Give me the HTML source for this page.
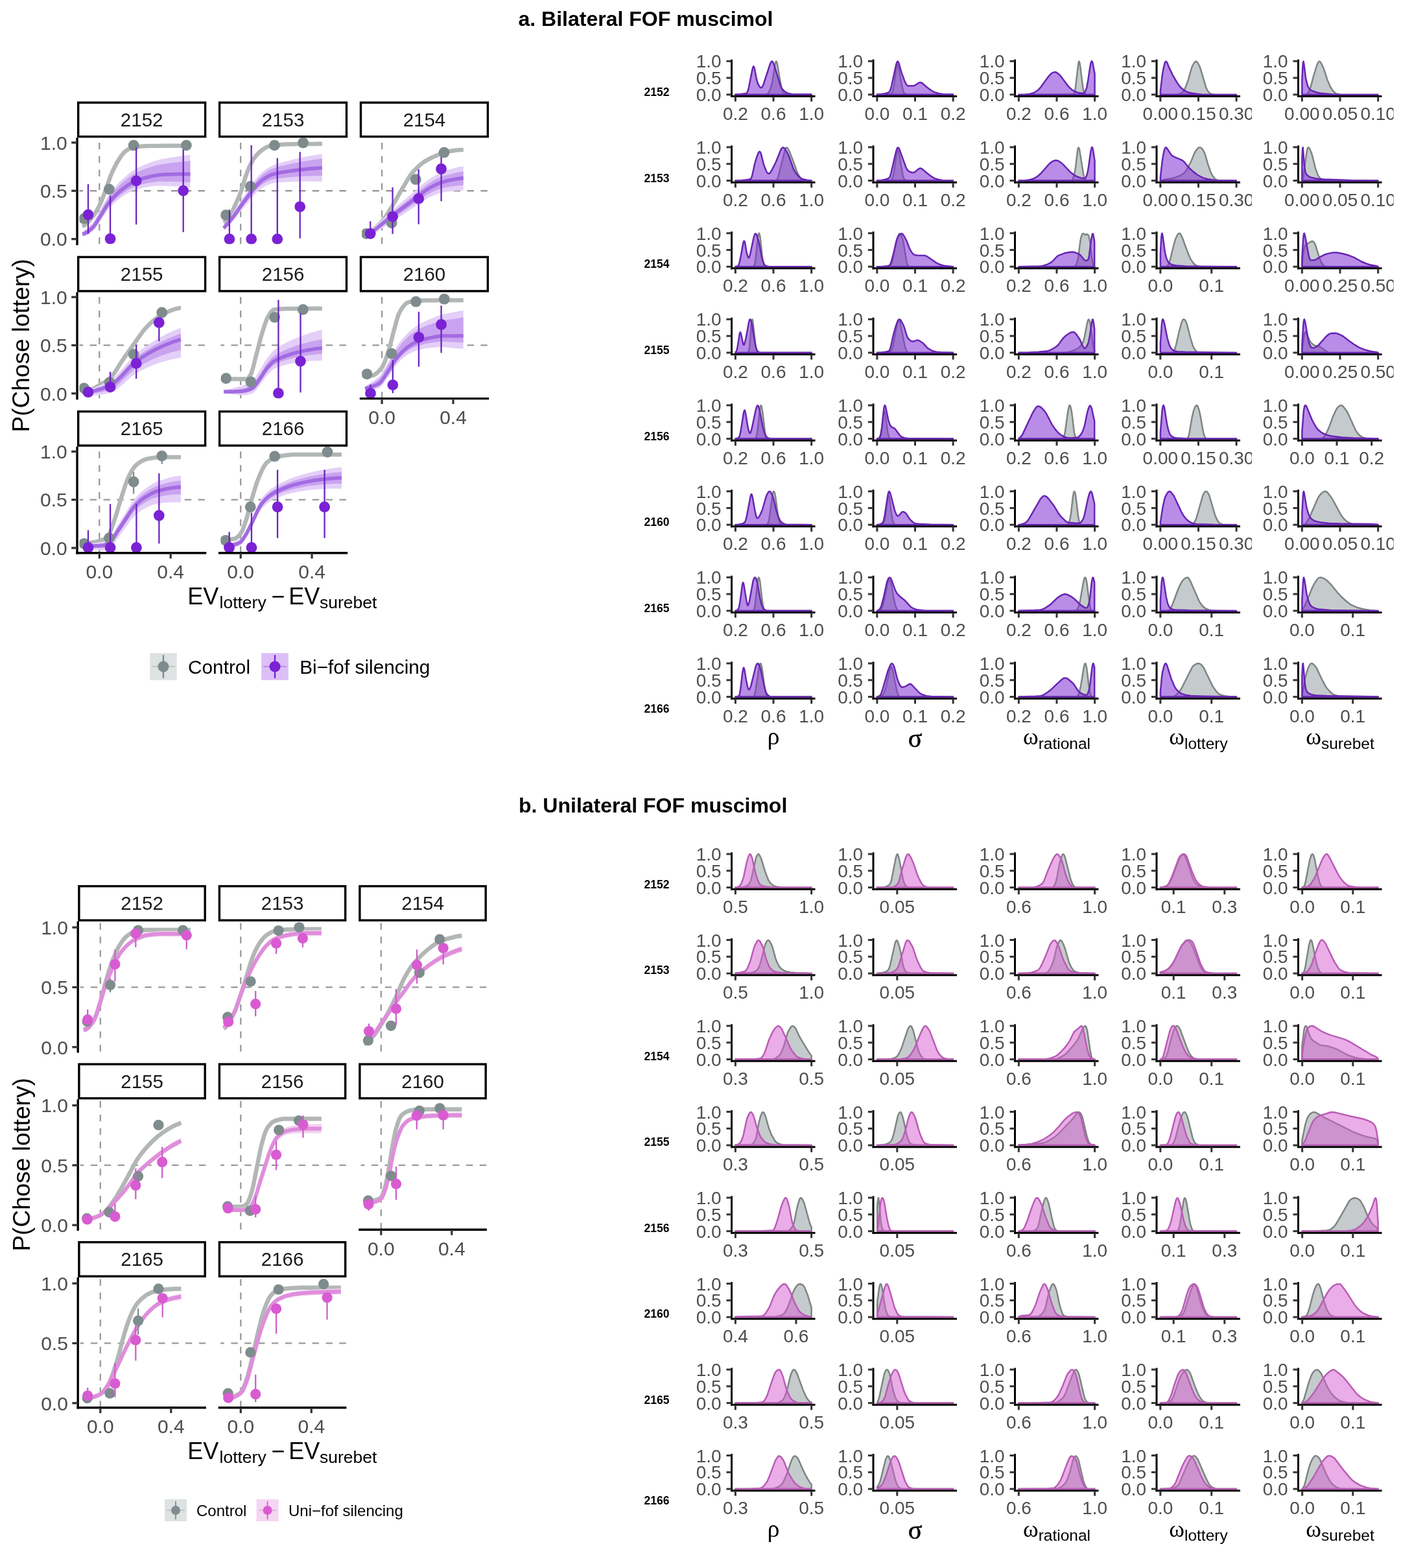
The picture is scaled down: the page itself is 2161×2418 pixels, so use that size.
<!DOCTYPE html>
<html><head><meta charset="utf-8"><title>FOF muscimol</title>
<style>html,body{margin:0;padding:0;background:#fff;} svg{display:block;}</style></head>
<body><svg width="2161" height="2418" viewBox="0 0 2161 2418" font-family="'Liberation Sans', Arial, Helvetica, sans-serif"><text x="799.50" y="39.90" font-size="32" text-anchor="start" fill="#000" font-weight="bold">a. Bilateral FOF muscimol</text>
<text x="800.00" y="1252.50" font-size="32" text-anchor="start" fill="#000" font-weight="bold">b. Unilateral FOF muscimol</text>
<clipPath id="clipA00"><rect x="122.40" y="212.40" width="195.90" height="164.00"/></clipPath>
<g clip-path="url(#clipA00)">
<line x1="153.30" y1="376.40" x2="153.30" y2="212.40" stroke="#999999" stroke-width="2.3" stroke-dasharray="10.4,10.47"/>
<line x1="117.80" y1="294.25" x2="318.30" y2="294.25" stroke="#999999" stroke-width="2.3" stroke-dasharray="10.4,10.47"/>
<path d="M127.2,346.6l3.3-2.1 3.3-2.8 3.4-3.4 3.3-3.8 3.3-4.1 3.3-4.9 3.4-5.6 3.3-6.4 3.3-7.7 3.3-8.7 3.4-8.9 3.3-9.8 3.3-9.3 3.3-7.7 3.4-6.9 3.3-6.3 3.3-5.3 3.3-5.1 3.4-4.3 3.3-3.2 3.3-2.2 3.3-1.8 3.4-1.2 3.3-.7 3.3-.5 3.3-.5 3.4-.4 3.3-.3 3.3-.2 3.3-.1 3.4,0 3.3-.1 3.3,0 3.3,0 3.4-.1 3.3,0 3.3,0 3.3-.1 3.4,0 3.3,0 3.3,0 3.3-.1 3.4,0 3.3,0 3.3,0 3.3,0 3.3,0 3.4,0 3.3,0 3.3,0 0,5.3 -3.3,0 -3.3,0 -3.4,0 -3.3,.1 -3.3,0 -3.3,0 -3.3,0 -3.4,0 -3.3,0 -3.3,0 -3.3,.1 -3.4,0 -3.3,0 -3.3,0 -3.3,.1 -3.4,0 -3.3,.1 -3.3,0 -3.3,0 -3.4,.1 -3.3,.1 -3.3,.2 -3.3,.3 -3.4,.4 -3.3,.4 -3.3,.6 -3.3,.7 -3.4,1.2 -3.3,1.8 -3.3,2.2 -3.3,3.1 -3.4,4.4 -3.3,5 -3.3,5.4 -3.3,6.2 -3.4,7 -3.3,7.7 -3.3,9.2 -3.3,9.8 -3.4,9 -3.3,8.6 -3.3,7.7 -3.3,6.4 -3.4,5.7 -3.3,4.8 -3.3,4.2 -3.3,3.8 -3.4,3.4 -3.3,2.8 -3.3,2.1Z" fill="#d3d7d7"/>
<path d="M127.2,349.3l3.3-2.1 3.3-2.8 3.4-3.4 3.3-3.8 3.3-4.1 3.3-4.9 3.4-5.7 3.3-6.4 3.3-7.6 3.3-8.7 3.4-9 3.3-9.7 3.3-9.3 3.3-7.7 3.4-7 3.3-6.2 3.3-5.4 3.3-5 3.4-4.4 3.3-3.1 3.3-2.2 3.3-1.8 3.4-1.2 3.3-.7 3.3-.5 3.3-.5 3.4-.4 3.3-.3 3.3-.2 3.3-.1 3.4,0 3.3-.1 3.3,0 3.3-.1 3.4,0 3.3,0 3.3-.1 3.3,0 3.4,0 3.3,0 3.3-.1 3.3,0 3.4,0 3.3,0 3.3,0 3.3,0 3.3,0 3.4,0 3.3,0 3.3,0" fill="none" stroke="#b2b7b6" stroke-width="6.5" stroke-linecap="butt"/>
<path d="M127.2,357.2l3.3-2.1 3.3-2.5 3.4-3.1 3.3-3.5 3.3-3.8 3.3-4.9 3.4-6 3.3-6.1 3.3-5.9 3.3-6.2 3.4-5.9 3.3-5.2 3.3-4.7 3.3-4.4 3.4-4.1 3.3-3.9 3.3-3.6 3.3-3.3 3.4-3.1 3.3-3 3.3-2.9 3.3-2.6 3.4-2.3 3.3-2 3.3-1.9 3.3-1.8 3.4-1.6 3.3-1.6 3.3-1.4 3.3-1.3 3.4-1.3 3.3-1.2 3.3-1.2 3.3-1.1 3.4-1 3.3-.8 3.3-.7 3.3-.6 3.4-.5 3.3-.6 3.3-.5 3.3-.6 3.4-.5 3.3-.5 3.3-.5 3.3-.5 3.3-.4 3.4-.5 3.3-.4 3.3-.5 0,50.4 -3.3-.2 -3.3-.3 -3.4-.2 -3.3-.2 -3.3-.3 -3.3-.2 -3.3-.2 -3.4-.2 -3.3-.1 -3.3-.2 -3.3-.2 -3.4-.1 -3.3-.2 -3.3,0 -3.3,.1 -3.4,.2 -3.3,.4 -3.3,.4 -3.3,.5 -3.4,.5 -3.3,.5 -3.3,.7 -3.3,.7 -3.4,.9 -3.3,1 -3.3,1.1 -3.3,1.2 -3.4,1.5 -3.3,1.8 -3.3,2 -3.3,2.2 -3.4,2.3 -3.3,2.5 -3.3,2.7 -3.3,3 -3.4,3.2 -3.3,3.5 -3.3,3.9 -3.3,4.3 -3.4,4.9 -3.3,5.2 -3.3,4.9 -3.3,5.1 -3.4,5 -3.3,3.9 -3.3,2.6 -3.3,2.3 -3.4,1.9 -3.3,1.2 -3.3,.1Z" fill="#e3cff8"/>
<path d="M127.2,359.1l3.3-1.7 3.3-2.3 3.4-2.9 3.3-3.3 3.3-3.5 3.3-4.8 3.4-5.8 3.3-5.9 3.3-5.8 3.3-6 3.4-5.7 3.3-5 3.3-4.6 3.3-4.2 3.4-4 3.3-3.7 3.3-3.5 3.3-3.2 3.4-2.9 3.3-2.9 3.3-2.6 3.3-2.5 3.4-2.2 3.3-1.9 3.3-1.7 3.3-1.7 3.4-1.5 3.3-1.4 3.3-1.3 3.3-1.1 3.4-1.2 3.3-1.1 3.3-1 3.3-1 3.4-.8 3.3-.7 3.3-.6 3.3-.4 3.4-.5 3.3-.4 3.3-.4 3.3-.4 3.4-.4 3.3-.4 3.3-.4 3.3-.4 3.3-.3 3.4-.3 3.3-.3 3.3-.3 0,33 -3.3-.2 -3.3-.2 -3.4-.1 -3.3-.1 -3.3-.2 -3.3-.1 -3.3-.1 -3.4-.1 -3.3-.1 -3.3,0 -3.3-.1 -3.4,0 -3.3-.1 -3.3,.1 -3.3,.2 -3.4,.3 -3.3,.5 -3.3,.5 -3.3,.6 -3.4,.6 -3.3,.6 -3.3,.8 -3.3,.9 -3.4,1 -3.3,1 -3.3,1.2 -3.3,1.4 -3.4,1.6 -3.3,1.9 -3.3,2.2 -3.3,2.2 -3.4,2.4 -3.3,2.6 -3.3,2.9 -3.3,3.1 -3.4,3.4 -3.3,3.6 -3.3,3.9 -3.3,4.5 -3.4,5 -3.3,5.4 -3.3,5 -3.3,5.3 -3.4,5.1 -3.3,4 -3.3,2.8 -3.3,2.5 -3.4,2 -3.3,1.4 -3.3,.4Z" fill="#c9a3ef"/>
<path d="M127.2,360.9l3.3-.9 3.3-1.7 3.4-2.4 3.3-2.8 3.3-3 3.3-4.3 3.4-5.4 3.3-5.5 3.3-5.3 3.3-5.6 3.4-5.3 3.3-4.7 3.3-4.1 3.3-3.9 3.4-3.6 3.3-3.3 3.3-3.1 3.3-2.8 3.4-2.6 3.3-2.5 3.3-2.4 3.3-2.1 3.4-1.8 3.3-1.6 3.3-1.4 3.3-1.3 3.4-1.1 3.3-1.1 3.3-1 3.3-.8 3.4-.8 3.3-.8 3.3-.7 3.3-.6 3.4-.6 3.3-.4 3.3-.2 3.3-.1 3.4-.2 3.3-.1 3.3-.1 3.3-.1 3.4-.1 3.3-.1 3.3-.1 3.3,0 3.3-.1 3.4,0 3.3,0 3.3,0" fill="none" stroke="#a26be2" stroke-width="5.5" stroke-linecap="butt"/>
<circle cx="129.7" cy="337.2" r="8.4" fill="#7f8c8d"/>
<circle cx="168.4" cy="291.9" r="8.4" fill="#7f8c8d"/>
<circle cx="206.1" cy="224.1" r="8.4" fill="#7f8c8d"/>
<circle cx="287.4" cy="224.1" r="8.4" fill="#7f8c8d"/>
<line x1="135.99" y1="360.27" x2="135.99" y2="283.99" stroke="#6a26be" stroke-width="2.3"/>
<circle cx="136.0" cy="331.1" r="8.4" fill="#7a22d4"/>
<line x1="170.06" y1="368.60" x2="170.06" y2="301.39" stroke="#6a26be" stroke-width="2.3"/>
<circle cx="170.1" cy="368.2" r="8.4" fill="#7a22d4"/>
<line x1="210.17" y1="346.30" x2="210.17" y2="227.48" stroke="#6a26be" stroke-width="2.3"/>
<circle cx="210.2" cy="278.9" r="8.4" fill="#7a22d4"/>
<line x1="282.71" y1="358.04" x2="282.71" y2="230.76" stroke="#6a26be" stroke-width="2.3"/>
<circle cx="282.7" cy="294.1" r="8.4" fill="#7a22d4"/>
</g>
<rect x="120.70" y="158.20" width="195.90" height="52.50" fill="#fff" stroke="#000" stroke-width="3.4"/>
<text x="218.65" y="194.92" font-size="29.5" text-anchor="middle" fill="#1a1a1a">2152</text>
<line x1="119.00" y1="212.40" x2="119.00" y2="378.10" stroke="#000" stroke-width="3.4"/>
<line x1="110.20" y1="368.60" x2="119.00" y2="368.60" stroke="#333333" stroke-width="3.3"/>
<text x="103.70" y="379.40" font-size="30" text-anchor="end" fill="#4d4d4d">0.0</text>
<line x1="110.20" y1="294.25" x2="119.00" y2="294.25" stroke="#333333" stroke-width="3.3"/>
<text x="103.70" y="305.05" font-size="30" text-anchor="end" fill="#4d4d4d">0.5</text>
<line x1="110.20" y1="219.90" x2="119.00" y2="219.90" stroke="#333333" stroke-width="3.3"/>
<text x="103.70" y="230.70" font-size="30" text-anchor="end" fill="#4d4d4d">1.0</text>
<clipPath id="clipA01"><rect x="340.30" y="212.40" width="195.90" height="164.00"/></clipPath>
<g clip-path="url(#clipA01)">
<line x1="371.20" y1="376.40" x2="371.20" y2="212.40" stroke="#999999" stroke-width="2.3" stroke-dasharray="10.4,10.47"/>
<line x1="335.70" y1="294.25" x2="536.20" y2="294.25" stroke="#999999" stroke-width="2.3" stroke-dasharray="10.4,10.47"/>
<path d="M345.1,340.6l3-2.2 3.1-3.3 3-4.1 3-5 3.1-6.9 3-7 3-6.5 3.1-6.8 3-7.7 3-10.7 3.1-9.7 3-8.6 3-7.1 3.1-6.3 3-5.5 3-4.1 3.1-3.5 3-3 3-2.8 3.1-2.3 3-1.9 3-1.6 3.1-1 3-.7 3-.5 3.1-.4 3-.4 3-.3 3.1-.3 3-.3 3-.2 3.1-.1 3-.1 3-.1 3.1,0 3-.1 3-.1 3.1,0 3-.1 3,0 3.1,0 3,0 3-.1 3.1,0 3,0 3,0 3.1,0 3,0 3,0 3.1,0 0,5.3 -3.1,0 -3,0 -3,0 -3.1,0 -3,.1 -3,0 -3.1,0 -3,0 -3,0 -3.1,.1 -3,0 -3,0 -3.1,.1 -3,0 -3,.1 -3.1,.1 -3,.1 -3,.1 -3.1,.1 -3,.2 -3,.2 -3.1,.3 -3,.4 -3,.3 -3.1,.4 -3,.6 -3,.6 -3.1,1.1 -3,1.6 -3,1.8 -3.1,2.3 -3,2.8 -3,3.1 -3.1,3.4 -3,4.2 -3,5.4 -3.1,6.3 -3,7.2 -3,8.6 -3.1,9.7 -3,10.6 -3,7.8 -3.1,6.8 -3,6.5 -3,6.9 -3.1,7 -3,4.9 -3,4.1 -3.1,3.3 -3,2.2Z" fill="#d3d7d7"/>
<path d="M345.1,343.2l3-2.1 3.1-3.4 3-4 3-5 3.1-6.9 3-7 3-6.5 3.1-6.8 3-7.8 3-10.6 3.1-9.7 3-8.6 3-7.2 3.1-6.3 3-5.4 3-4.1 3.1-3.5 3-3.1 3-2.7 3.1-2.4 3-1.8 3-1.6 3.1-1.1 3-.6 3-.5 3.1-.4 3-.4 3-.3 3.1-.4 3-.2 3-.2 3.1-.1 3-.1 3-.1 3.1-.1 3,0 3-.1 3.1,0 3-.1 3,0 3.1,0 3-.1 3,0 3.1,0 3,0 3,0 3.1,0 3-.1 3,0 3.1,0" fill="none" stroke="#b2b7b6" stroke-width="6.5" stroke-linecap="butt"/>
<path d="M345.1,347.9l3-4.1 3.1-4 3-4.1 3-4.3 3.1-4.3 3-4.5 3-4.7 3.1-4.9 3-4.9 3-4.6 3.1-4.2 3-4.3 3-4.6 3.1-4.6 3-4.3 3-4 3.1-3.7 3-3.5 3-3 3.1-2.8 3-2.4 3-2.2 3.1-1.9 3-1.6 3-1.4 3.1-1.3 3-1 3-1 3.1-.8 3-.8 3-.8 3.1-.8 3-.8 3-.8 3.1-.7 3-.8 3-.7 3.1-.6 3-.6 3-.7 3.1-.6 3-.6 3-.6 3.1-.5 3-.6 3-.5 3.1-.6 3-.5 3-.4 3.1-.5 0,42.7 -3.1-.1 -3-.1 -3-.1 -3.1,0 -3-.1 -3,0 -3.1,0 -3,0 -3,0 -3.1,.1 -3,0 -3,0 -3.1,.1 -3,.1 -3,.1 -3.1,.1 -3,.2 -3,.2 -3.1,.2 -3,.1 -3,.2 -3.1,.2 -3,.3 -3,.5 -3.1,.5 -3,.8 -3,1 -3.1,1.2 -3,1.5 -3,1.8 -3.1,2 -3,2.4 -3,2.8 -3.1,3 -3,3.3 -3,3.6 -3.1,3.8 -3,3.9 -3,3.5 -3.1,3.5 -3,3.7 -3,4.2 -3.1,4.1 -3,3.8 -3,3.6 -3.1,3.4 -3,3.3 -3,3.1 -3.1,2.9 -3,2.6Z" fill="#e3cff8"/>
<path d="M345.1,349.9l3-3.9 3.1-3.9 3-3.9 3-4.1 3.1-4.2 3-4.4 3-4.5 3.1-4.8 3-4.8 3-4.5 3.1-4.1 3-4.1 3-4.6 3.1-4.4 3-4.2 3-3.9 3.1-3.6 3-3.4 3-2.9 3.1-2.7 3-2.3 3-2.1 3.1-1.8 3-1.5 3-1.3 3.1-1.2 3-.9 3-.9 3.1-.7 3-.7 3-.7 3.1-.7 3-.7 3-.7 3.1-.7 3-.6 3-.6 3.1-.6 3-.5 3-.6 3.1-.5 3-.5 3-.5 3.1-.5 3-.4 3-.5 3.1-.4 3-.4 3-.4 3.1-.4 0,26.5 -3.1,0 -3,0 -3,0 -3.1,.1 -3,.1 -3,.1 -3.1,.1 -3,.1 -3,.1 -3.1,.2 -3,.1 -3,.2 -3.1,.2 -3,.2 -3,.2 -3.1,.3 -3,.3 -3,.3 -3.1,.3 -3,.3 -3,.3 -3.1,.3 -3,.4 -3,.6 -3.1,.7 -3,.9 -3,1.1 -3.1,1.4 -3,1.6 -3,1.9 -3.1,2.2 -3,2.5 -3,2.9 -3.1,3.1 -3,3.5 -3,3.7 -3.1,4 -3,4.1 -3,3.6 -3.1,3.6 -3,3.9 -3,4.3 -3.1,4.3 -3,4 -3,3.7 -3.1,3.7 -3,3.4 -3,3.3 -3.1,3.2 -3,2.8Z" fill="#c9a3ef"/>
<path d="M345.1,351.7l3-3.4 3.1-3.5 3-3.6 3-3.7 3.1-3.9 3-4.1 3-4.2 3.1-4.5 3-4.5 3-4.2 3.1-3.8 3-3.9 3-4.3 3.1-4.2 3-3.9 3-3.7 3.1-3.3 3-3.1 3-2.8 3.1-2.4 3-2.1 3-1.8 3.1-1.6 3-1.3 3-1 3.1-1 3-.7 3-.6 3.1-.6 3-.4 3-.5 3.1-.5 3-.5 3-.5 3.1-.4 3-.4 3-.4 3.1-.4 3-.3 3-.3 3.1-.4 3-.3 3-.3 3.1-.3 3-.2 3-.3 3.1-.2 3-.2 3-.2 3.1-.2" fill="none" stroke="#a26be2" stroke-width="5.5" stroke-linecap="butt"/>
<circle cx="348.4" cy="331.7" r="8.4" fill="#7f8c8d"/>
<circle cx="386.3" cy="287.4" r="8.4" fill="#7f8c8d"/>
<circle cx="423.4" cy="224.1" r="8.4" fill="#7f8c8d"/>
<circle cx="467.6" cy="220.2" r="8.4" fill="#7f8c8d"/>
<line x1="353.89" y1="368.60" x2="353.89" y2="323.25" stroke="#6a26be" stroke-width="2.3"/>
<circle cx="353.9" cy="368.6" r="8.4" fill="#7a22d4"/>
<line x1="387.69" y1="368.60" x2="387.69" y2="224.06" stroke="#6a26be" stroke-width="2.3"/>
<circle cx="387.7" cy="368.6" r="8.4" fill="#7a22d4"/>
<line x1="427.80" y1="368.60" x2="427.80" y2="243.69" stroke="#6a26be" stroke-width="2.3"/>
<circle cx="427.8" cy="368.6" r="8.4" fill="#7a22d4"/>
<line x1="462.69" y1="367.56" x2="462.69" y2="234.32" stroke="#6a26be" stroke-width="2.3"/>
<circle cx="462.7" cy="318.8" r="8.4" fill="#7a22d4"/>
</g>
<rect x="338.60" y="158.20" width="195.90" height="52.50" fill="#fff" stroke="#000" stroke-width="3.4"/>
<text x="436.55" y="194.92" font-size="29.5" text-anchor="middle" fill="#1a1a1a">2153</text>
<clipPath id="clipA02"><rect x="558.20" y="212.40" width="195.90" height="164.00"/></clipPath>
<g clip-path="url(#clipA02)">
<line x1="589.10" y1="376.40" x2="589.10" y2="212.40" stroke="#999999" stroke-width="2.3" stroke-dasharray="10.4,10.47"/>
<line x1="553.60" y1="294.25" x2="754.10" y2="294.25" stroke="#999999" stroke-width="2.3" stroke-dasharray="10.4,10.47"/>
<path d="M563,361.5l3-2.1 3.1-2.3 3-2.4 3-2.5 3.1-2.6 3-2.8 3-2.9 3.1-3.1 3-3.5 3-4 3.1-4.4 3-4.8 3-4.8 3.1-4.9 3-5.2 3-5.3 3.1-5.4 3-5.3 3-5.1 3.1-5.1 3-5.2 3-5.1 3.1-4.7 3-4.1 3-3.5 3.1-3.1 3-2.9 3-2.7 3.1-2.4 3-2.2 3-1.9 3.1-1.8 3-1.6 3-1.5 3.1-1.4 3-1.3 3-1.2 3.1-1.2 3-1.1 3-1.1 3.1-.9 3-.8 3-.7 3.1-.5 3-.5 3-.4 3.1-.4 3-.3 3-.2 3.1-.1 0,5.4 -3.1,0 -3,.2 -3,.3 -3.1,.4 -3,.5 -3,.5 -3.1,.5 -3,.6 -3,.8 -3.1,1 -3,1 -3,1.2 -3.1,1.2 -3,1.2 -3,1.2 -3.1,1.4 -3,1.5 -3,1.7 -3.1,1.8 -3,1.9 -3,2.2 -3.1,2.4 -3,2.6 -3,2.9 -3.1,3.2 -3,3.4 -3,4.2 -3.1,4.7 -3,5 -3,5.2 -3.1,5.2 -3,5.1 -3,5.3 -3.1,5.4 -3,5.3 -3,5.1 -3.1,4.9 -3,4.9 -3,4.7 -3.1,4.5 -3,4 -3,3.5 -3.1,3.1 -3,2.9 -3,2.7 -3.1,2.6 -3,2.6 -3,2.3 -3.1,2.3 -3,2.1Z" fill="#d3d7d7"/>
<path d="M563,364.1l3-2.1 3.1-2.2 3-2.4 3-2.5 3.1-2.7 3-2.7 3-2.9 3.1-3.1 3-3.5 3-4 3.1-4.5 3-4.7 3-4.9 3.1-4.9 3-5.1 3-5.3 3.1-5.4 3-5.3 3-5.1 3.1-5.1 3-5.2 3-5.1 3.1-4.7 3-4.1 3-3.5 3.1-3.1 3-2.9 3-2.7 3.1-2.4 3-2.2 3-1.9 3.1-1.8 3-1.6 3-1.5 3.1-1.4 3-1.3 3-1.2 3.1-1.2 3-1.1 3-1.1 3.1-1 3-.8 3-.6 3.1-.5 3-.5 3-.5 3.1-.4 3-.2 3-.2 3.1-.1" fill="none" stroke="#b2b7b6" stroke-width="6.5" stroke-linecap="butt"/>
<path d="M563,363.4l3-2.6 3.1-2.8 3-2.9 3-3 3.1-3.1 3-2.8 3-2.9 3.1-2.8 3-2.8 3-2.9 3.1-2.7 3-2.8 3-2.7 3.1-2.7 3-2.6 3-2.6 3.1-2.6 3-2.6 3-2.6 3.1-2.6 3-2.5 3-2.6 3.1-2.5 3-2.6 3-2.5 3.1-2.6 3-2.6 3-2.7 3.1-2.7 3-2.6 3-2.5 3.1-2.3 3-2 3-2 3.1-1.9 3-1.8 3-1.7 3.1-1.4 3-1.3 3-1.1 3.1-1.1 3-1 3-1 3.1-.8 3-.9 3-.8 3.1-.8 3-.7 3-.6 3.1-.6 0,37.4 -3.1,.1 -3,.2 -3,.2 -3.1,.2 -3,.3 -3,.4 -3.1,.3 -3,.4 -3,.5 -3.1,.6 -3,.6 -3,.8 -3.1,.9 -3,1.1 -3,1.2 -3.1,1.4 -3,1.4 -3,1.5 -3.1,1.7 -3,2 -3,2 -3.1,2.2 -3,2.1 -3,2.1 -3.1,2 -3,1.9 -3,2 -3.1,1.9 -3,2 -3,1.9 -3.1,2 -3,2 -3,1.9 -3.1,2 -3,1.9 -3,2 -3.1,2.1 -3,2 -3,2.1 -3.1,2.1 -3,2.1 -3,2.1 -3.1,2.1 -3,2.1 -3,2.1 -3.1,2.2 -3,2.1 -3,2.1 -3.1,1.7 -3,1.2Z" fill="#e3cff8"/>
<path d="M563,364.9l3-2.3 3.1-2.6 3-2.7 3-2.9 3.1-2.8 3-2.7 3-2.7 3.1-2.7 3-2.6 3-2.7 3.1-2.6 3-2.6 3-2.6 3.1-2.5 3-2.5 3-2.5 3.1-2.5 3-2.4 3-2.4 3.1-2.5 3-2.4 3-2.4 3.1-2.5 3-2.4 3-2.4 3.1-2.4 3-2.5 3-2.6 3.1-2.6 3-2.5 3-2.4 3.1-2.1 3-2 3-1.8 3.1-1.8 3-1.7 3-1.5 3.1-1.3 3-1.2 3-1 3.1-1 3-.9 3-.8 3.1-.8 3-.7 3-.7 3.1-.7 3-.6 3-.5 3.1-.5 0,21.3 -3.1,.2 -3,.2 -3,.3 -3.1,.4 -3,.4 -3,.4 -3.1,.5 -3,.5 -3,.6 -3.1,.6 -3,.8 -3,.8 -3.1,1.1 -3,1.2 -3,1.3 -3.1,1.5 -3,1.5 -3,1.7 -3.1,1.8 -3,2 -3,2.2 -3.1,2.3 -3,2.2 -3,2.2 -3.1,2.1 -3,2.1 -3,2 -3.1,2.1 -3,2.1 -3,2.1 -3.1,2.1 -3,2 -3,2.1 -3.1,2.1 -3,2.1 -3,2.1 -3.1,2.2 -3,2.2 -3,2.2 -3.1,2.2 -3,2.3 -3,2.2 -3.1,2.3 -3,2.2 -3,2.3 -3.1,2.3 -3,2.4 -3,2.2 -3.1,1.9 -3,1.6Z" fill="#c9a3ef"/>
<path d="M563,366.4l3-2 3.1-2.2 3-2.5 3-2.6 3.1-2.6 3-2.5 3-2.5 3.1-2.5 3-2.5 3-2.4 3.1-2.5 3-2.4 3-2.4 3.1-2.3 3-2.4 3-2.3 3.1-2.2 3-2.3 3-2.3 3.1-2.3 3-2.2 3-2.3 3.1-2.2 3-2.3 3-2.2 3.1-2.3 3-2.4 3-2.4 3.1-2.4 3-2.4 3-2.2 3.1-2 3-1.8 3-1.7 3.1-1.6 3-1.6 3-1.3 3.1-1.2 3-1 3-.9 3.1-.8 3-.8 3-.7 3.1-.6 3-.6 3-.5 3.1-.6 3-.4 3-.4 3.1-.4" fill="none" stroke="#a26be2" stroke-width="5.5" stroke-linecap="butt"/>
<circle cx="565.2" cy="360.3" r="8.4" fill="#7f8c8d"/>
<circle cx="604.2" cy="343.9" r="8.4" fill="#7f8c8d"/>
<circle cx="641.3" cy="276.7" r="8.4" fill="#7f8c8d"/>
<circle cx="685.0" cy="235.2" r="8.4" fill="#7f8c8d"/>
<line x1="571.24" y1="364.14" x2="571.24" y2="341.24" stroke="#6a26be" stroke-width="2.3"/>
<circle cx="571.2" cy="360.3" r="8.4" fill="#7a22d4"/>
<line x1="605.58" y1="360.87" x2="605.58" y2="289.05" stroke="#6a26be" stroke-width="2.3"/>
<circle cx="605.6" cy="334.0" r="8.4" fill="#7a22d4"/>
<line x1="645.70" y1="345.70" x2="645.70" y2="261.09" stroke="#6a26be" stroke-width="2.3"/>
<circle cx="645.7" cy="306.4" r="8.4" fill="#7a22d4"/>
<line x1="680.59" y1="310.31" x2="680.59" y2="242.06" stroke="#6a26be" stroke-width="2.3"/>
<circle cx="680.6" cy="260.5" r="8.4" fill="#7a22d4"/>
</g>
<rect x="556.50" y="158.20" width="195.90" height="52.50" fill="#fff" stroke="#000" stroke-width="3.4"/>
<text x="654.45" y="194.92" font-size="29.5" text-anchor="middle" fill="#1a1a1a">2154</text>
<clipPath id="clipA10"><rect x="122.40" y="450.60" width="195.90" height="164.00"/></clipPath>
<g clip-path="url(#clipA10)">
<line x1="153.30" y1="614.60" x2="153.30" y2="450.60" stroke="#999999" stroke-width="2.3" stroke-dasharray="10.4,10.47"/>
<line x1="117.80" y1="532.45" x2="318.30" y2="532.45" stroke="#999999" stroke-width="2.3" stroke-dasharray="10.4,10.47"/>
<path d="M127.2,601.1l3-.3 3.1-.5 3-.7 3-.9 3.1-1.2 3-1.6 3-1.7 3.1-1.8 3-1.8 3-1.7 3.1-1.9 3-1.9 3-2.2 3.1-2.5 3-3 3-3.9 3.1-4.5 3-4.9 3-4.9 3.1-4.7 3-4.4 3-4.3 3.1-4.4 3-4.3 3-4.3 3.1-4.2 3-4.3 3-4.3 3.1-4.3 3-4.2 3-4 3.1-3.7 3-3.3 3-2.9 3.1-2.9 3-2.7 3-2.5 3.1-2.3 3-2.1 3-1.8 3.1-1.6 3-1.5 3-1.4 3.1-1.4 3-1.2 3-1.2 3.1-1 3-.8 3-.7 3.1-.4 0,5.3 -3.1,.5 -3,.7 -3,.8 -3.1,1 -3,1.1 -3,1.3 -3.1,1.3 -3,1.5 -3,1.5 -3.1,1.5 -3,1.8 -3,2.1 -3.1,2.3 -3,2.6 -3,2.7 -3.1,2.8 -3,3 -3,3.2 -3.1,3.7 -3,4 -3,4.2 -3.1,4.3 -3,4.4 -3,4.2 -3.1,4.2 -3,4.3 -3,4.3 -3.1,4.4 -3,4.4 -3,4.4 -3.1,4.6 -3,5 -3,4.9 -3.1,4.5 -3,3.9 -3,2.9 -3.1,2.5 -3,2.2 -3,2 -3.1,1.8 -3,1.8 -3,1.8 -3.1,1.8 -3,1.7 -3,1.5 -3.1,1.3 -3,.8 -3,.7 -3.1,.6 -3,.3Z" fill="#d3d7d7"/>
<path d="M127.2,603.8l3-.3 3.1-.5 3-.8 3-.8 3.1-1.3 3-1.5 3-1.7 3.1-1.8 3-1.8 3-1.7 3.1-1.9 3-2 3-2.2 3.1-2.5 3-2.9 3-3.9 3.1-4.5 3-4.9 3-4.9 3.1-4.7 3-4.4 3-4.4 3.1-4.3 3-4.4 3-4.2 3.1-4.3 3-4.2 3-4.3 3.1-4.4 3-4.2 3-4 3.1-3.6 3-3.3 3-3 3.1-2.8 3-2.7 3-2.6 3.1-2.3 3-2 3-1.9 3.1-1.5 3-1.5 3-1.4 3.1-1.4 3-1.3 3-1.1 3.1-1 3-.8 3-.7 3.1-.4" fill="none" stroke="#b2b7b6" stroke-width="6.5" stroke-linecap="butt"/>
<path d="M127.2,603.1l3-.9 3.1-.9 3-.9 3-.9 3.1-.9 3-1.1 3-1.1 3.1-1.2 3-1.3 3-1.4 3.1-1.4 3-1.5 3-1.6 3.1-1.7 3-1.9 3-2.3 3.1-2.7 3-3 3-3.2 3.1-3.5 3-3.5 3-3.6 3.1-3.5 3-3.5 3-3.3 3.1-3.1 3-2.8 3-2.5 3.1-2.4 3-2.4 3-2.3 3.1-2.2 3-2.1 3-2.1 3.1-2 3-1.9 3-1.9 3.1-1.7 3-1.7 3-1.7 3.1-1.6 3-1.6 3-1.5 3.1-1.5 3-1.4 3-1.4 3.1-1.3 3-1.2 3-1.2 3.1-1.1 0,46.1 -3.1,.4 -3,.5 -3,.6 -3.1,.6 -3,.7 -3,.8 -3.1,.8 -3,.8 -3,.9 -3.1,.9 -3,1 -3,1 -3.1,1 -3,1.2 -3,1.2 -3.1,1.3 -3,1.3 -3,1.4 -3.1,1.5 -3,1.6 -3,1.6 -3.1,1.6 -3,1.8 -3,2 -3.1,2.3 -3,2.6 -3,2.7 -3.1,2.8 -3,2.8 -3,2.7 -3.1,2.6 -3,2.4 -3,2.2 -3.1,1.9 -3,1.5 -3,1 -3.1,.8 -3,.7 -3,.7 -3.1,.5 -3,.4 -3,.4 -3.1,.2 -3,.1 -3,0 -3.1-.1 -3-.2 -3-.4 -3.1-.5 -3-.9Z" fill="#e3cff8"/>
<path d="M127.2,604.1l3-.6 3.1-.5 3-.7 3-.7 3.1-.7 3-.9 3-.9 3.1-1.1 3-1.1 3-1.2 3.1-1.2 3-1.4 3-1.4 3.1-1.5 3-1.7 3-2.2 3.1-2.5 3-2.9 3-3.1 3.1-3.2 3-3.4 3-3.5 3.1-3.4 3-3.3 3-3.2 3.1-2.9 3-2.7 3-2.3 3.1-2.3 3-2.2 3-2.1 3.1-2.1 3-2 3-2 3.1-1.8 3-1.8 3-1.7 3.1-1.7 3-1.5 3-1.6 3.1-1.4 3-1.5 3-1.4 3.1-1.3 3-1.3 3-1.3 3.1-1.1 3-1.2 3-1 3.1-1 0,25.3 -3.1,.6 -3,.7 -3,.7 -3.1,.8 -3,.9 -3,.9 -3.1,1 -3,1 -3,1.1 -3.1,1.1 -3,1.1 -3,1.2 -3.1,1.2 -3,1.4 -3,1.4 -3.1,1.4 -3,1.6 -3,1.6 -3.1,1.7 -3,1.7 -3,1.8 -3.1,1.9 -3,1.9 -3,2.2 -3.1,2.6 -3,2.7 -3,2.9 -3.1,3 -3,3 -3,2.9 -3.1,2.9 -3,2.6 -3,2.4 -3.1,2.1 -3,1.7 -3,1.3 -3.1,1 -3,.9 -3,.9 -3.1,.7 -3,.7 -3,.6 -3.1,.5 -3,.4 -3,.3 -3.1,.1 -3,.1 -3,0 -3.1-.2 -3-.4Z" fill="#c9a3ef"/>
<path d="M127.2,605.3l3-.2 3.1-.4 3-.4 3-.5 3.1-.5 3-.7 3-.7 3.1-.9 3-.9 3-1 3.1-1.1 3-1.2 3-1.3 3.1-1.3 3-1.6 3-2 3.1-2.4 3-2.7 3-2.9 3.1-3.1 3-3.3 3-3.3 3.1-3.2 3-3.2 3-3 3.1-2.8 3-2.6 3-2.2 3.1-2.1 3-2.1 3-2 3.1-1.9 3-1.9 3-1.8 3.1-1.7 3-1.7 3-1.6 3.1-1.5 3-1.4 3-1.4 3.1-1.3 3-1.4 3-1.2 3.1-1.2 3-1.2 3-1.1 3.1-1.1 3-1 3-.9 3.1-.9" fill="none" stroke="#a26be2" stroke-width="5.5" stroke-linecap="butt"/>
<circle cx="129.7" cy="598.6" r="8.4" fill="#7f8c8d"/>
<circle cx="169.0" cy="589.6" r="8.4" fill="#7f8c8d"/>
<circle cx="206.1" cy="546.4" r="8.4" fill="#7f8c8d"/>
<circle cx="249.7" cy="482.0" r="8.4" fill="#7f8c8d"/>
<circle cx="136.0" cy="604.7" r="8.4" fill="#7a22d4"/>
<line x1="170.06" y1="596.84" x2="170.06" y2="573.34" stroke="#6a26be" stroke-width="2.3"/>
<circle cx="170.1" cy="596.8" r="8.4" fill="#7a22d4"/>
<line x1="210.17" y1="584.05" x2="210.17" y2="531.86" stroke="#6a26be" stroke-width="2.3"/>
<circle cx="210.2" cy="560.4" r="8.4" fill="#7a22d4"/>
<line x1="245.34" y1="526.20" x2="245.34" y2="497.51" stroke="#6a26be" stroke-width="2.3"/>
<circle cx="245.3" cy="497.5" r="8.4" fill="#7a22d4"/>
</g>
<rect x="120.70" y="396.40" width="195.90" height="52.50" fill="#fff" stroke="#000" stroke-width="3.4"/>
<text x="218.65" y="433.12" font-size="29.5" text-anchor="middle" fill="#1a1a1a">2155</text>
<line x1="119.00" y1="450.60" x2="119.00" y2="616.30" stroke="#000" stroke-width="3.4"/>
<line x1="110.20" y1="606.80" x2="119.00" y2="606.80" stroke="#333333" stroke-width="3.3"/>
<text x="103.70" y="617.60" font-size="30" text-anchor="end" fill="#4d4d4d">0.0</text>
<line x1="110.20" y1="532.45" x2="119.00" y2="532.45" stroke="#333333" stroke-width="3.3"/>
<text x="103.70" y="543.25" font-size="30" text-anchor="end" fill="#4d4d4d">0.5</text>
<line x1="110.20" y1="458.10" x2="119.00" y2="458.10" stroke="#333333" stroke-width="3.3"/>
<text x="103.70" y="468.90" font-size="30" text-anchor="end" fill="#4d4d4d">1.0</text>
<clipPath id="clipA11"><rect x="340.30" y="450.60" width="195.90" height="164.00"/></clipPath>
<g clip-path="url(#clipA11)">
<line x1="371.20" y1="614.60" x2="371.20" y2="450.60" stroke="#999999" stroke-width="2.3" stroke-dasharray="10.4,10.47"/>
<line x1="335.70" y1="532.45" x2="536.20" y2="532.45" stroke="#999999" stroke-width="2.3" stroke-dasharray="10.4,10.47"/>
<path d="M345.1,581.8l3,0 3.1,0 3,0 3,0 3.1,0 3,0 3,0 3.1,0 3,0 3,0 3.1,0 3,0 3-3.2 3.1-5.5 3-9.7 3-12.3 3.1-11.7 3-11.7 3-11.4 3.1-10.1 3-9.4 3-8.1 3.1-5.6 3-4.5 3-3.2 3.1-.8 3-.3 3-.3 3.1-.2 3-.2 3-.1 3.1,0 3-.1 3,0 3.1-.1 3,0 3,0 3.1,0 3-.1 3,0 3.1,0 3,0 3,0 3.1,0 3-.1 3,0 3.1,0 3,0 3,0 3.1,0 0,5.4 -3.1,0 -3,0 -3,0 -3.1,0 -3,0 -3,0 -3.1,0 -3,0 -3,.1 -3.1,0 -3,0 -3,0 -3.1,0 -3,.1 -3,0 -3.1,0 -3,.1 -3,0 -3.1,.1 -3,.1 -3,.1 -3.1,.3 -3,.2 -3,.3 -3.1,.9 -3,3.1 -3,4.6 -3.1,5.6 -3,8.1 -3,9.4 -3.1,10 -3,11.4 -3,11.8 -3.1,11.6 -3,12.4 -3,9.6 -3.1,5.6 -3,3.1 -3,.1 -3.1,0 -3,0 -3,0 -3.1,0 -3,0 -3,0 -3.1,0 -3,0 -3,0 -3.1,0 -3,0Z" fill="#d3d7d7"/>
<path d="M345.1,584.5l3,0 3.1,0 3,0 3,0 3.1,0 3,0 3,0 3.1,0 3,0 3,0 3.1,0 3-.1 3-3.1 3.1-5.5 3-9.7 3-12.3 3.1-11.7 3-11.7 3-11.5 3.1-10 3-9.4 3-8.1 3.1-5.6 3-4.6 3-3.1 3.1-.8 3-.4 3-.2 3.1-.2 3-.2 3-.1 3.1-.1 3,0 3,0 3.1-.1 3,0 3,0 3.1-.1 3,0 3,0 3.1,0 3,0 3-.1 3.1,0 3,0 3,0 3.1,0 3,0 3,0 3.1,0" fill="none" stroke="#b2b7b6" stroke-width="6.5" stroke-linecap="butt"/>
<path d="M345.1,602.6l3-1.1 3.1-.9 3-.9 3-.7 3.1-.8 3-.8 3-.7 3.1-.8 3-.7 3-1 3.1-1.2 3-1.4 3-1.6 3.1-1.9 3-2.2 3-3.7 3.1-4.7 3-4.9 3-4.8 3.1-5.3 3-5.3 3-4.6 3.1-4.1 3-3.8 3-3.2 3.1-2.6 3-2.2 3-2 3.1-1.7 3-1.7 3-1.6 3.1-1.6 3-1.5 3-1.5 3.1-1.4 3-1.3 3-1.3 3.1-1.2 3-1.1 3-1.1 3.1-1.1 3-1 3-1.1 3.1-1 3-.9 3-.9 3.1-.9 3-.8 3-.8 3.1-.7 0,47.6 -3.1,0 -3,.1 -3,0 -3.1,.2 -3,.2 -3,.2 -3.1,.3 -3,.2 -3,.4 -3.1,.3 -3,.3 -3,.4 -3.1,.5 -3,.5 -3,.5 -3.1,.7 -3,.7 -3,.7 -3.1,.8 -3,.8 -3,.9 -3.1,1 -3,1.1 -3,1.4 -3.1,1.8 -3,2.4 -3,3 -3.1,3.2 -3,3.8 -3,4.4 -3.1,4.4 -3,4 -3,4 -3.1,3.8 -3,2.8 -3,1.3 -3.1,.9 -3,.7 -3,.5 -3.1,.2 -3,0 -3-.3 -3.1-.3 -3-.3 -3-.4 -3.1-.4 -3-.4 -3-.5 -3.1-.5 -3-.8Z" fill="#e3cff8"/>
<path d="M345.1,603.4l3-.6 3.1-.4 3-.4 3-.4 3.1-.4 3-.4 3-.4 3.1-.5 3-.4 3-.6 3.1-.9 3-1.2 3-1.3 3.1-1.5 3-1.9 3-3.5 3.1-4.4 3-4.6 3-4.5 3.1-5.1 3-5 3-4.3 3.1-3.8 3-3.6 3-3 3.1-2.3 3-1.9 3-1.7 3.1-1.6 3-1.4 3-1.3 3.1-1.4 3-1.2 3-1.2 3.1-1.2 3-1.1 3-1 3.1-1 3-.9 3-.8 3.1-.9 3-.8 3-.8 3.1-.8 3-.7 3-.7 3.1-.6 3-.6 3-.5 3.1-.5 0,22.3 -3.1,.2 -3,.2 -3,.2 -3.1,.3 -3,.3 -3,.4 -3.1,.4 -3,.5 -3,.5 -3.1,.5 -3,.5 -3,.5 -3.1,.6 -3,.7 -3,.7 -3.1,.8 -3,.9 -3,.9 -3.1,1 -3,.9 -3,1.1 -3.1,1.2 -3,1.3 -3,1.6 -3.1,1.9 -3,2.6 -3,3.1 -3.1,3.5 -3,3.9 -3,4.6 -3.1,4.6 -3,4.2 -3,4.2 -3.1,4 -3,3 -3,1.5 -3.1,1.1 -3,.9 -3,.6 -3.1,.5 -3,.2 -3-.1 -3.1,0 -3-.1 -3-.1 -3.1-.2 -3-.1 -3-.2 -3.1-.3 -3-.3Z" fill="#c9a3ef"/>
<path d="M345.1,604.1l3,0 3.1,0 3,0 3-.1 3.1-.1 3-.1 3-.1 3.1-.1 3-.1 3-.4 3.1-.6 3-.9 3-1 3.1-1.3 3-1.7 3-3.1 3.1-4.2 3-4.4 3-4.3 3.1-4.8 3-4.7 3-4.1 3.1-3.6 3-3.3 3-2.8 3.1-2 3-1.8 3-1.4 3.1-1.3 3-1.2 3-1.2 3.1-1.1 3-1 3-1 3.1-1 3-.8 3-.9 3.1-.7 3-.7 3-.6 3.1-.7 3-.6 3-.6 3.1-.5 3-.5 3-.5 3.1-.4 3-.4 3-.3 3.1-.3" fill="none" stroke="#a26be2" stroke-width="5.5" stroke-linecap="butt"/>
<circle cx="348.7" cy="583.5" r="8.4" fill="#7f8c8d"/>
<circle cx="386.9" cy="589.0" r="8.4" fill="#7f8c8d"/>
<circle cx="423.7" cy="489.3" r="8.4" fill="#7f8c8d"/>
<circle cx="467.4" cy="477.4" r="8.4" fill="#7f8c8d"/>
<line x1="429.45" y1="606.80" x2="429.45" y2="462.41" stroke="#6a26be" stroke-width="2.3"/>
<circle cx="429.4" cy="606.4" r="8.4" fill="#7a22d4"/>
<line x1="463.52" y1="605.31" x2="463.52" y2="483.08" stroke="#6a26be" stroke-width="2.3"/>
<circle cx="463.5" cy="557.1" r="8.4" fill="#7a22d4"/>
</g>
<rect x="338.60" y="396.40" width="195.90" height="52.50" fill="#fff" stroke="#000" stroke-width="3.4"/>
<text x="436.55" y="433.12" font-size="29.5" text-anchor="middle" fill="#1a1a1a">2156</text>
<clipPath id="clipA12"><rect x="558.20" y="450.60" width="195.90" height="164.00"/></clipPath>
<g clip-path="url(#clipA12)">
<line x1="589.10" y1="614.60" x2="589.10" y2="450.60" stroke="#999999" stroke-width="2.3" stroke-dasharray="10.4,10.47"/>
<line x1="553.60" y1="532.45" x2="754.10" y2="532.45" stroke="#999999" stroke-width="2.3" stroke-dasharray="10.4,10.47"/>
<path d="M563,577.4l3-.1 3.1-.2 3-.2 3-.5 3.1-1.4 3-2.2 3-3 3.1-3.3 3-4.4 3-6.6 3.1-8.1 3-8.9 3-11.4 3.1-12 3-11.2 3-11.5 3.1-9.8 3-6 3-4.8 3.1-3.9 3-2.8 3-1.6 3.1-.8 3-.7 3-.6 3.1-.4 3-.2 3,0 3.1-.1 3,0 3-.1 3.1,0 3,0 3-.1 3.1,0 3,0 3,0 3.1-.1 3,0 3,0 3.1,0 3,0 3,0 3.1,0 3-.1 3,0 3.1,0 3,0 3,0 3.1,0 0,5.4 -3.1,0 -3,0 -3,0 -3.1,0 -3,0 -3,0 -3.1,0 -3,0 -3,0 -3.1,.1 -3,0 -3,0 -3.1,0 -3,0 -3,.1 -3.1,0 -3,0 -3,0 -3.1,.1 -3,0 -3,.1 -3.1,0 -3,.1 -3,.2 -3.1,.4 -3,.5 -3,.7 -3.1,.9 -3,1.5 -3,2.9 -3.1,3.9 -3,4.8 -3,6 -3.1,9.7 -3,11.6 -3,11.1 -3.1,12.1 -3,11.3 -3,9 -3.1,8 -3,6.6 -3,4.4 -3.1,3.4 -3,2.9 -3,2.3 -3.1,1.4 -3,.4 -3,.3 -3.1,.2 -3,0Z" fill="#d3d7d7"/>
<path d="M563,580l3,0 3.1-.2 3-.2 3-.5 3.1-1.4 3-2.3 3-2.9 3.1-3.3 3-4.4 3-6.6 3.1-8.1 3-9 3-11.3 3.1-12.1 3-11.1 3-11.6 3.1-9.7 3-6 3-4.8 3.1-3.9 3-2.9 3-1.5 3.1-.8 3-.7 3-.6 3.1-.4 3-.2 3-.1 3.1,0 3-.1 3,0 3.1,0 3-.1 3,0 3.1,0 3,0 3-.1 3.1,0 3,0 3,0 3.1,0 3-.1 3,0 3.1,0 3,0 3,0 3.1,0 3,0 3,0 3.1,0" fill="none" stroke="#b2b7b6" stroke-width="6.5" stroke-linecap="butt"/>
<path d="M563,596.4l3-2.5 3.1-2.1 3-1.9 3-1.9 3.1-2 3-2.2 3-2.4 3.1-3.4 3-4.7 3-5.4 3.1-5.5 3-5.2 3-5.7 3.1-5.7 3-5.6 3-5.1 3.1-4.4 3-4.2 3-3.9 3.1-3.6 3-3.3 3-3 3.1-2.7 3-2.5 3-2.3 3.1-2.1 3-2 3-1.7 3.1-1.7 3-1.5 3-1.5 3.1-1.3 3-1.3 3-1.2 3.1-1.2 3-1.3 3-1.1 3.1-1.1 3-.9 3-.7 3.1-.7 3-.6 3-.6 3.1-.6 3-.5 3-.6 3.1-.6 3-.6 3-.6 3.1-.6 0,59.5 -3.1-.3 -3-.3 -3-.2 -3.1-.3 -3-.3 -3-.3 -3.1-.3 -3-.2 -3-.3 -3.1-.3 -3-.1 -3,0 -3.1,.1 -3,.3 -3,.3 -3.1,.3 -3,.3 -3,.3 -3.1,.4 -3,.5 -3,.6 -3.1,.7 -3,.8 -3,.9 -3.1,1.2 -3,1.3 -3,1.6 -3.1,1.6 -3,2 -3,2.2 -3.1,2.6 -3,2.9 -3,3.1 -3.1,3.4 -3,3.9 -3,4.5 -3.1,4.7 -3,4.5 -3,4.1 -3.1,4.4 -3,4.2 -3,3.4 -3.1,2.1 -3,1.2 -3,.8 -3.1,.6 -3,.5 -3,.3 -3.1,.4 -3,.1Z" fill="#e3cff8"/>
<path d="M563,597.9l3-2.1 3.1-1.8 3-1.6 3-1.7 3.1-1.7 3-1.9 3-2.2 3.1-3.2 3-4.5 3-5.1 3.1-5.4 3-5 3-5.4 3.1-5.6 3-5.4 3-4.9 3.1-4.2 3-4 3-3.7 3.1-3.5 3-3.1 3-2.8 3.1-2.5 3-2.3 3-2.1 3.1-2 3-1.8 3-1.6 3.1-1.4 3-1.4 3-1.3 3.1-1.2 3-1.1 3-1 3.1-1.1 3-1 3-1 3.1-.9 3-.8 3-.6 3.1-.4 3-.5 3-.4 3.1-.5 3-.4 3-.4 3.1-.5 3-.4 3-.4 3.1-.5 0,38.7 -3.1-.2 -3-.1 -3-.1 -3.1-.2 -3-.1 -3-.2 -3.1-.1 -3-.2 -3-.1 -3.1-.2 -3,0 -3,.2 -3.1,.3 -3,.4 -3,.4 -3.1,.5 -3,.4 -3,.5 -3.1,.5 -3,.7 -3,.7 -3.1,.9 -3,.9 -3,1.1 -3.1,1.3 -3,1.5 -3,1.7 -3.1,1.8 -3,2.1 -3,2.5 -3.1,2.7 -3,3.1 -3,3.2 -3.1,3.5 -3,4.2 -3,4.6 -3.1,4.9 -3,4.6 -3,4.3 -3.1,4.6 -3,4.4 -3,3.6 -3.1,2.3 -3,1.4 -3,1 -3.1,.8 -3,.7 -3,.6 -3.1,.6 -3,.6Z" fill="#c9a3ef"/>
<path d="M563,599.4l3-1 3.1-.9 3-.8 3-.9 3.1-1.1 3-1.2 3-1.6 3.1-2.5 3-3.9 3-4.6 3.1-4.7 3-4.5 3-4.8 3.1-5.1 3-4.8 3-4.4 3.1-3.6 3-3.5 3-3.2 3.1-2.9 3-2.6 3-2.3 3.1-2 3-1.8 3-1.7 3.1-1.4 3-1.3 3-1.1 3.1-1 3-.9 3-.8 3.1-.7 3-.7 3-.6 3.1-.6 3-.6 3-.5 3.1-.4 3-.4 3-.1 3.1,0 3,0 3,0 3.1,0 3,0 3,0 3.1,0 3,0 3,0 3.1,0" fill="none" stroke="#a26be2" stroke-width="5.5" stroke-linecap="butt"/>
<circle cx="566.0" cy="576.8" r="8.4" fill="#7f8c8d"/>
<circle cx="604.2" cy="545.4" r="8.4" fill="#7f8c8d"/>
<circle cx="641.6" cy="465.2" r="8.4" fill="#7f8c8d"/>
<circle cx="685.3" cy="461.2" r="8.4" fill="#7f8c8d"/>
<line x1="571.52" y1="606.80" x2="571.52" y2="592.97" stroke="#6a26be" stroke-width="2.3"/>
<circle cx="571.5" cy="606.4" r="8.4" fill="#7a22d4"/>
<line x1="605.86" y1="606.35" x2="605.86" y2="555.35" stroke="#6a26be" stroke-width="2.3"/>
<circle cx="605.9" cy="593.6" r="8.4" fill="#7a22d4"/>
<line x1="645.97" y1="565.46" x2="645.97" y2="480.85" stroke="#6a26be" stroke-width="2.3"/>
<circle cx="646.0" cy="520.1" r="8.4" fill="#7a22d4"/>
<line x1="680.59" y1="544.20" x2="680.59" y2="471.33" stroke="#6a26be" stroke-width="2.3"/>
<circle cx="680.6" cy="500.5" r="8.4" fill="#7a22d4"/>
</g>
<rect x="556.50" y="396.40" width="195.90" height="52.50" fill="#fff" stroke="#000" stroke-width="3.4"/>
<text x="654.45" y="433.12" font-size="29.5" text-anchor="middle" fill="#1a1a1a">2160</text>
<line x1="554.80" y1="614.60" x2="754.10" y2="614.60" stroke="#000" stroke-width="3.4"/>
<line x1="589.10" y1="614.60" x2="589.10" y2="623.10" stroke="#333333" stroke-width="3.2"/>
<text x="589.10" y="653.90" font-size="30" text-anchor="middle" fill="#4d4d4d">0.0</text>
<line x1="699.00" y1="614.60" x2="699.00" y2="623.10" stroke="#333333" stroke-width="3.2"/>
<text x="699.00" y="653.90" font-size="30" text-anchor="middle" fill="#4d4d4d">0.4</text>
<clipPath id="clipA20"><rect x="122.40" y="688.80" width="195.90" height="164.00"/></clipPath>
<g clip-path="url(#clipA20)">
<line x1="153.30" y1="852.80" x2="153.30" y2="688.80" stroke="#999999" stroke-width="2.3" stroke-dasharray="10.4,10.47"/>
<line x1="117.80" y1="770.65" x2="318.30" y2="770.65" stroke="#999999" stroke-width="2.3" stroke-dasharray="10.4,10.47"/>
<path d="M127.2,835l3,0 3.1-.1 3-.3 3-.3 3.1-.5 3-.5 3-.6 3.1-.7 3-.7 3-1.1 3.1-1.5 3-2.1 3-2.7 3.1-5.7 3-8 3-8.8 3.1-8.8 3-10 3-10.5 3.1-9.8 3-9.3 3-9.1 3.1-8.2 3-6.5 3-5.5 3.1-4.7 3-3.8 3-2.5 3.1-2.3 3-1.9 3-1.6 3.1-1.2 3-.8 3-.6 3.1-.5 3-.5 3-.4 3.1-.3 3-.2 3-.1 3.1-.1 3,0 3,0 3.1,0 3,0 3,0 3.1,0 3,0 3,0 3.1,0 0,5.4 -3.1,0 -3,0 -3,0 -3.1,0 -3,0 -3,0 -3.1,0 -3,0 -3,0 -3.1,0 -3,.1 -3,.2 -3.1,.4 -3,.4 -3,.4 -3.1,.6 -3,.6 -3,.8 -3.1,1.2 -3,1.6 -3,1.9 -3.1,2.2 -3,2.6 -3,3.7 -3.1,4.8 -3,5.5 -3,6.5 -3.1,8.1 -3,9.2 -3,9.3 -3.1,9.8 -3,10.4 -3,10.1 -3.1,8.8 -3,8.8 -3,8 -3.1,5.6 -3,2.8 -3,2 -3.1,1.6 -3,1.1 -3,.7 -3.1,.7 -3,.6 -3,.5 -3.1,.4 -3,.4 -3,.2 -3.1,.2 -3,0Z" fill="#d3d7d7"/>
<path d="M127.2,837.7l3,0 3.1-.1 3-.3 3-.3 3.1-.5 3-.5 3-.6 3.1-.7 3-.7 3-1.1 3.1-1.5 3-2.1 3-2.8 3.1-5.6 3-8 3-8.8 3.1-8.8 3-10 3-10.5 3.1-9.8 3-9.3 3-9.1 3.1-8.2 3-6.5 3-5.5 3.1-4.8 3-3.7 3-2.6 3.1-2.2 3-1.9 3-1.6 3.1-1.2 3-.8 3-.6 3.1-.5 3-.5 3-.4 3.1-.3 3-.3 3-.1 3.1,0 3,0 3,0 3.1,0 3,0 3,0 3.1,0 3,0 3,0 3.1,0" fill="none" stroke="#b2b7b6" stroke-width="6.5" stroke-linecap="butt"/>
<path d="M127.2,840.8l3-.7 3.1-.6 3-.5 3-.5 3.1-.5 3-.5 3-.5 3.1-.6 3-.5 3-.7 3.1-.6 3-1.4 3-2.3 3.1-2.7 3-3.2 3-4.6 3.1-5.3 3-5.4 3-4.8 3.1-4.9 3-4.8 3-4.8 3.1-5.1 3-5.1 3-4.8 3.1-4 3-3.6 3-3.5 3.1-3.1 3-2.9 3-2.5 3.1-2.3 3-2.2 3-2 3.1-1.9 3-1.8 3-1.5 3.1-1.3 3-1.1 3-1.1 3.1-1 3-1 3-.9 3.1-.9 3-.8 3-.7 3.1-.6 3-.5 3-.4 3.1-.3 0,41.6 -3.1-.3 -3-.2 -3-.1 -3.1,0 -3,0 -3,.2 -3.1,.2 -3,.3 -3,.4 -3.1,.3 -3,.4 -3,.5 -3.1,.6 -3,.9 -3,1.1 -3.1,1.3 -3,1.3 -3,1.6 -3.1,1.6 -3,1.8 -3,2.2 -3.1,2.4 -3,2.7 -3,3 -3.1,3.3 -3,4.1 -3,4.4 -3.1,4.3 -3,4.1 -3,4.1 -3.1,4.1 -3,4.1 -3,4.6 -3.1,4.5 -3,3.8 -3,2.4 -3.1,2 -3,1.4 -3,.6 -3.1-.2 -3-.3 -3-.3 -3.1-.3 -3-.5 -3-.4 -3.1-.5 -3-.6 -3-.6 -3.1-.6 -3-1Z" fill="#e3cff8"/>
<path d="M127.2,841.6l3-.4 3.1-.4 3-.3 3-.3 3.1-.3 3-.4 3-.3 3.1-.4 3-.4 3-.4 3.1-.6 3-1.2 3-2.1 3.1-2.6 3-3 3-4.5 3.1-5.2 3-5.2 3-4.7 3.1-4.7 3-4.7 3-4.7 3.1-4.9 3-5 3-4.6 3.1-3.9 3-3.5 3-3.3 3.1-3.1 3-2.7 3-2.4 3.1-2.1 3-2.1 3-1.9 3.1-1.8 3-1.6 3-1.5 3.1-1.2 3-.9 3-1 3.1-.9 3-.8 3-.8 3.1-.8 3-.7 3-.6 3.1-.5 3-.4 3-.3 3.1-.1 0,21.2 -3.1-.1 -3-.1 -3,.1 -3.1,.2 -3,.3 -3,.4 -3.1,.4 -3,.5 -3,.5 -3.1,.6 -3,.6 -3,.6 -3.1,.9 -3,1.1 -3,1.2 -3.1,1.5 -3,1.6 -3,1.7 -3.1,1.8 -3,2 -3,2.4 -3.1,2.7 -3,2.9 -3,3.2 -3.1,3.5 -3,4.3 -3,4.6 -3.1,4.5 -3,4.4 -3,4.3 -3.1,4.3 -3,4.4 -3,4.8 -3.1,4.8 -3,4 -3,2.6 -3.1,2.2 -3,1.7 -3,.8 -3.1,.1 -3,0 -3,0 -3.1-.1 -3-.2 -3-.1 -3.1-.2 -3-.2 -3-.3 -3.1-.3 -3-.4Z" fill="#c9a3ef"/>
<path d="M127.2,842.3l3,0 3.1,0 3-.1 3-.1 3.1,0 3-.1 3-.2 3.1-.1 3-.2 3-.3 3.1-.3 3-1 3-1.9 3.1-2.4 3-2.9 3-4.2 3.1-5 3-5.1 3-4.5 3.1-4.5 3-4.5 3-4.6 3.1-4.7 3-4.8 3-4.5 3.1-3.7 3-3.4 3-3.1 3.1-2.9 3-2.5 3-2.3 3.1-1.9 3-1.9 3-1.8 3.1-1.6 3-1.5 3-1.3 3.1-1 3-.8 3-.8 3.1-.7 3-.8 3-.6 3.1-.6 3-.5 3-.5 3.1-.4 3-.2 3-.2 3.1,0" fill="none" stroke="#a26be2" stroke-width="5.5" stroke-linecap="butt"/>
<circle cx="129.7" cy="838.3" r="8.4" fill="#7f8c8d"/>
<circle cx="168.4" cy="829.8" r="8.4" fill="#7f8c8d"/>
<line x1="206.05" y1="761.43" x2="206.05" y2="727.82" stroke="#7f8c8d" stroke-width="2.3"/>
<circle cx="206.1" cy="743.0" r="8.4" fill="#7f8c8d"/>
<line x1="249.74" y1="715.48" x2="249.74" y2="697.79" stroke="#7f8c8d" stroke-width="2.3"/>
<circle cx="249.7" cy="703.1" r="8.4" fill="#7f8c8d"/>
<line x1="135.99" y1="845.00" x2="135.99" y2="817.49" stroke="#6a26be" stroke-width="2.3"/>
<circle cx="136.0" cy="844.4" r="8.4" fill="#7a22d4"/>
<line x1="170.06" y1="845.00" x2="170.06" y2="777.19" stroke="#6a26be" stroke-width="2.3"/>
<circle cx="170.1" cy="844.4" r="8.4" fill="#7a22d4"/>
<line x1="210.45" y1="845.00" x2="210.45" y2="777.19" stroke="#6a26be" stroke-width="2.3"/>
<circle cx="210.4" cy="844.4" r="8.4" fill="#7a22d4"/>
<line x1="245.34" y1="838.31" x2="245.34" y2="730.05" stroke="#6a26be" stroke-width="2.3"/>
<circle cx="245.3" cy="795.0" r="8.4" fill="#7a22d4"/>
</g>
<rect x="120.70" y="634.60" width="195.90" height="52.50" fill="#fff" stroke="#000" stroke-width="3.4"/>
<text x="218.65" y="671.32" font-size="29.5" text-anchor="middle" fill="#1a1a1a">2165</text>
<line x1="119.00" y1="688.80" x2="119.00" y2="854.50" stroke="#000" stroke-width="3.4"/>
<line x1="110.20" y1="845.00" x2="119.00" y2="845.00" stroke="#333333" stroke-width="3.3"/>
<text x="103.70" y="855.80" font-size="30" text-anchor="end" fill="#4d4d4d">0.0</text>
<line x1="110.20" y1="770.65" x2="119.00" y2="770.65" stroke="#333333" stroke-width="3.3"/>
<text x="103.70" y="781.45" font-size="30" text-anchor="end" fill="#4d4d4d">0.5</text>
<line x1="110.20" y1="696.30" x2="119.00" y2="696.30" stroke="#333333" stroke-width="3.3"/>
<text x="103.70" y="707.10" font-size="30" text-anchor="end" fill="#4d4d4d">1.0</text>
<line x1="117.30" y1="852.80" x2="318.30" y2="852.80" stroke="#000" stroke-width="3.4"/>
<line x1="153.30" y1="852.80" x2="153.30" y2="861.30" stroke="#333333" stroke-width="3.2"/>
<text x="153.30" y="892.10" font-size="30" text-anchor="middle" fill="#4d4d4d">0.0</text>
<line x1="263.20" y1="852.80" x2="263.20" y2="861.30" stroke="#333333" stroke-width="3.2"/>
<text x="263.20" y="892.10" font-size="30" text-anchor="middle" fill="#4d4d4d">0.4</text>
<clipPath id="clipA21"><rect x="340.30" y="688.80" width="195.90" height="164.00"/></clipPath>
<g clip-path="url(#clipA21)">
<line x1="371.20" y1="852.80" x2="371.20" y2="688.80" stroke="#999999" stroke-width="2.3" stroke-dasharray="10.4,10.47"/>
<line x1="335.70" y1="770.65" x2="536.20" y2="770.65" stroke="#999999" stroke-width="2.3" stroke-dasharray="10.4,10.47"/>
<path d="M345.1,829.4l3.6-.1 3.7-.1 3.6-.3 3.6-.4 3.7-.9 3.6-2.5 3.7-3.9 3.6-6.3 3.6-10.3 3.7-11.5 3.6-13.9 3.7-13.8 3.6-12 3.6-11.3 3.7-9.8 3.6-8.1 3.6-7.3 3.7-5.3 3.6-3.1 3.7-2.5 3.6-2 3.6-1.5 3.7-.9 3.6-.8 3.6-.6 3.7-.6 3.6-.5 3.7-.4 3.6-.3 3.6-.1 3.7-.1 3.6,0 3.6,0 3.7,0 3.6,0 3.7,0 3.6,0 3.6,0 3.7,0 3.6,0 3.6,0 3.7,0 3.6,0 3.7,0 3.6,0 3.6,0 3.7,0 3.6,0 3.6,0 3.7,0 0,5.4 -3.7,0 -3.6,0 -3.6,0 -3.7,0 -3.6,0 -3.6,0 -3.7,0 -3.6,0 -3.7,0 -3.6,0 -3.6,0 -3.7,0 -3.6,0 -3.6,0 -3.7,0 -3.6,0 -3.7,0 -3.6,0 -3.6,0 -3.7,0 -3.6,.2 -3.6,.2 -3.7,.4 -3.6,.5 -3.7,.6 -3.6,.7 -3.6,.7 -3.7,1 -3.6,1.5 -3.6,1.9 -3.7,2.5 -3.6,3.1 -3.7,5.4 -3.6,7.2 -3.6,8.2 -3.7,9.7 -3.6,11.4 -3.6,12 -3.7,13.8 -3.6,13.9 -3.7,11.5 -3.6,10.2 -3.6,6.4 -3.7,3.8 -3.6,2.6 -3.7,.9 -3.6,.4 -3.6,.2 -3.7,.2 -3.6,0Z" fill="#d3d7d7"/>
<path d="M345.1,832.1l3.6-.1 3.7-.1 3.6-.3 3.6-.4 3.7-.9 3.6-2.6 3.7-3.8 3.6-6.3 3.6-10.3 3.7-11.5 3.6-13.9 3.7-13.8 3.6-12 3.6-11.4 3.7-9.7 3.6-8.1 3.6-7.3 3.7-5.4 3.6-3.1 3.7-2.4 3.6-2 3.6-1.5 3.7-1 3.6-.7 3.6-.7 3.7-.5 3.6-.5 3.7-.4 3.6-.3 3.6-.2 3.7,0 3.6,0 3.6,0 3.7,0 3.6,0 3.7,0 3.6,0 3.6,0 3.7,0 3.6,0 3.6,0 3.7,0 3.6,0 3.7,0 3.6,0 3.6,0 3.7,0 3.6,0 3.6,0 3.7,0" fill="none" stroke="#b2b7b6" stroke-width="6.5" stroke-linecap="butt"/>
<path d="M345.1,839.8l3.6-.8 3.7-.9 3.6-.9 3.6-1.1 3.7-1.3 3.6-1.6 3.7-2.1 3.6-4.2 3.6-6 3.7-6.4 3.6-7.4 3.7-8 3.6-7.8 3.6-8.2 3.7-7.8 3.6-6 3.6-4.7 3.7-4.1 3.6-3.4 3.7-3 3.6-2.6 3.6-2.3 3.7-2 3.6-1.9 3.6-1.8 3.7-1.8 3.6-1.6 3.7-1.5 3.6-1.5 3.6-1.3 3.7-1.2 3.6-1.1 3.6-1.2 3.7-1 3.6-1 3.7-1 3.6-.9 3.6-.9 3.7-.8 3.6-.7 3.6-.7 3.7-.6 3.6-.7 3.7-.6 3.6-.6 3.6-.6 3.7-.5 3.6-.5 3.6-.4 3.7-.4 0,33.1 -3.7,0 -3.6-.1 -3.6,.1 -3.7,0 -3.6,.1 -3.6,.2 -3.7,.1 -3.6,.2 -3.7,.2 -3.6,.2 -3.6,.2 -3.7,.3 -3.6,.4 -3.6,.4 -3.7,.5 -3.6,.5 -3.7,.6 -3.6,.6 -3.6,.6 -3.7,.7 -3.6,.9 -3.6,.9 -3.7,1 -3.6,1.1 -3.7,1.2 -3.6,1.3 -3.6,1.4 -3.7,1.5 -3.6,1.7 -3.6,2.1 -3.7,2.4 -3.6,2.9 -3.7,3.5 -3.6,4.1 -3.6,5.4 -3.7,7.2 -3.6,7.7 -3.6,7.1 -3.7,7.4 -3.6,6.8 -3.7,5.7 -3.6,5.4 -3.6,3.5 -3.7,1.4 -3.6,.9 -3.7,.6 -3.6,.3 -3.6,.1 -3.7-.1 -3.6-.4Z" fill="#e3cff8"/>
<path d="M345.1,840.8l3.6-.5 3.7-.6 3.6-.8 3.6-.9 3.7-1.1 3.6-1.5 3.7-1.9 3.6-4.1 3.6-5.9 3.7-6.2 3.6-7.3 3.7-7.8 3.6-7.7 3.6-8 3.7-7.7 3.6-5.9 3.6-4.6 3.7-3.9 3.6-3.3 3.7-2.9 3.6-2.4 3.6-2.2 3.7-1.9 3.6-1.8 3.6-1.7 3.7-1.6 3.6-1.5 3.7-1.5 3.6-1.3 3.6-1.2 3.7-1.1 3.6-1 3.6-1 3.7-1 3.6-.9 3.7-.9 3.6-.8 3.6-.7 3.7-.7 3.6-.6 3.6-.6 3.7-.5 3.6-.6 3.7-.5 3.6-.5 3.6-.5 3.7-.4 3.6-.4 3.6-.3 3.7-.3 0,17.9 -3.7,0 -3.6,.1 -3.6,.1 -3.7,.2 -3.6,.2 -3.6,.2 -3.7,.3 -3.6,.3 -3.7,.3 -3.6,.3 -3.6,.4 -3.7,.4 -3.6,.5 -3.6,.5 -3.7,.6 -3.6,.6 -3.7,.7 -3.6,.8 -3.6,.7 -3.7,.9 -3.6,.9 -3.6,1 -3.7,1.2 -3.6,1.2 -3.7,1.3 -3.6,1.4 -3.6,1.5 -3.7,1.7 -3.6,1.9 -3.6,2.1 -3.7,2.6 -3.6,3 -3.7,3.6 -3.6,4.3 -3.6,5.5 -3.7,7.4 -3.6,7.8 -3.6,7.3 -3.7,7.5 -3.6,6.9 -3.7,5.9 -3.6,5.6 -3.6,3.6 -3.7,1.6 -3.6,1.1 -3.7,.8 -3.6,.4 -3.6,.3 -3.7,.2 -3.6-.2Z" fill="#c9a3ef"/>
<path d="M345.1,842l3.6-.2 3.7-.4 3.6-.5 3.6-.7 3.7-.9 3.6-1.3 3.7-1.7 3.6-3.9 3.6-5.7 3.7-6.1 3.6-7.1 3.7-7.6 3.6-7.5 3.6-8 3.7-7.5 3.6-5.7 3.6-4.4 3.7-3.8 3.6-3.2 3.7-2.7 3.6-2.3 3.6-2 3.7-1.8 3.6-1.6 3.6-1.6 3.7-1.4 3.6-1.4 3.7-1.3 3.6-1.2 3.6-1.1 3.7-.9 3.6-.9 3.6-.9 3.7-.8 3.6-.8 3.7-.7 3.6-.7 3.6-.6 3.7-.5 3.6-.5 3.6-.5 3.7-.4 3.6-.4 3.7-.4 3.6-.4 3.6-.3 3.7-.3 3.6-.3 3.6-.2 3.7-.2" fill="none" stroke="#a26be2" stroke-width="5.5" stroke-linecap="butt"/>
<circle cx="348.1" cy="833.3" r="8.4" fill="#7f8c8d"/>
<circle cx="386.3" cy="781.7" r="8.4" fill="#7f8c8d"/>
<circle cx="423.7" cy="703.7" r="8.4" fill="#7f8c8d"/>
<circle cx="505.0" cy="697.0" r="8.4" fill="#7f8c8d"/>
<line x1="353.62" y1="845.00" x2="353.62" y2="820.32" stroke="#6a26be" stroke-width="2.3"/>
<circle cx="353.6" cy="844.4" r="8.4" fill="#7a22d4"/>
<line x1="387.96" y1="845.00" x2="387.96" y2="790.58" stroke="#6a26be" stroke-width="2.3"/>
<circle cx="388.0" cy="844.4" r="8.4" fill="#7a22d4"/>
<line x1="428.07" y1="829.83" x2="428.07" y2="724.40" stroke="#6a26be" stroke-width="2.3"/>
<circle cx="428.1" cy="781.7" r="8.4" fill="#7a22d4"/>
<line x1="500.61" y1="829.83" x2="500.61" y2="724.40" stroke="#6a26be" stroke-width="2.3"/>
<circle cx="500.6" cy="781.7" r="8.4" fill="#7a22d4"/>
</g>
<rect x="338.60" y="634.60" width="195.90" height="52.50" fill="#fff" stroke="#000" stroke-width="3.4"/>
<text x="436.55" y="671.32" font-size="29.5" text-anchor="middle" fill="#1a1a1a">2166</text>
<line x1="336.90" y1="852.80" x2="536.20" y2="852.80" stroke="#000" stroke-width="3.4"/>
<line x1="371.20" y1="852.80" x2="371.20" y2="861.30" stroke="#333333" stroke-width="3.2"/>
<text x="371.20" y="892.10" font-size="30" text-anchor="middle" fill="#4d4d4d">0.0</text>
<line x1="481.10" y1="852.80" x2="481.10" y2="861.30" stroke="#333333" stroke-width="3.2"/>
<text x="481.10" y="892.10" font-size="30" text-anchor="middle" fill="#4d4d4d">0.4</text>
<text transform="translate(44.80,532.75) rotate(-90)" font-size="37" text-anchor="middle" fill="#000">P(Chose lottery)</text>
<text y="932.10" font-size="36" fill="#000"><tspan x="289.2">EV</tspan><tspan font-size="26.5" dy="6.1" x="338.5">lottery</tspan><tspan dy="-6.1" x="418.5">−</tspan><tspan x="445.2">EV</tspan><tspan font-size="26.5" dy="6.1" x="493.0">surebet</tspan></text>
<rect x="231.10" y="1007.10" width="41.70" height="41.70" fill="#7f8c8d" fill-opacity="0.25"/>
<line x1="234.10" y1="1027.95" x2="269.80" y2="1027.95" stroke="#7f8c8d" stroke-width="1.2" stroke-opacity="0.5"/>
<line x1="251.95" y1="1010.10" x2="251.95" y2="1045.80" stroke="#7f8c8d" stroke-width="2.4"/>
<circle cx="251.95" cy="1027.95" r="8.5" fill="#7f8c8d"/>
<text x="290.00" y="1038.68" font-size="29.8" text-anchor="start" fill="#000">Control</text>
<rect x="403.20" y="1007.10" width="41.70" height="41.70" fill="#8a2be2" fill-opacity="0.3"/>
<line x1="406.20" y1="1027.95" x2="441.90" y2="1027.95" stroke="#7a22d4" stroke-width="1.2" stroke-opacity="0.5"/>
<line x1="424.05" y1="1010.10" x2="424.05" y2="1045.80" stroke="#7a22d4" stroke-width="2.4"/>
<circle cx="424.05" cy="1027.95" r="8.5" fill="#7a22d4"/>
<text x="462.20" y="1038.68" font-size="29.8" text-anchor="start" fill="#000">Bi−fof silencing</text>
<clipPath id="clipB00"><rect x="123.60" y="1420.90" width="194.30" height="200.80"/></clipPath>
<g clip-path="url(#clipB00)">
<line x1="154.80" y1="1621.70" x2="154.80" y2="1420.90" stroke="#999999" stroke-width="2.3" stroke-dasharray="10.4,10.47"/>
<line x1="119.00" y1="1522.40" x2="317.90" y2="1522.40" stroke="#999999" stroke-width="2.3" stroke-dasharray="10.4,10.47"/>
<path d="M128.9,1584.2l3.3-.7 3.3-2.3 3.3-3.5 3.3-4.3 3.3-4.8 3.3-7.7 3.3-10.1 3.3-10.8 3.3-12.2 3.3-12.9 3.3-11.6 3.3-10.8 3.3-9.8 3.3-8.6 3.3-7.9 3.3-6.9 3.3-5.7 3.3-5.1 3.3-4.3 3.3-3.4 3.3-2.5 3.3-2.1 3.2-1.6 3.3-1 3.3-.8 3.3-.6 3.3-.6 3.3-.5 3.3-.3 3.3-.1 3.3,0 3.3,0 3.3,0 3.3,0 3.3,0 3.3,0 3.3,0 3.3,0 3.3,0 3.3,0 3.3,0 3.3,0 3.3,0 3.3,0 3.3,0 3.3,0 3.3,0 3.3,0 3.3,0 3.3,0 0,6.6 -3.3,0 -3.3,0 -3.3,0 -3.3,0 -3.3,0 -3.3,0 -3.3,0 -3.3,0 -3.3,0 -3.3,0 -3.3,0 -3.3,0 -3.3,0 -3.3,0 -3.3,0 -3.3,0 -3.3,0 -3.3,0 -3.3,0 -3.3,0 -3.3,.2 -3.3,.3 -3.3,.4 -3.3,.6 -3.3,.7 -3.3,.8 -3.3,.9 -3.2,1.6 -3.3,2.2 -3.3,2.5 -3.3,3.3 -3.3,4.4 -3.3,5 -3.3,5.7 -3.3,7 -3.3,7.8 -3.3,8.6 -3.3,9.8 -3.3,10.8 -3.3,11.6 -3.3,13 -3.3,12.1 -3.3,10.8 -3.3,10.2 -3.3,7.6 -3.3,4.8 -3.3,4.3 -3.3,3.5 -3.3,2.3 -3.3,.8Z" fill="#d3d7d7"/>
<path d="M128.9,1587.6l3.3-.8 3.3-2.3 3.3-3.5 3.3-4.3 3.3-4.8 3.3-7.7 3.3-10.1 3.3-10.8 3.3-12.2 3.3-12.9 3.3-11.6 3.3-10.8 3.3-9.8 3.3-8.6 3.3-7.8 3.3-7 3.3-5.7 3.3-5 3.3-4.4 3.3-3.3 3.3-2.6 3.3-2.1 3.2-1.6 3.3-1 3.3-.7 3.3-.7 3.3-.6 3.3-.5 3.3-.3 3.3-.1 3.3,0 3.3,0 3.3,0 3.3,0 3.3,0 3.3,0 3.3,0 3.3,0 3.3,0 3.3,0 3.3,0 3.3,0 3.3,0 3.3,0 3.3,0 3.3,0 3.3,0 3.3,0 3.3,0 3.3,0" fill="none" stroke="#b2b7b6" stroke-width="6.5" stroke-linecap="butt"/>
<path d="M128.9,1585.9l3.3-.8 3.3-2.4 3.3-3.5 3.3-4.4 3.3-4.9 3.3-8.2 3.3-10.8 3.3-10.7 3.3-10.5 3.3-10.5 3.3-9.4 3.3-8.5 3.3-7.9 3.3-7.4 3.3-7.2 3.3-6.5 3.3-5.3 3.3-4.5 3.3-4 3.3-3.4 3.3-3 3.3-2.8 3.2-2.4 3.3-1.8 3.3-1.6 3.3-1.5 3.3-1.3 3.3-1.2 3.3-.9 3.3-.7 3.3-.5 3.3-.4 3.3-.3 3.3-.3 3.3-.3 3.3-.2 3.3-.1 3.3,0 3.3,0 3.3,0 3.3-.1 3.3,0 3.3,0 3.3-.1 3.3,0 3.3,0 3.3-.1 3.3,0 3.3,0 3.3,0 0,9.2 -3.3,0 -3.3-.1 -3.3,0 -3.3,0 -3.3-.1 -3.3,0 -3.3,0 -3.3-.1 -3.3,0 -3.3,0 -3.3,0 -3.3-.1 -3.3,0 -3.3,0 -3.3,.1 -3.3,.2 -3.3,.3 -3.3,.3 -3.3,.3 -3.3,.4 -3.3,.6 -3.3,.9 -3.3,1.1 -3.3,1.2 -3.3,1.5 -3.3,1.5 -3.3,1.8 -3.2,2.2 -3.3,2.7 -3.3,3 -3.3,3.4 -3.3,3.8 -3.3,4.5 -3.3,5.2 -3.3,6.4 -3.3,7.1 -3.3,7.4 -3.3,7.8 -3.3,8.4 -3.3,9.3 -3.3,10.5 -3.3,10.4 -3.3,10.6 -3.3,10.7 -3.3,8.1 -3.3,4.9 -3.3,4.2 -3.3,3.4 -3.3,2.3 -3.3,.6Z" fill="#f2d3ef"/>
<path d="M128.9,1588.7l3.3-.8 3.3-2.3 3.3-3.4 3.3-4.3 3.3-4.9 3.3-8.2 3.3-10.8 3.3-10.6 3.3-10.5 3.3-10.5 3.3-9.3 3.3-8.5 3.3-7.8 3.3-7.4 3.3-7.1 3.3-6.5 3.3-5.3 3.3-4.4 3.3-3.9 3.3-3.4 3.3-3 3.3-2.8 3.2-2.3 3.3-1.8 3.3-1.6 3.3-1.4 3.3-1.3 3.3-1.2 3.3-.9 3.3-.6 3.3-.4 3.3-.4 3.3-.3 3.3-.3 3.3-.2 3.3-.2 3.3,0 3.3,0 3.3,0 3.3,0 3.3,0 3.3,0 3.3,0 3.3,0 3.3,0 3.3,0 3.3,0 3.3,0 3.3,0 3.3,0" fill="none" stroke="#e08ddc" stroke-width="6" stroke-linecap="butt"/>
<circle cx="134.6" cy="1575.2" r="8.1" fill="#7f8c8d"/>
<line x1="170.06" y1="1530.34" x2="170.06" y2="1509.11" stroke="#7f8c8d" stroke-width="2.3"/>
<circle cx="170.1" cy="1519.1" r="8.1" fill="#7f8c8d"/>
<circle cx="213.1" cy="1434.5" r="8.1" fill="#7f8c8d"/>
<circle cx="282.1" cy="1434.5" r="8.1" fill="#7f8c8d"/>
<line x1="135.18" y1="1572.43" x2="135.18" y2="1556.74" stroke="#cf5fca" stroke-width="2.3"/>
<circle cx="135.2" cy="1572.4" r="8.1" fill="#d85bd2"/>
<line x1="177.42" y1="1513.54" x2="177.42" y2="1464.25" stroke="#cf5fca" stroke-width="2.3"/>
<circle cx="177.4" cy="1487.1" r="8.1" fill="#d85bd2"/>
<line x1="209.30" y1="1460.74" x2="209.30" y2="1439.51" stroke="#cf5fca" stroke-width="2.3"/>
<circle cx="209.3" cy="1439.5" r="8.1" fill="#d85bd2"/>
<line x1="287.78" y1="1463.70" x2="287.78" y2="1442.28" stroke="#cf5fca" stroke-width="2.3"/>
<circle cx="287.8" cy="1442.3" r="8.1" fill="#d85bd2"/>
</g>
<rect x="121.90" y="1366.60" width="194.30" height="52.60" fill="#fff" stroke="#000" stroke-width="3.4"/>
<text x="219.05" y="1403.37" font-size="29.5" text-anchor="middle" fill="#1a1a1a">2152</text>
<line x1="120.20" y1="1420.90" x2="120.20" y2="1623.40" stroke="#000" stroke-width="3.4"/>
<line x1="111.40" y1="1614.70" x2="120.20" y2="1614.70" stroke="#333333" stroke-width="3.3"/>
<text x="104.90" y="1625.50" font-size="30" text-anchor="end" fill="#4d4d4d">0.0</text>
<line x1="111.40" y1="1522.40" x2="120.20" y2="1522.40" stroke="#333333" stroke-width="3.3"/>
<text x="104.90" y="1533.20" font-size="30" text-anchor="end" fill="#4d4d4d">0.5</text>
<line x1="111.40" y1="1430.10" x2="120.20" y2="1430.10" stroke="#333333" stroke-width="3.3"/>
<text x="104.90" y="1440.90" font-size="30" text-anchor="end" fill="#4d4d4d">1.0</text>
<clipPath id="clipB01"><rect x="340.10" y="1420.90" width="194.30" height="200.80"/></clipPath>
<g clip-path="url(#clipB01)">
<line x1="371.30" y1="1621.70" x2="371.30" y2="1420.90" stroke="#999999" stroke-width="2.3" stroke-dasharray="10.4,10.47"/>
<line x1="335.50" y1="1522.40" x2="534.40" y2="1522.40" stroke="#999999" stroke-width="2.3" stroke-dasharray="10.4,10.47"/>
<path d="M345.4,1583.1l3-3 3-4 3-4.8 3-5.4 3.1-6 3-6.7 3-8.3 3-9.1 3-9 3-9.3 3-9.6 3-9.6 3-10.2 3-9.6 3-7.9 3-7 3.1-6.2 3-5.3 3-4.3 3-3.7 3-3.2 3-2.5 3-1.9 3-1.7 3-1.3 3-.8 3-.6 3-.5 3.1-.5 3-.3 3-.3 3-.3 3-.1 3-.1 3,0 3-.1 3,0 3-.1 3,0 3-.1 3.1,0 3,0 3-.1 3,0 3,0 3,0 3,0 3,0 3-.1 3,0 0,6.7 -3,0 -3,0 -3,0 -3,0 -3,0 -3,.1 -3,0 -3,0 -3,0 -3.1,.1 -3,0 -3,.1 -3,0 -3,.1 -3,0 -3,.1 -3,.1 -3,.1 -3,.2 -3,.3 -3,.4 -3.1,.4 -3,.6 -3,.5 -3,.8 -3,1.3 -3,1.7 -3,2 -3,2.4 -3,3.2 -3,3.8 -3,4.3 -3,5.2 -3.1,6.2 -3,7.1 -3,7.8 -3,9.6 -3,10.3 -3,9.6 -3,9.5 -3,9.3 -3,9 -3,9.1 -3,8.4 -3,6.7 -3.1,5.9 -3,5.5 -3,4.8 -3,4 -3,3Z" fill="#d3d7d7"/>
<path d="M345.4,1586.5l3-3.1 3-4 3-4.8 3-5.4 3.1-5.9 3-6.8 3-8.3 3-9.1 3-9 3-9.3 3-9.5 3-9.7 3-10.2 3-9.6 3-7.9 3-7 3.1-6.2 3-5.3 3-4.2 3-3.8 3-3.2 3-2.4 3-2 3-1.7 3-1.3 3-.8 3-.6 3-.5 3.1-.4 3-.4 3-.3 3-.2 3-.2 3,0 3-.1 3-.1 3,0 3-.1 3,0 3,0 3.1-.1 3,0 3,0 3-.1 3,0 3,0 3,0 3,0 3,0 3,0" fill="none" stroke="#b2b7b6" stroke-width="6.5" stroke-linecap="butt"/>
<path d="M345.4,1581.3l3-2.5 3-3.5 3-4.5 3-5.1 3.1-5.6 3-6.6 3-8.7 3-9.2 3-8.3 3-7.7 3-7.4 3-7.1 3-6.9 3-6.5 3-6 3-5.7 3.1-5.3 3-4.9 3-4.5 3-4.3 3-3.9 3-3.4 3-2.9 3-2.7 3-2.2 3-1.6 3-1.3 3-1.2 3.1-1 3-.9 3-.9 3-.7 3-.6 3-.5 3-.6 3-.5 3-.5 3-.4 3-.3 3-.2 3.1-.1 3,0 3,0 3-.1 3,0 3,0 3-.1 3,0 3,0 3-.1 0,9.3 -3-.1 -3,0 -3,0 -3,0 -3-.1 -3,0 -3,0 -3-.1 -3,0 -3.1,0 -3,.1 -3,.3 -3,.3 -3,.4 -3,.5 -3,.5 -3,.5 -3,.6 -3,.6 -3,.8 -3,.8 -3.1,1 -3,1.1 -3,1.2 -3,1.6 -3,2.1 -3,2.6 -3,2.9 -3,3.3 -3,3.8 -3,4.2 -3,4.4 -3,4.9 -3.1,5.2 -3,5.6 -3,6 -3,6.4 -3,6.8 -3,7.1 -3,7.3 -3,7.6 -3,8.2 -3,9.1 -3,8.6 -3,6.5 -3.1,5.5 -3,5.1 -3,4.3 -3,3.4 -3,2.3Z" fill="#f2d3ef"/>
<path d="M345.4,1584.1l3-2.4 3-3.5 3-4.4 3-5.1 3.1-5.5 3-6.6 3-8.7 3-9.1 3-8.2 3-7.7 3-7.3 3-7.1 3-6.9 3-6.5 3-5.9 3-5.7 3.1-5.3 3-4.8 3-4.5 3-4.3 3-3.8 3-3.3 3-2.9 3-2.7 3-2.1 3-1.6 3-1.3 3-1.1 3.1-1.1 3-.8 3-.8 3-.7 3-.6 3-.5 3-.6 3-.5 3-.4 3-.4 3-.3 3-.1 3.1,0 3,0 3,0 3,0 3,0 3,0 3,0 3,0 3,0 3,0" fill="none" stroke="#e08ddc" stroke-width="6" stroke-linecap="butt"/>
<circle cx="351.1" cy="1568.4" r="8.1" fill="#7f8c8d"/>
<circle cx="386.6" cy="1513.5" r="8.1" fill="#7f8c8d"/>
<circle cx="429.6" cy="1435.1" r="8.1" fill="#7f8c8d"/>
<circle cx="461.5" cy="1430.1" r="8.1" fill="#7f8c8d"/>
<circle cx="352.2" cy="1575.7" r="8.1" fill="#d85bd2"/>
<line x1="394.19" y1="1567.26" x2="394.19" y2="1528.12" stroke="#cf5fca" stroke-width="2.3"/>
<circle cx="394.2" cy="1548.2" r="8.1" fill="#d85bd2"/>
<line x1="426.07" y1="1470.90" x2="426.07" y2="1454.65" stroke="#cf5fca" stroke-width="2.3"/>
<circle cx="426.1" cy="1454.7" r="8.1" fill="#d85bd2"/>
<line x1="466.95" y1="1460.74" x2="466.95" y2="1446.90" stroke="#cf5fca" stroke-width="2.3"/>
<circle cx="466.9" cy="1446.9" r="8.1" fill="#d85bd2"/>
</g>
<rect x="338.40" y="1366.60" width="194.30" height="52.60" fill="#fff" stroke="#000" stroke-width="3.4"/>
<text x="435.55" y="1403.37" font-size="29.5" text-anchor="middle" fill="#1a1a1a">2153</text>
<clipPath id="clipB02"><rect x="556.60" y="1420.90" width="194.30" height="200.80"/></clipPath>
<g clip-path="url(#clipB02)">
<line x1="587.80" y1="1621.70" x2="587.80" y2="1420.90" stroke="#999999" stroke-width="2.3" stroke-dasharray="10.4,10.47"/>
<line x1="552.00" y1="1522.40" x2="750.90" y2="1522.40" stroke="#999999" stroke-width="2.3" stroke-dasharray="10.4,10.47"/>
<path d="M561.9,1606.5l3-1.7 3-2.3 3-2.8 3-3.1 3.1-3.4 3-4.1 3-4.5 3-4.7 3-4.8 3-5 3-5.2 3-5.4 3-5.6 3-5.9 3-6.1 3-6.3 3.1-6.6 3-7.2 3-7.2 3-6.5 3-5.7 3-5.4 3-4.9 3-4.4 3-3.9 3-3.6 3-3.3 3-3.1 3.1-3.1 3-2.9 3-2.8 3-2.6 3-2.4 3-2.4 3-2.2 3-2.2 3-1.9 3-1.8 3-1.4 3-1.2 3.1-1.1 3-1 3-.8 3-.8 3-.8 3-.7 3-.6 3-.6 3-.5 3-.4 0,6.6 -3,.5 -3,.5 -3,.6 -3,.6 -3,.7 -3,.7 -3,.8 -3,.9 -3,1 -3.1,1.1 -3,1.2 -3,1.4 -3,1.7 -3,2 -3,2.1 -3,2.3 -3,2.3 -3,2.5 -3,2.6 -3,2.7 -3,3 -3.1,3 -3,3.2 -3,3.3 -3,3.5 -3,3.9 -3,4.4 -3,4.9 -3,5.4 -3,5.8 -3,6.4 -3,7.2 -3,7.2 -3.1,6.7 -3,6.3 -3,6.1 -3,5.8 -3,5.6 -3,5.4 -3,5.2 -3,5 -3,4.8 -3,4.8 -3,4.5 -3,4 -3.1,3.5 -3,3.1 -3,2.7 -3,2.3 -3,1.8Z" fill="#d3d7d7"/>
<path d="M561.9,1609.9l3-1.8 3-2.3 3-2.7 3-3.2 3.1-3.4 3-4 3-4.5 3-4.8 3-4.8 3-5 3-5.2 3-5.4 3-5.6 3-5.9 3-6.1 3-6.3 3.1-6.6 3-7.2 3-7.2 3-6.5 3-5.7 3-5.4 3-4.9 3-4.4 3-3.9 3-3.5 3-3.3 3-3.2 3.1-3.1 3-2.9 3-2.8 3-2.6 3-2.4 3-2.3 3-2.3 3-2.2 3-1.9 3-1.7 3-1.4 3-1.3 3.1-1.1 3-.9 3-.9 3-.8 3-.7 3-.7 3-.7 3-.6 3-.5 3-.4" fill="none" stroke="#b2b7b6" stroke-width="6.5" stroke-linecap="butt"/>
<path d="M561.9,1602.3l3-1 3-1.7 3-2.3 3-2.8 3.1-3.2 3-4.1 3-4.8 3-4.8 3-4.4 3-4.1 3-4.1 3-4.1 3-4.4 3-4.6 3-4.7 3-4.5 3.1-4.2 3-3.9 3-3.9 3-3.9 3-4.3 3-4.4 3-4.3 3-3.9 3-3.7 3-3.4 3-3.1 3-2.9 3.1-2.6 3-2.5 3-2.4 3-2.2 3-2.3 3-2.1 3-2.2 3-2 3-2 3-1.9 3-1.7 3-1.6 3.1-1.5 3-1.5 3-1.4 3-1.3 3-1.3 3-1.2 3-1.2 3-1.1 3-1.1 3-1 0,9.2 -3,1 -3,1 -3,1.1 -3,1.1 -3,1.2 -3,1.2 -3,1.2 -3,1.4 -3,1.4 -3.1,1.4 -3,1.6 -3,1.6 -3,1.8 -3,1.9 -3,2 -3,2.1 -3,2.1 -3,2.2 -3,2.2 -3,2.3 -3,2.4 -3.1,2.6 -3,2.8 -3,3 -3,3.4 -3,3.5 -3,3.9 -3,4.2 -3,4.4 -3,4.2 -3,3.9 -3,3.8 -3,3.8 -3.1,4.1 -3,4.5 -3,4.6 -3,4.5 -3,4.3 -3,4.1 -3,4 -3,4 -3,4.3 -3,4.7 -3,4.7 -3,4 -3.1,3.1 -3,2.7 -3,2.2 -3,1.6 -3,.9Z" fill="#f2d3ef"/>
<path d="M561.9,1605.1l3-1 3-1.6 3-2.3 3-2.7 3.1-3.2 3-4 3-4.7 3-4.8 3-4.3 3-4.1 3-4.1 3-4.1 3-4.3 3-4.5 3-4.7 3-4.5 3.1-4.1 3-3.9 3-3.8 3-4 3-4.2 3-4.4 3-4.3 3-3.8 3-3.6 3-3.4 3-3.1 3-2.9 3.1-2.6 3-2.4 3-2.3 3-2.3 3-2.2 3-2.1 3-2.1 3-2 3-2 3-1.8 3-1.7 3-1.6 3.1-1.5 3-1.4 3-1.4 3-1.3 3-1.2 3-1.2 3-1.2 3-1.1 3-1 3-1" fill="none" stroke="#e08ddc" stroke-width="6" stroke-linecap="butt"/>
<circle cx="567.9" cy="1604.4" r="8.1" fill="#7f8c8d"/>
<circle cx="603.1" cy="1581.8" r="8.1" fill="#7f8c8d"/>
<circle cx="646.9" cy="1500.1" r="8.1" fill="#7f8c8d"/>
<circle cx="678.3" cy="1448.6" r="8.1" fill="#7f8c8d"/>
<line x1="569.00" y1="1590.33" x2="569.00" y2="1578.52" stroke="#cf5fca" stroke-width="2.3"/>
<circle cx="569.0" cy="1590.3" r="8.1" fill="#d85bd2"/>
<line x1="610.96" y1="1580.73" x2="610.96" y2="1525.35" stroke="#cf5fca" stroke-width="2.3"/>
<circle cx="611.0" cy="1555.6" r="8.1" fill="#d85bd2"/>
<line x1="643.12" y1="1516.86" x2="643.12" y2="1464.25" stroke="#cf5fca" stroke-width="2.3"/>
<circle cx="643.1" cy="1488.2" r="8.1" fill="#d85bd2"/>
<line x1="683.72" y1="1487.14" x2="683.72" y2="1462.04" stroke="#cf5fca" stroke-width="2.3"/>
<circle cx="683.7" cy="1462.0" r="8.1" fill="#d85bd2"/>
</g>
<rect x="554.90" y="1366.60" width="194.30" height="52.60" fill="#fff" stroke="#000" stroke-width="3.4"/>
<text x="652.05" y="1403.37" font-size="29.5" text-anchor="middle" fill="#1a1a1a">2154</text>
<clipPath id="clipB10"><rect x="123.60" y="1695.40" width="194.30" height="200.80"/></clipPath>
<g clip-path="url(#clipB10)">
<line x1="154.80" y1="1896.20" x2="154.80" y2="1695.40" stroke="#999999" stroke-width="2.3" stroke-dasharray="10.4,10.47"/>
<line x1="119.00" y1="1796.90" x2="317.90" y2="1796.90" stroke="#999999" stroke-width="2.3" stroke-dasharray="10.4,10.47"/>
<path d="M128.9,1878.5l3-.6 3-.7 3-.7 3-.9 3.1-.8 3-1 3-1.1 3-1.3 3-1.5 3-2.2 3-2.8 3-3.1 3-3.3 3-3.8 3-4.3 3-4.5 3.1-4.7 3-5 3-5.2 3-5.4 3-5.3 3-5.5 3-5.5 3-5.5 3-5.6 3-5.7 3-5.3 3-4.7 3.1-4.2 3-4 3-3.7 3-3.6 3-3.3 3-3.2 3-3 3-2.9 3-2.7 3-2.6 3-2.4 3-2.3 3.1-2.2 3-2 3-2 3-1.8 3-1.6 3-1.6 3-1.4 3-1.4 3-1.3 3-1.1 0,6.7 -3,1.1 -3,1.2 -3,1.4 -3,1.5 -3,1.5 -3,1.7 -3,1.8 -3,1.9 -3,2.1 -3.1,2.2 -3,2.3 -3,2.4 -3,2.5 -3,2.8 -3,2.9 -3,3 -3,3.2 -3,3.3 -3,3.5 -3,3.7 -3,4 -3.1,4.2 -3,4.7 -3,5.3 -3,5.7 -3,5.7 -3,5.4 -3,5.6 -3,5.4 -3,5.4 -3,5.3 -3,5.2 -3,5 -3.1,4.7 -3,4.6 -3,4.3 -3,3.8 -3,3.3 -3,3.1 -3,2.7 -3,2.2 -3,1.6 -3,1.3 -3,1.1 -3,.9 -3.1,.9 -3,.8 -3,.8 -3,.6 -3,.6Z" fill="#d3d7d7"/>
<path d="M128.9,1881.8l3-.6 3-.7 3-.7 3-.8 3.1-.9 3-1 3-1 3-1.3 3-1.6 3-2.2 3-2.7 3-3.2 3-3.3 3-3.8 3-4.3 3-4.5 3.1-4.7 3-5 3-5.2 3-5.3 3-5.4 3-5.5 3-5.5 3-5.5 3-5.6 3-5.7 3-5.3 3-4.7 3.1-4.2 3-4 3-3.7 3-3.5 3-3.4 3-3.1 3-3.1 3-2.8 3-2.8 3-2.6 3-2.4 3-2.3 3.1-2.2 3-2 3-2 3-1.8 3-1.6 3-1.6 3-1.4 3-1.4 3-1.2 3-1.1" fill="none" stroke="#b2b7b6" stroke-width="6.5" stroke-linecap="butt"/>
<path d="M128.9,1879l3-.6 3-.8 3-.8 3-.9 3.1-.9 3-1 3-1.1 3-1.3 3-1.6 3-2.1 3-2.5 3-2.8 3-2.9 3-3.2 3-3.5 3-3.5 3.1-3.4 3-3.3 3-3.3 3-3.5 3-3.6 3-3.9 3-4 3-4.1 3-4.3 3-4.5 3-4.3 3-3.6 3.1-3.1 3-2.9 3-2.8 3-2.6 3-2.6 3-2.6 3-2.5 3-2.5 3-2.4 3-2.3 3-2.3 3-2.2 3.1-2.1 3-2.1 3-2 3-2 3-1.8 3-1.8 3-1.6 3-1.7 3-1.5 3-1.5 0,9.2 -3,1.4 -3,1.5 -3,1.6 -3,1.6 -3,1.7 -3,1.8 -3,1.9 -3,1.9 -3,2.1 -3.1,2.1 -3,2.1 -3,2.2 -3,2.3 -3,2.3 -3,2.4 -3,2.5 -3,2.5 -3,2.5 -3,2.6 -3,2.7 -3,2.8 -3.1,3.1 -3,3.5 -3,4.2 -3,4.4 -3,4.3 -3,4 -3,3.9 -3,3.8 -3,3.7 -3,3.3 -3,3.3 -3,3.2 -3.1,3.3 -3,3.5 -3,3.3 -3,3.2 -3,2.8 -3,2.7 -3,2.4 -3,2.1 -3,1.4 -3,1.3 -3,1 -3,.9 -3.1,.9 -3,.7 -3,.8 -3,.6 -3,.5Z" fill="#f2d3ef"/>
<path d="M128.9,1881.8l3-.6 3-.7 3-.7 3-.9 3.1-.8 3-1 3-1.1 3-1.3 3-1.5 3-2 3-2.5 3-2.8 3-2.8 3-3.2 3-3.4 3-3.5 3.1-3.3 3-3.3 3-3.3 3-3.4 3-3.6 3-3.9 3-3.9 3-4.1 3-4.3 3-4.5 3-4.2 3-3.5 3.1-3.2 3-2.8 3-2.7 3-2.6 3-2.6 3-2.5 3-2.5 3-2.5 3-2.3 3-2.3 3-2.3 3-2.2 3.1-2.1 3-2.1 3-1.9 3-1.9 3-1.8 3-1.8 3-1.6 3-1.6 3-1.5 3-1.5" fill="none" stroke="#e08ddc" stroke-width="6" stroke-linecap="butt"/>
<circle cx="134.1" cy="1878.9" r="8.1" fill="#7f8c8d"/>
<circle cx="168.4" cy="1869.3" r="8.1" fill="#7f8c8d"/>
<circle cx="213.1" cy="1813.9" r="8.1" fill="#7f8c8d"/>
<circle cx="244.5" cy="1734.9" r="8.1" fill="#7f8c8d"/>
<circle cx="134.6" cy="1880.5" r="8.1" fill="#d85bd2"/>
<line x1="177.42" y1="1876.09" x2="177.42" y2="1855.97" stroke="#cf5fca" stroke-width="2.3"/>
<circle cx="177.4" cy="1876.1" r="8.1" fill="#d85bd2"/>
<line x1="209.30" y1="1849.14" x2="209.30" y2="1802.07" stroke="#cf5fca" stroke-width="2.3"/>
<circle cx="209.3" cy="1827.9" r="8.1" fill="#d85bd2"/>
<line x1="250.18" y1="1816.65" x2="250.18" y2="1768.47" stroke="#cf5fca" stroke-width="2.3"/>
<circle cx="250.2" cy="1791.9" r="8.1" fill="#d85bd2"/>
</g>
<rect x="121.90" y="1641.10" width="194.30" height="52.60" fill="#fff" stroke="#000" stroke-width="3.4"/>
<text x="219.05" y="1677.87" font-size="29.5" text-anchor="middle" fill="#1a1a1a">2155</text>
<line x1="120.20" y1="1695.40" x2="120.20" y2="1897.90" stroke="#000" stroke-width="3.4"/>
<line x1="111.40" y1="1889.20" x2="120.20" y2="1889.20" stroke="#333333" stroke-width="3.3"/>
<text x="104.90" y="1900.00" font-size="30" text-anchor="end" fill="#4d4d4d">0.0</text>
<line x1="111.40" y1="1796.90" x2="120.20" y2="1796.90" stroke="#333333" stroke-width="3.3"/>
<text x="104.90" y="1807.70" font-size="30" text-anchor="end" fill="#4d4d4d">0.5</text>
<line x1="111.40" y1="1704.60" x2="120.20" y2="1704.60" stroke="#333333" stroke-width="3.3"/>
<text x="104.90" y="1715.40" font-size="30" text-anchor="end" fill="#4d4d4d">1.0</text>
<clipPath id="clipB11"><rect x="340.10" y="1695.40" width="194.30" height="200.80"/></clipPath>
<g clip-path="url(#clipB11)">
<line x1="371.30" y1="1896.20" x2="371.30" y2="1695.40" stroke="#999999" stroke-width="2.3" stroke-dasharray="10.4,10.47"/>
<line x1="335.50" y1="1796.90" x2="534.40" y2="1796.90" stroke="#999999" stroke-width="2.3" stroke-dasharray="10.4,10.47"/>
<path d="M345.4,1857.6l3,0 3,0 3,0 3,0 3.1,0 3,0 3,0 3,0 3-.1 3-.8 3-1.7 3-2.6 3-6.2 3-9 3-10.9 3-15.5 3.1-15.7 3-15.8 3-13.9 3-11.4 3-10 3-6.9 3-4.2 3-3.5 3-2.4 3-1.5 3-1.1 3-.9 3.1-.8 3-.5 3-.2 3,0 3,0 3,0 3,0 3,0 3,0 3,0 3,0 3,0 3.1,0 3,0 3,0 3,0 3,0 3,0 3,0 3,0 3,0 3,0 0,6.6 -3,0 -3,0 -3,0 -3,0 -3,0 -3,0 -3,0 -3,0 -3,0 -3.1,0 -3,0 -3,0 -3,0 -3,0 -3,0 -3,0 -3,0 -3,0 -3,0 -3,.3 -3,.5 -3.1,.7 -3,1 -3,1.1 -3,1.4 -3,2.5 -3,3.4 -3,4.3 -3,6.8 -3,10 -3,11.4 -3,14 -3,15.7 -3.1,15.7 -3,15.5 -3,11 -3,9 -3,6.2 -3,2.5 -3,1.7 -3,.9 -3,.1 -3,0 -3,0 -3,0 -3.1,0 -3,0 -3,0 -3,0 -3,0Z" fill="#d3d7d7"/>
<path d="M345.4,1861l3,0 3,0 3,0 3,0 3.1,0 3,0 3,0 3,0 3-.1 3-.9 3-1.7 3-2.5 3-6.3 3-8.9 3-11 3-15.5 3.1-15.7 3-15.8 3-13.9 3-11.4 3-10 3-6.8 3-4.3 3-3.4 3-2.5 3-1.5 3-1.1 3-.9 3.1-.7 3-.6 3-.2 3,0 3,0 3,0 3,0 3,0 3,0 3,0 3,0 3,0 3.1,0 3,0 3,0 3,0 3,0 3,0 3,0 3,0 3,0 3,0" fill="none" stroke="#b2b7b6" stroke-width="6.5" stroke-linecap="butt"/>
<path d="M345.4,1863.7l3-.2 3-.2 3-.1 3-.2 3.1-.1 3-.1 3-.1 3-.2 3-.1 3-.3 3-.4 3-.6 3-1.4 3-4.1 3-5.6 3-6.8 3.1-9.8 3-10.4 3-9.6 3-9.6 3-9.4 3-9.5 3-9.6 3-8.4 3-6.7 3-6.1 3-4.8 3-3.3 3.1-2.7 3-2.2 3-1.6 3-1.1 3-.9 3-.8 3-.7 3-.5 3-.3 3-.2 3-.3 3-.2 3.1-.2 3-.2 3-.2 3-.1 3-.2 3-.1 3-.2 3-.1 3-.1 3-.1 0,14.8 -3-.1 -3,0 -3-.1 -3,0 -3-.1 -3,0 -3,0 -3,0 -3,.1 -3.1,0 -3,0 -3,.1 -3,.1 -3,.1 -3,.3 -3,.5 -3,.6 -3,.8 -3,.9 -3,1.4 -3,2 -3.1,2.5 -3,3.1 -3,4.7 -3,5.8 -3,6.6 -3,8.2 -3,9.4 -3,9.3 -3,9.2 -3,9.4 -3,9.4 -3,10.2 -3.1,9.6 -3,6.6 -3,5.4 -3,3.8 -3,1.3 -3,.3 -3,.2 -3,.1 -3-.2 -3-.1 -3-.1 -3-.1 -3.1-.2 -3-.1 -3-.2 -3-.1 -3-.2Z" fill="#f2d3ef"/>
<path d="M345.4,1865.9l3,0 3,0 3,0 3,0 3.1,0 3,0 3,0 3,0 3,0 3-.1 3-.3 3-.5 3-1.3 3-4 3-5.5 3-6.7 3.1-9.7 3-10.3 3-9.5 3-9.5 3-9.3 3-9.4 3-9.5 3-8.3 3-6.7 3-5.9 3-4.7 3-3.3 3.1-2.6 3-2.1 3-1.5 3-1 3-.8 3-.7 3-.6 3-.4 3-.2 3-.2 3-.1 3-.1 3.1-.2 3-.1 3-.1 3-.1 3,0 3-.1 3,0 3-.1 3,0 3,0" fill="none" stroke="#e08ddc" stroke-width="6" stroke-linecap="butt"/>
<circle cx="351.1" cy="1860.4" r="8.1" fill="#7f8c8d"/>
<circle cx="385.7" cy="1867.0" r="8.1" fill="#7f8c8d"/>
<circle cx="430.2" cy="1742.6" r="8.1" fill="#7f8c8d"/>
<circle cx="461.0" cy="1728.0" r="8.1" fill="#7f8c8d"/>
<circle cx="351.7" cy="1863.2" r="8.1" fill="#d85bd2"/>
<line x1="394.19" y1="1877.20" x2="394.19" y2="1844.71" stroke="#cf5fca" stroke-width="2.3"/>
<circle cx="394.2" cy="1864.8" r="8.1" fill="#d85bd2"/>
<line x1="426.07" y1="1804.28" x2="426.07" y2="1759.43" stroke="#cf5fca" stroke-width="2.3"/>
<circle cx="426.1" cy="1780.8" r="8.1" fill="#d85bd2"/>
<line x1="467.49" y1="1754.44" x2="467.49" y2="1720.29" stroke="#cf5fca" stroke-width="2.3"/>
<circle cx="467.5" cy="1734.3" r="8.1" fill="#d85bd2"/>
</g>
<rect x="338.40" y="1641.10" width="194.30" height="52.60" fill="#fff" stroke="#000" stroke-width="3.4"/>
<text x="435.55" y="1677.87" font-size="29.5" text-anchor="middle" fill="#1a1a1a">2156</text>
<clipPath id="clipB12"><rect x="556.60" y="1695.40" width="194.30" height="200.80"/></clipPath>
<g clip-path="url(#clipB12)">
<line x1="587.80" y1="1896.20" x2="587.80" y2="1695.40" stroke="#999999" stroke-width="2.3" stroke-dasharray="10.4,10.47"/>
<line x1="552.00" y1="1796.90" x2="750.90" y2="1796.90" stroke="#999999" stroke-width="2.3" stroke-dasharray="10.4,10.47"/>
<path d="M561.9,1848.7l3,.2 3,0 3-.2 3-.4 3.1-.4 3-.7 3-1 3-1.6 3-2.9 3-7.9 3-10.5 3-14.8 3-17 3-19.3 3-16.9 3-14.8 3.1-10.4 3-8.4 3-4.9 3-2.6 3-2.1 3-1.5 3-1.1 3-.6 3-.5 3-.4 3-.3 3-.2 3.1-.1 3,0 3,0 3,0 3,0 3,0 3,0 3,0 3,0 3,0 3,0 3,0 3.1,0 3,0 3,0 3,0 3,0 3,0 3,0 3,0 3,0 3,0 0,6.6 -3,0 -3,0 -3,0 -3,0 -3,0 -3,0 -3,0 -3,0 -3,0 -3.1,0 -3,0 -3,0 -3,0 -3,0 -3,0 -3,0 -3,0 -3,0 -3,0 -3,0 -3,0 -3.1,.1 -3,.3 -3,.3 -3,.4 -3,.4 -3,.7 -3,1 -3,1.6 -3,2 -3,2.6 -3,4.9 -3,8.5 -3.1,10.4 -3,14.7 -3,17 -3,19.3 -3,17 -3,14.7 -3,10.5 -3,7.9 -3,3 -3,1.5 -3,1.1 -3,.6 -3.1,.5 -3,.3 -3,.3 -3,0 -3-.2Z" fill="#d3d7d7"/>
<path d="M561.9,1852l3,.3 3-.1 3-.2 3-.3 3.1-.5 3-.6 3-1.1 3-1.5 3-3 3-7.9 3-10.5 3-14.8 3-17 3-19.2 3-17 3-14.7 3.1-10.4 3-8.5 3-4.9 3-2.6 3-2 3-1.6 3-1.1 3-.6 3-.5 3-.4 3-.3 3-.2 3.1-.1 3,0 3,0 3,0 3,0 3,0 3,0 3,0 3,0 3,0 3,0 3,0 3.1,0 3,0 3,0 3,0 3,0 3,0 3,0 3,0 3,0 3,0" fill="none" stroke="#b2b7b6" stroke-width="6.5" stroke-linecap="butt"/>
<path d="M561.9,1851.2l3,.1 3-.1 3-.2 3-.3 3.1-.3 3-.7 3-1.1 3-1.6 3-2.7 3-6.4 3-8.4 3-11.7 3-13.8 3-16.2 3-14.3 3-12.9 3.1-9.8 3-8.1 3-6.6 3-4.8 3-3.4 3-2.7 3-2.1 3-1.4 3-1 3-.8 3-.7 3-.6 3.1-.5 3-.4 3-.3 3-.3 3-.3 3-.3 3-.2 3-.1 3-.1 3-.1 3-.1 3-.1 3.1-.1 3-.1 3-.1 3-.1 3,0 3-.1 3-.1 3,0 3,0 3-.1 0,9.3 -3-.1 -3,0 -3,0 -3,0 -3,0 -3,0 -3,0 -3,0 -3,.1 -3.1,0 -3,0 -3,.1 -3,0 -3,.1 -3,.1 -3,.1 -3,.2 -3,.2 -3,.2 -3,.3 -3,.3 -3.1,.4 -3,.6 -3,.6 -3,.8 -3,.9 -3,1.3 -3,2 -3,2.7 -3,3.3 -3,4.7 -3,6.6 -3,8 -3.1,9.7 -3,12.9 -3,14.2 -3,16.1 -3,13.7 -3,11.7 -3,8.3 -3,6.2 -3,2.6 -3,1.6 -3,1 -3,.6 -3.1,.3 -3,.1 -3,.1 -3,0 -3-.2Z" fill="#f2d3ef"/>
<path d="M561.9,1854l3,.1 3,0 3-.1 3-.2 3.1-.3 3-.7 3-1.1 3-1.5 3-2.7 3-6.3 3-8.3 3-11.7 3-13.8 3-16.2 3-14.2 3-12.9 3.1-9.8 3-8 3-6.6 3-4.8 3-3.3 3-2.7 3-2 3-1.4 3-.9 3-.9 3-.6 3-.6 3.1-.4 3-.4 3-.3 3-.3 3-.2 3-.2 3-.2 3-.1 3-.1 3-.1 3-.1 3,0 3.1-.1 3,0 3-.1 3,0 3-.1 3,0 3,0 3,0 3-.1 3,0" fill="none" stroke="#e08ddc" stroke-width="6" stroke-linecap="butt"/>
<circle cx="567.9" cy="1851.4" r="8.1" fill="#7f8c8d"/>
<circle cx="603.1" cy="1813.3" r="8.1" fill="#7f8c8d"/>
<circle cx="646.9" cy="1712.9" r="8.1" fill="#7f8c8d"/>
<circle cx="678.3" cy="1709.0" r="8.1" fill="#7f8c8d"/>
<line x1="568.45" y1="1867.05" x2="568.45" y2="1857.08" stroke="#cf5fca" stroke-width="2.3"/>
<circle cx="568.5" cy="1857.1" r="8.1" fill="#d85bd2"/>
<line x1="610.96" y1="1850.25" x2="610.96" y2="1798.75" stroke="#cf5fca" stroke-width="2.3"/>
<circle cx="611.0" cy="1825.7" r="8.1" fill="#d85bd2"/>
<line x1="642.85" y1="1741.52" x2="642.85" y2="1720.29" stroke="#cf5fca" stroke-width="2.3"/>
<circle cx="642.8" cy="1720.3" r="8.1" fill="#d85bd2"/>
<line x1="683.72" y1="1741.52" x2="683.72" y2="1719.74" stroke="#cf5fca" stroke-width="2.3"/>
<circle cx="683.7" cy="1719.7" r="8.1" fill="#d85bd2"/>
</g>
<rect x="554.90" y="1641.10" width="194.30" height="52.60" fill="#fff" stroke="#000" stroke-width="3.4"/>
<text x="652.05" y="1677.87" font-size="29.5" text-anchor="middle" fill="#1a1a1a">2160</text>
<line x1="553.20" y1="1896.20" x2="750.90" y2="1896.20" stroke="#000" stroke-width="3.4"/>
<line x1="587.80" y1="1896.20" x2="587.80" y2="1904.70" stroke="#333333" stroke-width="3.2"/>
<text x="587.80" y="1935.50" font-size="30" text-anchor="middle" fill="#4d4d4d">0.0</text>
<line x1="696.80" y1="1896.20" x2="696.80" y2="1904.70" stroke="#333333" stroke-width="3.2"/>
<text x="696.80" y="1935.50" font-size="30" text-anchor="middle" fill="#4d4d4d">0.4</text>
<clipPath id="clipB20"><rect x="123.60" y="1969.90" width="194.30" height="200.80"/></clipPath>
<g clip-path="url(#clipB20)">
<line x1="154.80" y1="2170.70" x2="154.80" y2="1969.90" stroke="#999999" stroke-width="2.3" stroke-dasharray="10.4,10.47"/>
<line x1="119.00" y1="2071.40" x2="317.90" y2="2071.40" stroke="#999999" stroke-width="2.3" stroke-dasharray="10.4,10.47"/>
<path d="M128.9,2153.9l3-.3 3-.5 3-.6 3-.6 3.1-.9 3-1 3-1.2 3-1.3 3-1.6 3-2.2 3-2.8 3-3.9 3-6.1 3-7.6 3-8 3-9 3.1-9.9 3-10.4 3-11.5 3-11.5 3-10.4 3-9.8 3-9.1 3-7.6 3-6.5 3-5.8 3-4.9 3-3.8 3.1-3.3 3-2.9 3-2.6 3-2.1 3-1.8 3-1.5 3-1.3 3-1.2 3-.9 3-.8 3-.5 3-.3 3.1-.3 3-.3 3-.3 3-.2 3-.2 3-.2 3-.1 3-.1 3-.1 3,0 0,6.6 -3,.1 -3,0 -3,.1 -3,.2 -3,.1 -3,.2 -3,.3 -3,.2 -3,.3 -3.1,.3 -3,.4 -3,.5 -3,.7 -3,1 -3,1.2 -3,1.3 -3,1.4 -3,1.8 -3,2.2 -3,2.5 -3,3 -3.1,3.3 -3,3.8 -3,4.8 -3,5.9 -3,6.5 -3,7.6 -3,9 -3,9.8 -3,10.4 -3,11.6 -3,11.5 -3,10.4 -3.1,9.8 -3,9 -3,8 -3,7.6 -3,6.2 -3,3.8 -3,2.8 -3,2.2 -3,1.6 -3,1.4 -3,1.2 -3,1 -3.1,.8 -3,.7 -3,.6 -3,.4 -3,.4Z" fill="#d3d7d7"/>
<path d="M128.9,2157.2l3-.3 3-.5 3-.5 3-.7 3.1-.8 3-1 3-1.2 3-1.4 3-1.6 3-2.2 3-2.8 3-3.9 3-6.1 3-7.6 3-8 3-9 3.1-9.9 3-10.3 3-11.6 3-11.5 3-10.4 3-9.8 3-9 3-7.6 3-6.6 3-5.8 3-4.9 3-3.8 3.1-3.3 3-2.9 3-2.5 3-2.2 3-1.8 3-1.4 3-1.4 3-1.1 3-1 3-.8 3-.4 3-.4 3.1-.3 3-.3 3-.3 3-.2 3-.2 3-.2 3-.1 3-.1 3-.1 3,0" fill="none" stroke="#b2b7b6" stroke-width="6.5" stroke-linecap="butt"/>
<path d="M128.9,2154.5l3-.4 3-.6 3-.6 3-.7 3.1-.9 3-1 3-1.2 3-1.4 3-1.9 3-3 3-3.8 3-4.2 3-5.1 3-5.6 3-5.8 3-6.4 3.1-6.6 3-6.4 3-6.6 3-6.4 3-6.3 3-6.2 3-6 3-5.8 3-5.8 3-5.6 3-5.3 3-4.8 3.1-4.6 3-4.4 3-4.1 3-3.8 3-3.3 3-3 3-2.9 3-2.6 3-2.3 3-2.1 3-1.8 3-1.5 3.1-1.4 3-1.3 3-1.1 3-.9 3-.8 3-.8 3-.7 3-.6 3-.6 3-.3 0,9.2 -3,.3 -3,.5 -3,.5 -3,.7 -3,.7 -3,.7 -3,.9 -3,1.1 -3,1.2 -3.1,1.3 -3,1.5 -3,1.7 -3,2 -3,2.3 -3,2.6 -3,2.7 -3,3 -3,3.3 -3,3.7 -3,4 -3,4.3 -3.1,4.5 -3,4.8 -3,5.2 -3,5.6 -3,5.7 -3,5.7 -3,6 -3,6.1 -3,6.2 -3,6.4 -3,6.4 -3,6.4 -3.1,6.5 -3,6.3 -3,5.8 -3,5.5 -3,5 -3,4.1 -3,3.8 -3,2.9 -3,1.7 -3,1.4 -3,1.1 -3,1 -3.1,.7 -3,.6 -3,.6 -3,.4 -3,.2Z" fill="#f2d3ef"/>
<path d="M128.9,2157.2l3-.3 3-.5 3-.5 3-.7 3.1-.8 3-1 3-1.1 3-1.4 3-1.9 3-2.9 3-3.8 3-4.2 3-5 3-5.5 3-5.9 3-6.3 3.1-6.5 3-6.5 3-6.5 3-6.4 3-6.2 3-6.2 3-5.9 3-5.8 3-5.8 3-5.5 3-5.3 3-4.8 3.1-4.5 3-4.4 3-4 3-3.8 3-3.3 3-3 3-2.8 3-2.6 3-2.3 3-2.1 3-1.7 3-1.5 3.1-1.4 3-1.2 3-1.1 3-.9 3-.8 3-.7 3-.7 3-.6 3-.5 3-.3" fill="none" stroke="#e08ddc" stroke-width="6" stroke-linecap="butt"/>
<circle cx="134.6" cy="2156.1" r="8.1" fill="#7f8c8d"/>
<circle cx="169.5" cy="2148.7" r="8.1" fill="#7f8c8d"/>
<line x1="213.12" y1="2058.11" x2="213.12" y2="2017.68" stroke="#7f8c8d" stroke-width="2.3"/>
<circle cx="213.1" cy="2036.7" r="8.1" fill="#7f8c8d"/>
<circle cx="244.5" cy="1987.4" r="8.1" fill="#7f8c8d"/>
<line x1="135.18" y1="2152.25" x2="135.18" y2="2139.89" stroke="#cf5fca" stroke-width="2.3"/>
<circle cx="135.2" cy="2152.3" r="8.1" fill="#d85bd2"/>
<line x1="177.42" y1="2154.47" x2="177.42" y2="2101.67" stroke="#cf5fca" stroke-width="2.3"/>
<circle cx="177.4" cy="2133.6" r="8.1" fill="#d85bd2"/>
<line x1="209.30" y1="2098.35" x2="209.30" y2="2043.53" stroke="#cf5fca" stroke-width="2.3"/>
<circle cx="209.3" cy="2066.4" r="8.1" fill="#d85bd2"/>
<line x1="250.72" y1="2031.16" x2="250.72" y2="2001.99" stroke="#cf5fca" stroke-width="2.3"/>
<circle cx="250.7" cy="2002.0" r="8.1" fill="#d85bd2"/>
</g>
<rect x="121.90" y="1915.60" width="194.30" height="52.60" fill="#fff" stroke="#000" stroke-width="3.4"/>
<text x="219.05" y="1952.37" font-size="29.5" text-anchor="middle" fill="#1a1a1a">2165</text>
<line x1="120.20" y1="1969.90" x2="120.20" y2="2172.40" stroke="#000" stroke-width="3.4"/>
<line x1="111.40" y1="2163.70" x2="120.20" y2="2163.70" stroke="#333333" stroke-width="3.3"/>
<text x="104.90" y="2174.50" font-size="30" text-anchor="end" fill="#4d4d4d">0.0</text>
<line x1="111.40" y1="2071.40" x2="120.20" y2="2071.40" stroke="#333333" stroke-width="3.3"/>
<text x="104.90" y="2082.20" font-size="30" text-anchor="end" fill="#4d4d4d">0.5</text>
<line x1="111.40" y1="1979.10" x2="120.20" y2="1979.10" stroke="#333333" stroke-width="3.3"/>
<text x="104.90" y="1989.90" font-size="30" text-anchor="end" fill="#4d4d4d">1.0</text>
<line x1="118.50" y1="2170.70" x2="317.90" y2="2170.70" stroke="#000" stroke-width="3.4"/>
<line x1="154.80" y1="2170.70" x2="154.80" y2="2179.20" stroke="#333333" stroke-width="3.2"/>
<text x="154.80" y="2210.00" font-size="30" text-anchor="middle" fill="#4d4d4d">0.0</text>
<line x1="263.80" y1="2170.70" x2="263.80" y2="2179.20" stroke="#333333" stroke-width="3.2"/>
<text x="263.80" y="2210.00" font-size="30" text-anchor="middle" fill="#4d4d4d">0.4</text>
<clipPath id="clipB21"><rect x="340.10" y="1969.90" width="194.30" height="200.80"/></clipPath>
<g clip-path="url(#clipB21)">
<line x1="371.30" y1="2170.70" x2="371.30" y2="1969.90" stroke="#999999" stroke-width="2.3" stroke-dasharray="10.4,10.47"/>
<line x1="335.50" y1="2071.40" x2="534.40" y2="2071.40" stroke="#999999" stroke-width="2.3" stroke-dasharray="10.4,10.47"/>
<path d="M345.4,2152.1l3.6-.2 3.6-.4 3.6-.5 3.6-.8 3.7-1.3 3.6-1.7 3.6-2.4 3.6-4.8 3.6-9 3.6-10.5 3.6-13.6 3.6-15 3.6-15.6 3.6-16.2 3.6-15 3.6-14.5 3.6-12.2 3.7-9.8 3.6-8.3 3.6-5.5 3.6-3.9 3.6-2.9 3.6-1.7 3.6-.9 3.6-.7 3.6-.6 3.6-.4 3.6-.3 3.6-.2 3.6-.3 3.7-.2 3.6-.2 3.6,0 3.6-.1 3.6,0 3.6,0 3.6,0 3.6,0 3.6,0 3.6,0 3.6,0 3.6,0 3.7,0 3.6,0 3.6,0 3.6,0 3.6,0 3.6,0 3.6,0 3.6,0 0,6.7 -3.6,0 -3.6,0 -3.6,0 -3.6,0 -3.6,0 -3.6,0 -3.6,0 -3.7,0 -3.6,0 -3.6,0 -3.6,0 -3.6,0 -3.6,0 -3.6,0 -3.6,0 -3.6,0 -3.6,0 -3.6,.1 -3.6,.2 -3.7,.2 -3.6,.2 -3.6,.3 -3.6,.3 -3.6,.4 -3.6,.5 -3.6,.7 -3.6,.9 -3.6,1.7 -3.6,2.9 -3.6,3.9 -3.6,5.6 -3.6,8.3 -3.7,9.7 -3.6,12.3 -3.6,14.4 -3.6,15 -3.6,16.2 -3.6,15.6 -3.6,15.1 -3.6,13.6 -3.6,10.5 -3.6,8.9 -3.6,4.8 -3.6,2.4 -3.6,1.8 -3.7,1.3 -3.6,.8 -3.6,.5 -3.6,.4 -3.6,.1Z" fill="#d3d7d7"/>
<path d="M345.4,2155.4l3.6-.2 3.6-.3 3.6-.5 3.6-.9 3.7-1.2 3.6-1.8 3.6-2.4 3.6-4.8 3.6-8.9 3.6-10.6 3.6-13.5 3.6-15.1 3.6-15.6 3.6-16.2 3.6-15 3.6-14.4 3.6-12.3 3.7-9.8 3.6-8.2 3.6-5.6 3.6-3.9 3.6-2.9 3.6-1.7 3.6-.9 3.6-.7 3.6-.6 3.6-.3 3.6-.3 3.6-.3 3.6-.3 3.7-.2 3.6-.1 3.6-.1 3.6-.1 3.6,0 3.6,0 3.6,0 3.6,0 3.6,0 3.6,0 3.6,0 3.6,0 3.7,0 3.6,0 3.6,0 3.6,0 3.6,0 3.6,0 3.6,0 3.6,0" fill="none" stroke="#b2b7b6" stroke-width="6.5" stroke-linecap="butt"/>
<path d="M345.4,2153.5l3.6-.2 3.6-.3 3.6-.5 3.6-.8 3.7-1.4 3.6-1.8 3.6-2.4 3.6-4.4 3.6-8 3.6-9.5 3.6-12.9 3.6-14.1 3.6-13.6 3.6-13.8 3.6-12.6 3.6-11.8 3.6-10.5 3.7-9.3 3.6-8.3 3.6-6.2 3.6-4.5 3.6-3.6 3.6-2.6 3.6-2 3.6-1.7 3.6-1.3 3.6-1.2 3.6-.9 3.6-.8 3.6-.7 3.7-.6 3.6-.6 3.6-.4 3.6-.3 3.6-.3 3.6-.2 3.6-.3 3.6-.2 3.6-.2 3.6-.3 3.6-.2 3.6-.1 3.7-.2 3.6-.1 3.6-.2 3.6-.1 3.6-.1 3.6-.1 3.6,0 3.6-.1 0,9.3 -3.6-.1 -3.6,0 -3.6,.1 -3.6,0 -3.6,0 -3.6,.1 -3.6,.1 -3.7,.1 -3.6,.1 -3.6,.2 -3.6,.1 -3.6,.2 -3.6,.2 -3.6,.1 -3.6,.2 -3.6,.2 -3.6,.3 -3.6,.4 -3.6,.4 -3.7,.6 -3.6,.7 -3.6,.7 -3.6,.8 -3.6,1.1 -3.6,1.3 -3.6,1.6 -3.6,1.9 -3.6,2.5 -3.6,3.6 -3.6,4.4 -3.6,6.1 -3.6,8.3 -3.7,9.2 -3.6,10.4 -3.6,11.8 -3.6,12.5 -3.6,13.7 -3.6,13.5 -3.6,14 -3.6,12.8 -3.6,9.5 -3.6,7.8 -3.6,4.4 -3.6,2.3 -3.6,1.8 -3.7,1.2 -3.6,.7 -3.6,.4 -3.6,.2 -3.6,.1Z" fill="#f2d3ef"/>
<path d="M345.4,2156.3l3.6-.1 3.6-.3 3.6-.4 3.6-.8 3.7-1.3 3.6-1.8 3.6-2.4 3.6-4.4 3.6-7.8 3.6-9.5 3.6-12.9 3.6-14 3.6-13.6 3.6-13.7 3.6-12.6 3.6-11.8 3.6-10.4 3.7-9.3 3.6-8.3 3.6-6.1 3.6-4.5 3.6-3.6 3.6-2.6 3.6-1.9 3.6-1.6 3.6-1.4 3.6-1.1 3.6-.8 3.6-.8 3.6-.7 3.7-.6 3.6-.5 3.6-.4 3.6-.3 3.6-.2 3.6-.2 3.6-.3 3.6-.2 3.6-.2 3.6-.1 3.6-.2 3.6-.2 3.7-.1 3.6-.1 3.6-.1 3.6-.1 3.6-.1 3.6,0 3.6-.1 3.6,0" fill="none" stroke="#e08ddc" stroke-width="6" stroke-linecap="butt"/>
<circle cx="351.7" cy="2148.7" r="8.1" fill="#7f8c8d"/>
<circle cx="386.3" cy="2085.4" r="8.1" fill="#7f8c8d"/>
<circle cx="429.6" cy="1988.5" r="8.1" fill="#7f8c8d"/>
<circle cx="499.1" cy="1980.2" r="8.1" fill="#7f8c8d"/>
<circle cx="352.2" cy="2155.6" r="8.1" fill="#d85bd2"/>
<line x1="394.19" y1="2162.22" x2="394.19" y2="2119.77" stroke="#cf5fca" stroke-width="2.3"/>
<circle cx="394.2" cy="2149.9" r="8.1" fill="#d85bd2"/>
<line x1="426.07" y1="2056.82" x2="426.07" y2="2018.24" stroke="#cf5fca" stroke-width="2.3"/>
<circle cx="426.1" cy="2018.2" r="8.1" fill="#d85bd2"/>
<line x1="504.55" y1="2035.03" x2="504.55" y2="2000.88" stroke="#cf5fca" stroke-width="2.3"/>
<circle cx="504.6" cy="2000.9" r="8.1" fill="#d85bd2"/>
</g>
<rect x="338.40" y="1915.60" width="194.30" height="52.60" fill="#fff" stroke="#000" stroke-width="3.4"/>
<text x="435.55" y="1952.37" font-size="29.5" text-anchor="middle" fill="#1a1a1a">2166</text>
<line x1="336.70" y1="2170.70" x2="534.40" y2="2170.70" stroke="#000" stroke-width="3.4"/>
<line x1="371.30" y1="2170.70" x2="371.30" y2="2179.20" stroke="#333333" stroke-width="3.2"/>
<text x="371.30" y="2210.00" font-size="30" text-anchor="middle" fill="#4d4d4d">0.0</text>
<line x1="480.30" y1="2170.70" x2="480.30" y2="2179.20" stroke="#333333" stroke-width="3.2"/>
<text x="480.30" y="2210.00" font-size="30" text-anchor="middle" fill="#4d4d4d">0.4</text>
<text transform="translate(46.30,1795.90) rotate(-90)" font-size="37" text-anchor="middle" fill="#000">P(Chose lottery)</text>
<text y="2249.50" font-size="36" fill="#000"><tspan x="289.2">EV</tspan><tspan font-size="26.5" dy="6.1" x="338.5">lottery</tspan><tspan dy="-6.1" x="418.5">−</tspan><tspan x="445.2">EV</tspan><tspan font-size="26.5" dy="6.1" x="493.0">surebet</tspan></text>
<rect x="254.00" y="2312.00" width="34.00" height="34.00" fill="#7f8c8d" fill-opacity="0.25"/>
<line x1="257.00" y1="2329.00" x2="285.00" y2="2329.00" stroke="#7f8c8d" stroke-width="1.2" stroke-opacity="0.5"/>
<line x1="271.00" y1="2315.00" x2="271.00" y2="2343.00" stroke="#7f8c8d" stroke-width="1.8"/>
<circle cx="271.00" cy="2329.00" r="7" fill="#7f8c8d"/>
<text x="303.00" y="2337.64" font-size="24" text-anchor="start" fill="#000">Control</text>
<rect x="395.60" y="2312.00" width="34.00" height="34.00" fill="#d65bd0" fill-opacity="0.25"/>
<line x1="398.60" y1="2329.00" x2="426.60" y2="2329.00" stroke="#d85bd2" stroke-width="1.2" stroke-opacity="0.5"/>
<line x1="412.60" y1="2315.00" x2="412.60" y2="2343.00" stroke="#d85bd2" stroke-width="1.8"/>
<circle cx="412.60" cy="2329.00" r="7" fill="#d85bd2"/>
<text x="445.00" y="2337.64" font-size="24" text-anchor="start" fill="#000">Uni−fof silencing</text>
<text x="993.50" y="148.00" font-size="17.5" text-anchor="start" fill="#000" font-weight="bold">2152</text>
<clipPath id="dcA00"><rect x="1128.50" y="88.72" width="129.00" height="59.76"/></clipPath>
<g clip-path="url(#dcA00)">
<path d="M1134.4,145.9l0,0 45.1-.4 2.8-.3 1.9-.9 1.3-1.5 1.5-2.7 3.1-8.4 1.6-8.1 3.7-23.9 1-3.9 .9-1.2 .8,.9 1,3.9 3.4,20.6 3,15.2 1.7,5.5 2,3 1.8,1.3 2.2,.5 38.4,.4 0,0Z" fill="#7f8c8d" fill-opacity="0.45" stroke="#7e8584" stroke-width="2.5" stroke-linejoin="round"/>
<path d="M1134.4,145.9l0-.4 7.3-.2 6.4-.7 2.9-.6 1.3-1.2 1.2-2.6 1.2-4.1 5.8-29.1 .9-3.1 .8-1.5 .7,.4 .8,2.3 3.2,16.6 1.8,6.4 1.9,3.9 1.7,2.4 1.3,.9 1.4-.4 1.3-1.8 1.7-4.1 9.9-30.5 1.5-3 1.3-.9 .7,.2 .8,1 1.7,3.9 10.2,33.3 2.2,3.9 3.7,3.8 2.4,1.7 2.5,1.2 7.5,1.8 29.2,.1 0,.4Z" fill="#7f30d4" fill-opacity="0.55" stroke="#6825b4" stroke-width="2.5" stroke-linejoin="round"/>
</g>
<line x1="1128.50" y1="91.72" x2="1128.50" y2="149.98" stroke="#000" stroke-width="3"/>
<line x1="1127.00" y1="148.48" x2="1257.50" y2="148.48" stroke="#000" stroke-width="3"/>
<line x1="1120.50" y1="145.90" x2="1128.50" y2="145.90" stroke="#333333" stroke-width="3"/>
<text x="1112.70" y="155.98" font-size="28" text-anchor="end" fill="#4d4d4d">0.0</text>
<line x1="1120.50" y1="120.10" x2="1128.50" y2="120.10" stroke="#333333" stroke-width="3"/>
<text x="1112.70" y="130.18" font-size="28" text-anchor="end" fill="#4d4d4d">0.5</text>
<line x1="1120.50" y1="94.30" x2="1128.50" y2="94.30" stroke="#333333" stroke-width="3"/>
<text x="1112.70" y="104.38" font-size="28" text-anchor="end" fill="#4d4d4d">1.0</text>
<clipPath id="dcA00t"><rect x="1088.50" y="148.48" width="187.00" height="60"/></clipPath>
<g clip-path="url(#dcA00t)">
<line x1="1134.36" y1="148.48" x2="1134.36" y2="156.48" stroke="#333333" stroke-width="3"/>
<text x="1134.36" y="185.06" font-size="28" text-anchor="middle" fill="#4d4d4d">0.2</text>
<line x1="1193.00" y1="148.48" x2="1193.00" y2="156.48" stroke="#333333" stroke-width="3"/>
<text x="1193.00" y="185.06" font-size="28" text-anchor="middle" fill="#4d4d4d">0.6</text>
<line x1="1251.64" y1="148.48" x2="1251.64" y2="156.48" stroke="#333333" stroke-width="3"/>
<text x="1251.64" y="185.06" font-size="28" text-anchor="middle" fill="#4d4d4d">1.0</text>
</g>
<clipPath id="dcA01"><rect x="1347.00" y="88.72" width="129.00" height="59.76"/></clipPath>
<g clip-path="url(#dcA01)">
<path d="M1352.9,145.9l0,0 19.6-.4 1.8-.5 1.2-1.1 1.5-3.7 1.7-7 1.5-9.2 2.5-20 .9-3.7 .6-1 .9,1.2 1,3.8 6.4,34.1 1.3,4.1 1.7,1.9 2.5,.8 2.8,.3 69.3,.4 0,0Z" fill="#7f8c8d" fill-opacity="0.45" stroke="#7e8584" stroke-width="2.5" stroke-linejoin="round"/>
<path d="M1352.9,145.9l0-.4 6.5-.3 6-1 5-1.5 1.9-1.6 1.3-3.1 1.5-5.5 7.4-33.9 1.2-3.2 1-.8 .8,.7 1,2.2 4,14.1 4.7,12.9 2.4,5 2.1,2.5 2.2,.5 7.4-.2 2.3-1 5.6-3.6 1.5-.5 1.5,0 2.7,1.3 5.5,5 7,5.2 3.2,2.1 2.8,1.3 7.1,2.1 5.7,1.1 15.7,.2 0,.4Z" fill="#7f30d4" fill-opacity="0.55" stroke="#6825b4" stroke-width="2.5" stroke-linejoin="round"/>
</g>
<line x1="1347.00" y1="91.72" x2="1347.00" y2="149.98" stroke="#000" stroke-width="3"/>
<line x1="1345.50" y1="148.48" x2="1476.00" y2="148.48" stroke="#000" stroke-width="3"/>
<line x1="1339.00" y1="145.90" x2="1347.00" y2="145.90" stroke="#333333" stroke-width="3"/>
<text x="1331.20" y="155.98" font-size="28" text-anchor="end" fill="#4d4d4d">0.0</text>
<line x1="1339.00" y1="120.10" x2="1347.00" y2="120.10" stroke="#333333" stroke-width="3"/>
<text x="1331.20" y="130.18" font-size="28" text-anchor="end" fill="#4d4d4d">0.5</text>
<line x1="1339.00" y1="94.30" x2="1347.00" y2="94.30" stroke="#333333" stroke-width="3"/>
<text x="1331.20" y="104.38" font-size="28" text-anchor="end" fill="#4d4d4d">1.0</text>
<clipPath id="dcA01t"><rect x="1307.00" y="148.48" width="187.00" height="60"/></clipPath>
<g clip-path="url(#dcA01t)">
<line x1="1352.86" y1="148.48" x2="1352.86" y2="156.48" stroke="#333333" stroke-width="3"/>
<text x="1352.86" y="185.06" font-size="28" text-anchor="middle" fill="#4d4d4d">0.0</text>
<line x1="1411.50" y1="148.48" x2="1411.50" y2="156.48" stroke="#333333" stroke-width="3"/>
<text x="1411.50" y="185.06" font-size="28" text-anchor="middle" fill="#4d4d4d">0.1</text>
<line x1="1470.14" y1="148.48" x2="1470.14" y2="156.48" stroke="#333333" stroke-width="3"/>
<text x="1470.14" y="185.06" font-size="28" text-anchor="middle" fill="#4d4d4d">0.2</text>
</g>
<clipPath id="dcA02"><rect x="1565.50" y="88.72" width="129.00" height="59.76"/></clipPath>
<g clip-path="url(#dcA02)">
<path d="M1571.4,145.9l0,0 71.8-.3 10.7-.1 2-.4 .9-.9 .6-1.6 1.2-5.3 4.4-36.8 .8-4.8 .7-1.1 .6,1.3 .9,4.6 4.5,35.6 1.7,6.8 1.2,1.6 2,.9 13.2,.5 0,0Z" fill="#7f8c8d" fill-opacity="0.45" stroke="#7e8584" stroke-width="2.5" stroke-linejoin="round"/>
<path d="M1571.4,145.9l0,0 10-.2 6.4-.7 5.2-1.3 4.5-2.2 4.1-3.1 3.8-4.1 10.9-15.1 3.5-4.3 3.6-2.8 3.3-1 1.7,.2 1.8,.7 3.7,2.9 3.4,4 9.9,13.3 3.3,3.6 3.4,2.9 3.8,2.3 4.4,1.6 5.5,1.2 3.6-.2 1.5-.8 1.3-1.7 2.2-6 1.8-9.5 3.6-23.8 1-4.8 .8-2.2 .5-.5 .5,.2 1,2.4 3.2,16.8 0,32.2Z" fill="#7f30d4" fill-opacity="0.55" stroke="#6825b4" stroke-width="2.5" stroke-linejoin="round"/>
</g>
<line x1="1565.50" y1="91.72" x2="1565.50" y2="149.98" stroke="#000" stroke-width="3"/>
<line x1="1564.00" y1="148.48" x2="1694.50" y2="148.48" stroke="#000" stroke-width="3"/>
<line x1="1557.50" y1="145.90" x2="1565.50" y2="145.90" stroke="#333333" stroke-width="3"/>
<text x="1549.70" y="155.98" font-size="28" text-anchor="end" fill="#4d4d4d">0.0</text>
<line x1="1557.50" y1="120.10" x2="1565.50" y2="120.10" stroke="#333333" stroke-width="3"/>
<text x="1549.70" y="130.18" font-size="28" text-anchor="end" fill="#4d4d4d">0.5</text>
<line x1="1557.50" y1="94.30" x2="1565.50" y2="94.30" stroke="#333333" stroke-width="3"/>
<text x="1549.70" y="104.38" font-size="28" text-anchor="end" fill="#4d4d4d">1.0</text>
<clipPath id="dcA02t"><rect x="1525.50" y="148.48" width="187.00" height="60"/></clipPath>
<g clip-path="url(#dcA02t)">
<line x1="1571.36" y1="148.48" x2="1571.36" y2="156.48" stroke="#333333" stroke-width="3"/>
<text x="1571.36" y="185.06" font-size="28" text-anchor="middle" fill="#4d4d4d">0.2</text>
<line x1="1630.00" y1="148.48" x2="1630.00" y2="156.48" stroke="#333333" stroke-width="3"/>
<text x="1630.00" y="185.06" font-size="28" text-anchor="middle" fill="#4d4d4d">0.6</text>
<line x1="1688.64" y1="148.48" x2="1688.64" y2="156.48" stroke="#333333" stroke-width="3"/>
<text x="1688.64" y="185.06" font-size="28" text-anchor="middle" fill="#4d4d4d">1.0</text>
</g>
<clipPath id="dcA03"><rect x="1784.00" y="88.72" width="129.00" height="59.76"/></clipPath>
<g clip-path="url(#dcA03)">
<path d="M1789.9,145.9l0,0 27-.1 3.5-1.2 3.9-2.9 2.8-3.7 2.7-6.2 3.2-9.2 4.2-15.1 2-5.8 3-5.2 1.4-1.4 1.1-.4 1.2,.4 1.3,1.4 3.1,5.5 2.1,6.2 7.8,26.6 2.3,4.9 3.2,3.9 2.8,1.4 4.9,.9 33.7,0 0,0Z" fill="#7f8c8d" fill-opacity="0.45" stroke="#7e8584" stroke-width="2.5" stroke-linejoin="round"/>
<path d="M1789.9,145.9l0-5.3 2.8-23.8 1.7-10.5 2.1-8.8 1-2.2 1-.6 .9,.6 1,1.7 3.7,8.9 4.8,10 7,12.1 3.7,4.9 2.8,3.2 3.9,3 3.8,2.2 3.5,1.3 5,1.2 14.7,1.9 53.3,.2 0,0Z" fill="#7f30d4" fill-opacity="0.55" stroke="#6825b4" stroke-width="2.5" stroke-linejoin="round"/>
</g>
<line x1="1784.00" y1="91.72" x2="1784.00" y2="149.98" stroke="#000" stroke-width="3"/>
<line x1="1782.50" y1="148.48" x2="1913.00" y2="148.48" stroke="#000" stroke-width="3"/>
<line x1="1776.00" y1="145.90" x2="1784.00" y2="145.90" stroke="#333333" stroke-width="3"/>
<text x="1768.20" y="155.98" font-size="28" text-anchor="end" fill="#4d4d4d">0.0</text>
<line x1="1776.00" y1="120.10" x2="1784.00" y2="120.10" stroke="#333333" stroke-width="3"/>
<text x="1768.20" y="130.18" font-size="28" text-anchor="end" fill="#4d4d4d">0.5</text>
<line x1="1776.00" y1="94.30" x2="1784.00" y2="94.30" stroke="#333333" stroke-width="3"/>
<text x="1768.20" y="104.38" font-size="28" text-anchor="end" fill="#4d4d4d">1.0</text>
<clipPath id="dcA03t"><rect x="1744.00" y="148.48" width="187.00" height="60"/></clipPath>
<g clip-path="url(#dcA03t)">
<line x1="1789.86" y1="148.48" x2="1789.86" y2="156.48" stroke="#333333" stroke-width="3"/>
<text x="1789.86" y="185.06" font-size="28" text-anchor="middle" fill="#4d4d4d">0.00</text>
<line x1="1848.50" y1="148.48" x2="1848.50" y2="156.48" stroke="#333333" stroke-width="3"/>
<text x="1848.50" y="185.06" font-size="28" text-anchor="middle" fill="#4d4d4d">0.15</text>
<line x1="1907.14" y1="148.48" x2="1907.14" y2="156.48" stroke="#333333" stroke-width="3"/>
<text x="1907.14" y="185.06" font-size="28" text-anchor="middle" fill="#4d4d4d">0.30</text>
</g>
<clipPath id="dcA04"><rect x="2002.50" y="88.72" width="129.00" height="59.76"/></clipPath>
<g clip-path="url(#dcA04)">
<path d="M2008.4,145.9l0,0 5.5,0 1.5-.3 1.5-1.2 1.9-3 2.8-7.2 4.5-17 4.9-15.9 2.2-5.1 1-1.2 .8-.3 1.2,.5 1.2,1.5 3.2,6.2 2,5.3 4.9,15.2 4.5,10.3 4.2,6.4 2.3,2.5 2,1.5 3.6,1.2 4.3,.6 57.2,0 0,0Z" fill="#7f8c8d" fill-opacity="0.45" stroke="#7e8584" stroke-width="2.5" stroke-linejoin="round"/>
<path d="M2008.4,145.9l0-22.3 1.1-22.6 .5-5.1 .5-1.2 .7,3 2.8,22.2 2.2,9.9 1.5,4 1.7,2.9 2,1.9 3,1.7 5.9,2 6.8,1.5 18,1.7 9.1,.3 60.9,.1 0,0Z" fill="#7f30d4" fill-opacity="0.55" stroke="#6825b4" stroke-width="2.5" stroke-linejoin="round"/>
</g>
<line x1="2002.50" y1="91.72" x2="2002.50" y2="149.98" stroke="#000" stroke-width="3"/>
<line x1="2001.00" y1="148.48" x2="2131.50" y2="148.48" stroke="#000" stroke-width="3"/>
<line x1="1994.50" y1="145.90" x2="2002.50" y2="145.90" stroke="#333333" stroke-width="3"/>
<text x="1986.70" y="155.98" font-size="28" text-anchor="end" fill="#4d4d4d">0.0</text>
<line x1="1994.50" y1="120.10" x2="2002.50" y2="120.10" stroke="#333333" stroke-width="3"/>
<text x="1986.70" y="130.18" font-size="28" text-anchor="end" fill="#4d4d4d">0.5</text>
<line x1="1994.50" y1="94.30" x2="2002.50" y2="94.30" stroke="#333333" stroke-width="3"/>
<text x="1986.70" y="104.38" font-size="28" text-anchor="end" fill="#4d4d4d">1.0</text>
<clipPath id="dcA04t"><rect x="1962.50" y="148.48" width="187.00" height="60"/></clipPath>
<g clip-path="url(#dcA04t)">
<line x1="2008.36" y1="148.48" x2="2008.36" y2="156.48" stroke="#333333" stroke-width="3"/>
<text x="2008.36" y="185.06" font-size="28" text-anchor="middle" fill="#4d4d4d">0.00</text>
<line x1="2067.00" y1="148.48" x2="2067.00" y2="156.48" stroke="#333333" stroke-width="3"/>
<text x="2067.00" y="185.06" font-size="28" text-anchor="middle" fill="#4d4d4d">0.05</text>
<line x1="2125.64" y1="148.48" x2="2125.64" y2="156.48" stroke="#333333" stroke-width="3"/>
<text x="2125.64" y="185.06" font-size="28" text-anchor="middle" fill="#4d4d4d">0.10</text>
</g>
<text x="993.50" y="280.67" font-size="17.5" text-anchor="start" fill="#000" font-weight="bold">2153</text>
<clipPath id="dcA10"><rect x="1128.50" y="221.39" width="129.00" height="59.76"/></clipPath>
<g clip-path="url(#dcA10)">
<path d="M1134.4,278.6l0,0 59.4-.2 2.6-.1 1.4-.5 1.5-2 1.5-4.4 9.6-39.1 1.5-3.7 .6-.8 .9-.4 .8,.4 1,1 2.2,4 5.5,13.8 6.1,17.6 2.8,5.8 3.1,4.9 2.1,2.3 2.6,1 12,.4 0,0Z" fill="#7f8c8d" fill-opacity="0.45" stroke="#7e8584" stroke-width="2.5" stroke-linejoin="round"/>
<path d="M1134.4,278.6l0-.2 8.2-.2 7.2-.6 6.5-1 1.9-1 1-1.8 1-3.1 3.7-17 2.8-10 2.7-7.3 1-1.8 1-.9 1.2,.6 1.2,2.6 4.3,17.1 3.4,8.8 1.5,2.9 1.3,1.6 1.2,.5 1.4-.5 1.5-1.5 1.8-2.8 6.4-12.8 7.9-19.4 1.7-2.5 1.6-.9 1.4,.6 1.7,1.7 4.1,7 2.7,6.1 6.2,17.9 2.4,4.2 4,5.4 3.7,3.6 3.5,2.1 7.4,1.8 6.7,.6 0,.2Z" fill="#7f30d4" fill-opacity="0.55" stroke="#6825b4" stroke-width="2.5" stroke-linejoin="round"/>
</g>
<line x1="1128.50" y1="224.39" x2="1128.50" y2="282.65" stroke="#000" stroke-width="3"/>
<line x1="1127.00" y1="281.15" x2="1257.50" y2="281.15" stroke="#000" stroke-width="3"/>
<line x1="1120.50" y1="278.57" x2="1128.50" y2="278.57" stroke="#333333" stroke-width="3"/>
<text x="1112.70" y="288.65" font-size="28" text-anchor="end" fill="#4d4d4d">0.0</text>
<line x1="1120.50" y1="252.77" x2="1128.50" y2="252.77" stroke="#333333" stroke-width="3"/>
<text x="1112.70" y="262.85" font-size="28" text-anchor="end" fill="#4d4d4d">0.5</text>
<line x1="1120.50" y1="226.97" x2="1128.50" y2="226.97" stroke="#333333" stroke-width="3"/>
<text x="1112.70" y="237.05" font-size="28" text-anchor="end" fill="#4d4d4d">1.0</text>
<clipPath id="dcA10t"><rect x="1088.50" y="281.15" width="187.00" height="60"/></clipPath>
<g clip-path="url(#dcA10t)">
<line x1="1134.36" y1="281.15" x2="1134.36" y2="289.15" stroke="#333333" stroke-width="3"/>
<text x="1134.36" y="317.73" font-size="28" text-anchor="middle" fill="#4d4d4d">0.2</text>
<line x1="1193.00" y1="281.15" x2="1193.00" y2="289.15" stroke="#333333" stroke-width="3"/>
<text x="1193.00" y="317.73" font-size="28" text-anchor="middle" fill="#4d4d4d">0.6</text>
<line x1="1251.64" y1="281.15" x2="1251.64" y2="289.15" stroke="#333333" stroke-width="3"/>
<text x="1251.64" y="317.73" font-size="28" text-anchor="middle" fill="#4d4d4d">1.0</text>
</g>
<clipPath id="dcA11"><rect x="1347.00" y="221.39" width="129.00" height="59.76"/></clipPath>
<g clip-path="url(#dcA11)">
<path d="M1352.9,278.6l0,0 19.6-.2 1.8-.4 1.2-1.1 1.7-4.1 1.8-7.6 4.1-28.3 .8-4 .8-1.3 .9,1.3 1,4 6.2,34.6 1.5,4.1 2,2 1.7,.6 2.2,.2 69.9,.2 0,0Z" fill="#7f8c8d" fill-opacity="0.45" stroke="#7e8584" stroke-width="2.5" stroke-linejoin="round"/>
<path d="M1352.9,278.6l0-.2 6.2-.3 5.7-1.1 5.3-1.8 2-1.8 1-2.1 1.2-4 8-34.4 1.5-4.1 .7-1 .7-.4 1.2,.9 1.1,2.4 10.1,27.8 2.1,3.7 2.6,2.1 3.8,1.7 3.2,.1 2.3-1.2 5.6-4.6 1.6-.8 1.5,.1 2.9,1.5 5.2,4.7 8,6.3 5.2,3 6.9,2 5.7,1.1 15.7,.2 0,.2Z" fill="#7f30d4" fill-opacity="0.55" stroke="#6825b4" stroke-width="2.5" stroke-linejoin="round"/>
</g>
<line x1="1347.00" y1="224.39" x2="1347.00" y2="282.65" stroke="#000" stroke-width="3"/>
<line x1="1345.50" y1="281.15" x2="1476.00" y2="281.15" stroke="#000" stroke-width="3"/>
<line x1="1339.00" y1="278.57" x2="1347.00" y2="278.57" stroke="#333333" stroke-width="3"/>
<text x="1331.20" y="288.65" font-size="28" text-anchor="end" fill="#4d4d4d">0.0</text>
<line x1="1339.00" y1="252.77" x2="1347.00" y2="252.77" stroke="#333333" stroke-width="3"/>
<text x="1331.20" y="262.85" font-size="28" text-anchor="end" fill="#4d4d4d">0.5</text>
<line x1="1339.00" y1="226.97" x2="1347.00" y2="226.97" stroke="#333333" stroke-width="3"/>
<text x="1331.20" y="237.05" font-size="28" text-anchor="end" fill="#4d4d4d">1.0</text>
<clipPath id="dcA11t"><rect x="1307.00" y="281.15" width="187.00" height="60"/></clipPath>
<g clip-path="url(#dcA11t)">
<line x1="1352.86" y1="281.15" x2="1352.86" y2="289.15" stroke="#333333" stroke-width="3"/>
<text x="1352.86" y="317.73" font-size="28" text-anchor="middle" fill="#4d4d4d">0.0</text>
<line x1="1411.50" y1="281.15" x2="1411.50" y2="289.15" stroke="#333333" stroke-width="3"/>
<text x="1411.50" y="317.73" font-size="28" text-anchor="middle" fill="#4d4d4d">0.1</text>
<line x1="1470.14" y1="281.15" x2="1470.14" y2="289.15" stroke="#333333" stroke-width="3"/>
<text x="1470.14" y="317.73" font-size="28" text-anchor="middle" fill="#4d4d4d">0.2</text>
</g>
<clipPath id="dcA12"><rect x="1565.50" y="221.39" width="129.00" height="59.76"/></clipPath>
<g clip-path="url(#dcA12)">
<path d="M1571.4,278.6l0,0 77.6-.2 4.2-.5 1.2-1.1 1-2.1 2.2-8.1 1.7-10.4 2.8-24 .9-3.8 .6-.9 .9,1.3 .8,3.4 5.7,35.5 1,4.7 1,2.9 1.5,1.9 2.4,1 11.7,.4 0,0Z" fill="#7f8c8d" fill-opacity="0.45" stroke="#7e8584" stroke-width="2.5" stroke-linejoin="round"/>
<path d="M1571.4,278.6l0-.1 9-.3 6.4-.7 5.4-1.3 4.7-2.1 4-2.6 4.2-3.7 11.6-13.1 3.8-3.8 4-2.7 3.9-1 3.9,.8 4.1,2.6 3.7,3.3 10.4,11 6.7,5.2 3.9,2.1 4.2,1.6 4.7,1.1 2.7,0 1.5-.8 1.2-1.5 2-5.9 1.6-9.1 3.4-24.1 1.5-6 .5-.5 .5,.3 .9,2.5 2.8,18.4 0,30.4Z" fill="#7f30d4" fill-opacity="0.55" stroke="#6825b4" stroke-width="2.5" stroke-linejoin="round"/>
</g>
<line x1="1565.50" y1="224.39" x2="1565.50" y2="282.65" stroke="#000" stroke-width="3"/>
<line x1="1564.00" y1="281.15" x2="1694.50" y2="281.15" stroke="#000" stroke-width="3"/>
<line x1="1557.50" y1="278.57" x2="1565.50" y2="278.57" stroke="#333333" stroke-width="3"/>
<text x="1549.70" y="288.65" font-size="28" text-anchor="end" fill="#4d4d4d">0.0</text>
<line x1="1557.50" y1="252.77" x2="1565.50" y2="252.77" stroke="#333333" stroke-width="3"/>
<text x="1549.70" y="262.85" font-size="28" text-anchor="end" fill="#4d4d4d">0.5</text>
<line x1="1557.50" y1="226.97" x2="1565.50" y2="226.97" stroke="#333333" stroke-width="3"/>
<text x="1549.70" y="237.05" font-size="28" text-anchor="end" fill="#4d4d4d">1.0</text>
<clipPath id="dcA12t"><rect x="1525.50" y="281.15" width="187.00" height="60"/></clipPath>
<g clip-path="url(#dcA12t)">
<line x1="1571.36" y1="281.15" x2="1571.36" y2="289.15" stroke="#333333" stroke-width="3"/>
<text x="1571.36" y="317.73" font-size="28" text-anchor="middle" fill="#4d4d4d">0.2</text>
<line x1="1630.00" y1="281.15" x2="1630.00" y2="289.15" stroke="#333333" stroke-width="3"/>
<text x="1630.00" y="317.73" font-size="28" text-anchor="middle" fill="#4d4d4d">0.6</text>
<line x1="1688.64" y1="281.15" x2="1688.64" y2="289.15" stroke="#333333" stroke-width="3"/>
<text x="1688.64" y="317.73" font-size="28" text-anchor="middle" fill="#4d4d4d">1.0</text>
</g>
<clipPath id="dcA13"><rect x="1784.00" y="221.39" width="129.00" height="59.76"/></clipPath>
<g clip-path="url(#dcA13)">
<path d="M1789.9,278.6l0-.2 5.7-1.3 11.2-1.8 6-1.6 7.3-2.8 5.8-3.6 3.4-3.8 4-6.9 4.2-8.4 4.4-10.9 2-3.9 3.8-4.8 1.6-1 1.3-.3 1.5,.4 1.7,1.3 1.8,2.3 1.5,2.5 1.6,3.9 4.3,14.9 4.4,12.7 2.8,5.7 3.9,4.8 2.8,1.7 4.9,1 25.3,.1 0,0Z" fill="#7f8c8d" fill-opacity="0.45" stroke="#7e8584" stroke-width="2.5" stroke-linejoin="round"/>
<path d="M1789.9,278.6l0-5.4 2.8-24.3 1.7-10.8 2-8.3 1-2 1-.5 1.6,1.4 5.6,8.6 2.1,2.5 3.4,2 10.8,4.5 2.7,1.5 2.3,2.2 6,7.4 6.9,6.7 6.3,4.9 6.9,4 4,1.6 5.8,1.6 11.9,1.9 31.9,.5 0,0Z" fill="#7f30d4" fill-opacity="0.55" stroke="#6825b4" stroke-width="2.5" stroke-linejoin="round"/>
</g>
<line x1="1784.00" y1="224.39" x2="1784.00" y2="282.65" stroke="#000" stroke-width="3"/>
<line x1="1782.50" y1="281.15" x2="1913.00" y2="281.15" stroke="#000" stroke-width="3"/>
<line x1="1776.00" y1="278.57" x2="1784.00" y2="278.57" stroke="#333333" stroke-width="3"/>
<text x="1768.20" y="288.65" font-size="28" text-anchor="end" fill="#4d4d4d">0.0</text>
<line x1="1776.00" y1="252.77" x2="1784.00" y2="252.77" stroke="#333333" stroke-width="3"/>
<text x="1768.20" y="262.85" font-size="28" text-anchor="end" fill="#4d4d4d">0.5</text>
<line x1="1776.00" y1="226.97" x2="1784.00" y2="226.97" stroke="#333333" stroke-width="3"/>
<text x="1768.20" y="237.05" font-size="28" text-anchor="end" fill="#4d4d4d">1.0</text>
<clipPath id="dcA13t"><rect x="1744.00" y="281.15" width="187.00" height="60"/></clipPath>
<g clip-path="url(#dcA13t)">
<line x1="1789.86" y1="281.15" x2="1789.86" y2="289.15" stroke="#333333" stroke-width="3"/>
<text x="1789.86" y="317.73" font-size="28" text-anchor="middle" fill="#4d4d4d">0.00</text>
<line x1="1848.50" y1="281.15" x2="1848.50" y2="289.15" stroke="#333333" stroke-width="3"/>
<text x="1848.50" y="317.73" font-size="28" text-anchor="middle" fill="#4d4d4d">0.15</text>
<line x1="1907.14" y1="281.15" x2="1907.14" y2="289.15" stroke="#333333" stroke-width="3"/>
<text x="1907.14" y="317.73" font-size="28" text-anchor="middle" fill="#4d4d4d">0.30</text>
</g>
<clipPath id="dcA14"><rect x="2002.50" y="221.39" width="129.00" height="59.76"/></clipPath>
<g clip-path="url(#dcA14)">
<path d="M2008.4,278.6l0-.5 1-1.8 1-4.6 5.2-37.9 1.2-4.7 .6-1.4 .7-.4 .8,.3 1.2,1.7 3,7.2 1.7,5.7 3.9,16.2 3.2,9.2 1.6,3.5 1.7,2.5 2.4,2.6 2,1.4 2.3,.7 3.9,.3 79.8,0 0,0Z" fill="#7f8c8d" fill-opacity="0.45" stroke="#7e8584" stroke-width="2.5" stroke-linejoin="round"/>
<path d="M2008.4,278.6l0-34 .6-13.2 .4-3.4 .3-.6 2.3,28.5 1.5,9.2 1.2,3 1.7,2.2 2.7,2 3.3,1.3 9.9,2.1 10.6,.9 40.5,1.5 41.7,.5 0,0Z" fill="#7f30d4" fill-opacity="0.55" stroke="#6825b4" stroke-width="2.5" stroke-linejoin="round"/>
</g>
<line x1="2002.50" y1="224.39" x2="2002.50" y2="282.65" stroke="#000" stroke-width="3"/>
<line x1="2001.00" y1="281.15" x2="2131.50" y2="281.15" stroke="#000" stroke-width="3"/>
<line x1="1994.50" y1="278.57" x2="2002.50" y2="278.57" stroke="#333333" stroke-width="3"/>
<text x="1986.70" y="288.65" font-size="28" text-anchor="end" fill="#4d4d4d">0.0</text>
<line x1="1994.50" y1="252.77" x2="2002.50" y2="252.77" stroke="#333333" stroke-width="3"/>
<text x="1986.70" y="262.85" font-size="28" text-anchor="end" fill="#4d4d4d">0.5</text>
<line x1="1994.50" y1="226.97" x2="2002.50" y2="226.97" stroke="#333333" stroke-width="3"/>
<text x="1986.70" y="237.05" font-size="28" text-anchor="end" fill="#4d4d4d">1.0</text>
<clipPath id="dcA14t"><rect x="1962.50" y="281.15" width="187.00" height="60"/></clipPath>
<g clip-path="url(#dcA14t)">
<line x1="2008.36" y1="281.15" x2="2008.36" y2="289.15" stroke="#333333" stroke-width="3"/>
<text x="2008.36" y="317.73" font-size="28" text-anchor="middle" fill="#4d4d4d">0.00</text>
<line x1="2067.00" y1="281.15" x2="2067.00" y2="289.15" stroke="#333333" stroke-width="3"/>
<text x="2067.00" y="317.73" font-size="28" text-anchor="middle" fill="#4d4d4d">0.05</text>
<line x1="2125.64" y1="281.15" x2="2125.64" y2="289.15" stroke="#333333" stroke-width="3"/>
<text x="2125.64" y="317.73" font-size="28" text-anchor="middle" fill="#4d4d4d">0.10</text>
</g>
<text x="993.50" y="413.34" font-size="17.5" text-anchor="start" fill="#000" font-weight="bold">2154</text>
<clipPath id="dcA20"><rect x="1128.50" y="354.06" width="129.00" height="59.76"/></clipPath>
<g clip-path="url(#dcA20)">
<path d="M1134.4,411.2l0,0 25.8,0 1.7-.3 1-.8 1.2-2.7 1.1-5.6 3.6-34.5 .8-5.3 1-2.4 .5,.4 .5,1.3 1,5.1 3,27.6 1.4,9.5 1.3,4.9 1.7,2.2 2.7,.6 68.9,0 0,0Z" fill="#7f8c8d" fill-opacity="0.45" stroke="#7e8584" stroke-width="2.5" stroke-linejoin="round"/>
<path d="M1134.4,411.2l0-.1 2.3-.3 1.5-.7 1-1.3 .9-2 1.5-6.4 4.5-24.3 .8-3.2 .7-1.3 .7,.3 .8,2.6 2.5,14.3 1.4,5.6 1.3,2.9 .7,.3 .5-.5 1.5-4.6 5.7-26.7 1.4-4.1 .6-1.1 .7-.4 1,.7 1,1.9 2.5,8.1 1.9,8.2 3,16.8 1.3,5.4 2.4,5.8 1.2,1.7 1.1,1 2.9,1 3.7,.4 64.2,0 0,0Z" fill="#7f30d4" fill-opacity="0.55" stroke="#6825b4" stroke-width="2.5" stroke-linejoin="round"/>
</g>
<line x1="1128.50" y1="357.06" x2="1128.50" y2="415.32" stroke="#000" stroke-width="3"/>
<line x1="1127.00" y1="413.82" x2="1257.50" y2="413.82" stroke="#000" stroke-width="3"/>
<line x1="1120.50" y1="411.24" x2="1128.50" y2="411.24" stroke="#333333" stroke-width="3"/>
<text x="1112.70" y="421.32" font-size="28" text-anchor="end" fill="#4d4d4d">0.0</text>
<line x1="1120.50" y1="385.44" x2="1128.50" y2="385.44" stroke="#333333" stroke-width="3"/>
<text x="1112.70" y="395.52" font-size="28" text-anchor="end" fill="#4d4d4d">0.5</text>
<line x1="1120.50" y1="359.64" x2="1128.50" y2="359.64" stroke="#333333" stroke-width="3"/>
<text x="1112.70" y="369.72" font-size="28" text-anchor="end" fill="#4d4d4d">1.0</text>
<clipPath id="dcA20t"><rect x="1088.50" y="413.82" width="187.00" height="60"/></clipPath>
<g clip-path="url(#dcA20t)">
<line x1="1134.36" y1="413.82" x2="1134.36" y2="421.82" stroke="#333333" stroke-width="3"/>
<text x="1134.36" y="450.40" font-size="28" text-anchor="middle" fill="#4d4d4d">0.2</text>
<line x1="1193.00" y1="413.82" x2="1193.00" y2="421.82" stroke="#333333" stroke-width="3"/>
<text x="1193.00" y="450.40" font-size="28" text-anchor="middle" fill="#4d4d4d">0.6</text>
<line x1="1251.64" y1="413.82" x2="1251.64" y2="421.82" stroke="#333333" stroke-width="3"/>
<text x="1251.64" y="450.40" font-size="28" text-anchor="middle" fill="#4d4d4d">1.0</text>
</g>
<clipPath id="dcA21"><rect x="1347.00" y="354.06" width="129.00" height="59.76"/></clipPath>
<g clip-path="url(#dcA21)">
<path d="M1352.9,411.2l0,0 11.9,0 3.5-.3 3.5-1.3 2.7-2.3 1.2-2.4 1-3.4 4-20.3 3.4-13.4 2-5.8 .8-1.3 .9-.5 1,.5 1.1,1.7 2.4,6.3 1.5,7 4.5,27.1 1.5,5.5 1.5,2.3 1.4,.4 2.3,.2 65.1,0 0,0Z" fill="#7f8c8d" fill-opacity="0.45" stroke="#7e8584" stroke-width="2.5" stroke-linejoin="round"/>
<path d="M1352.9,411.2l0,0 8.3-.2 7.4-.7 2.5-.5 1.4-1 1.5-3 1.8-5.9 3-11.5 3.5-15.6 1.5-5.1 1.4-2.8 1.8-2.5 1.9-1.6 1.6-.6 1,.2 1,.8 2.2,3 3.4,6.6 5.5,13.9 3.2,5.2 2.5,2.5 2,.8 3.2,.6 10.7,.1 2.3,.4 2.9,1.4 13.6,9.4 4,2.1 5.2,1.7 5,1.2 11.7,1.1 0,0Z" fill="#7f30d4" fill-opacity="0.55" stroke="#6825b4" stroke-width="2.5" stroke-linejoin="round"/>
</g>
<line x1="1347.00" y1="357.06" x2="1347.00" y2="415.32" stroke="#000" stroke-width="3"/>
<line x1="1345.50" y1="413.82" x2="1476.00" y2="413.82" stroke="#000" stroke-width="3"/>
<line x1="1339.00" y1="411.24" x2="1347.00" y2="411.24" stroke="#333333" stroke-width="3"/>
<text x="1331.20" y="421.32" font-size="28" text-anchor="end" fill="#4d4d4d">0.0</text>
<line x1="1339.00" y1="385.44" x2="1347.00" y2="385.44" stroke="#333333" stroke-width="3"/>
<text x="1331.20" y="395.52" font-size="28" text-anchor="end" fill="#4d4d4d">0.5</text>
<line x1="1339.00" y1="359.64" x2="1347.00" y2="359.64" stroke="#333333" stroke-width="3"/>
<text x="1331.20" y="369.72" font-size="28" text-anchor="end" fill="#4d4d4d">1.0</text>
<clipPath id="dcA21t"><rect x="1307.00" y="413.82" width="187.00" height="60"/></clipPath>
<g clip-path="url(#dcA21t)">
<line x1="1352.86" y1="413.82" x2="1352.86" y2="421.82" stroke="#333333" stroke-width="3"/>
<text x="1352.86" y="450.40" font-size="28" text-anchor="middle" fill="#4d4d4d">0.0</text>
<line x1="1411.50" y1="413.82" x2="1411.50" y2="421.82" stroke="#333333" stroke-width="3"/>
<text x="1411.50" y="450.40" font-size="28" text-anchor="middle" fill="#4d4d4d">0.1</text>
<line x1="1470.14" y1="413.82" x2="1470.14" y2="421.82" stroke="#333333" stroke-width="3"/>
<text x="1470.14" y="450.40" font-size="28" text-anchor="middle" fill="#4d4d4d">0.2</text>
</g>
<clipPath id="dcA22"><rect x="1565.50" y="354.06" width="129.00" height="59.76"/></clipPath>
<g clip-path="url(#dcA22)">
<path d="M1571.4,411.2l0,0 82.7,0 4-.5 1.2-1 1-1.8 2.2-7.3 1.3-8.1 2.4-19.5 1.1-6.3 1.7-4.8 .8-1.2 1.1-.5 3.5,2 2.5-.9 .8,.1 .9,.9 .8,1.9 1.9,8.6 2.8,24.1 1.3,8.7 1.4,4.4 .8,.9 1,.3 0,0Z" fill="#7f8c8d" fill-opacity="0.45" stroke="#7e8584" stroke-width="2.5" stroke-linejoin="round"/>
<path d="M1571.4,411.2l0,0 31.7-.6 3.7-.4 3.5-.7 5.9-2.2 5.1-2.6 2.5-2.1 6.1-6.6 3-2.2 9.5-3.5 8.4-1.6 3.3-.1 2.8,.3 6.9,2.5 2.8,2.1 6.1,7.5 1.8,.9 2.2-.3 1-.5 .8-1 1.2-3.9 3.5-27.1 1.7-8.1 .6-.8 .7,1.2 2,10.6 0,39.2Z" fill="#7f30d4" fill-opacity="0.55" stroke="#6825b4" stroke-width="2.5" stroke-linejoin="round"/>
</g>
<line x1="1565.50" y1="357.06" x2="1565.50" y2="415.32" stroke="#000" stroke-width="3"/>
<line x1="1564.00" y1="413.82" x2="1694.50" y2="413.82" stroke="#000" stroke-width="3"/>
<line x1="1557.50" y1="411.24" x2="1565.50" y2="411.24" stroke="#333333" stroke-width="3"/>
<text x="1549.70" y="421.32" font-size="28" text-anchor="end" fill="#4d4d4d">0.0</text>
<line x1="1557.50" y1="385.44" x2="1565.50" y2="385.44" stroke="#333333" stroke-width="3"/>
<text x="1549.70" y="395.52" font-size="28" text-anchor="end" fill="#4d4d4d">0.5</text>
<line x1="1557.50" y1="359.64" x2="1565.50" y2="359.64" stroke="#333333" stroke-width="3"/>
<text x="1549.70" y="369.72" font-size="28" text-anchor="end" fill="#4d4d4d">1.0</text>
<clipPath id="dcA22t"><rect x="1525.50" y="413.82" width="187.00" height="60"/></clipPath>
<g clip-path="url(#dcA22t)">
<line x1="1571.36" y1="413.82" x2="1571.36" y2="421.82" stroke="#333333" stroke-width="3"/>
<text x="1571.36" y="450.40" font-size="28" text-anchor="middle" fill="#4d4d4d">0.2</text>
<line x1="1630.00" y1="413.82" x2="1630.00" y2="421.82" stroke="#333333" stroke-width="3"/>
<text x="1630.00" y="450.40" font-size="28" text-anchor="middle" fill="#4d4d4d">0.6</text>
<line x1="1688.64" y1="413.82" x2="1688.64" y2="421.82" stroke="#333333" stroke-width="3"/>
<text x="1688.64" y="450.40" font-size="28" text-anchor="middle" fill="#4d4d4d">1.0</text>
</g>
<clipPath id="dcA23"><rect x="1784.00" y="354.06" width="129.00" height="59.76"/></clipPath>
<g clip-path="url(#dcA23)">
<path d="M1789.9,411.2l0,0 9.2-.1 1.3-.7 1.2-1.5 1.7-3.9 2-6.2 5.7-23 2.2-7.5 3-6.1 1.5-1.8 1.4-.7 1,.4 1,1.1 2.5,5 8.4,22.9 4,9.5 4.4,6.8 2,2.2 1.8,1.4 3.9,1.7 3.3,.5 55.7,0 0,0Z" fill="#7f8c8d" fill-opacity="0.45" stroke="#7e8584" stroke-width="2.5" stroke-linejoin="round"/>
<path d="M1789.9,411.2l0-20.2 1.3-23.8 .5-5.2 .7-2.3 1,3.7 3.5,25.4 1.9,8.1 1.5,4.1 1.6,3 2.2,2.2 2.9,1.7 2.5,.8 5.2,.7 14.1,1 37.4,.6 40.9,.2 0,0Z" fill="#7f30d4" fill-opacity="0.55" stroke="#6825b4" stroke-width="2.5" stroke-linejoin="round"/>
</g>
<line x1="1784.00" y1="357.06" x2="1784.00" y2="415.32" stroke="#000" stroke-width="3"/>
<line x1="1782.50" y1="413.82" x2="1913.00" y2="413.82" stroke="#000" stroke-width="3"/>
<line x1="1776.00" y1="411.24" x2="1784.00" y2="411.24" stroke="#333333" stroke-width="3"/>
<text x="1768.20" y="421.32" font-size="28" text-anchor="end" fill="#4d4d4d">0.0</text>
<line x1="1776.00" y1="385.44" x2="1784.00" y2="385.44" stroke="#333333" stroke-width="3"/>
<text x="1768.20" y="395.52" font-size="28" text-anchor="end" fill="#4d4d4d">0.5</text>
<line x1="1776.00" y1="359.64" x2="1784.00" y2="359.64" stroke="#333333" stroke-width="3"/>
<text x="1768.20" y="369.72" font-size="28" text-anchor="end" fill="#4d4d4d">1.0</text>
<clipPath id="dcA23t"><rect x="1744.00" y="413.82" width="187.00" height="60"/></clipPath>
<g clip-path="url(#dcA23t)">
<line x1="1789.86" y1="413.82" x2="1789.86" y2="421.82" stroke="#333333" stroke-width="3"/>
<text x="1789.86" y="450.40" font-size="28" text-anchor="middle" fill="#4d4d4d">0.0</text>
<line x1="1868.74" y1="413.82" x2="1868.74" y2="421.82" stroke="#333333" stroke-width="3"/>
<text x="1868.74" y="450.40" font-size="28" text-anchor="middle" fill="#4d4d4d">0.1</text>
</g>
<clipPath id="dcA24"><rect x="2002.50" y="354.06" width="129.00" height="59.76"/></clipPath>
<g clip-path="url(#dcA24)">
<path d="M2008.4,411.2l0-5.1 2.5-19.7 .8-4.4 .9-2.5 1-1.5 1.6-1.4 6.4-3.9 2.5-.7 1.2,.3 1.2,1.1 2.7,4.6 5.2,17.4 3.2,8.3 3,4.8 1.3,1.3 1.4,.7 2.3,.6 3,.1 77,0 0,0Z" fill="#7f8c8d" fill-opacity="0.45" stroke="#7e8584" stroke-width="2.5" stroke-linejoin="round"/>
<path d="M2008.4,411.2l0-13.6 1.8-30.1 .7-6 .7-1.8 .6,1.1 .9,3.5 5.5,29.6 1.5,5 .8,1.4 .9,.7 4.3,.2 2.7-.5 8.1-4.9 6-3 3.9-1.4 8.7-1.8 6.4-.1 10.6,2 8,2.3 7.9,3 10.9,6.2 8.2,3.5 6.6,2.1 8.2,1.3 3.3,1.1 0,.2Z" fill="#7f30d4" fill-opacity="0.55" stroke="#6825b4" stroke-width="2.5" stroke-linejoin="round"/>
</g>
<line x1="2002.50" y1="357.06" x2="2002.50" y2="415.32" stroke="#000" stroke-width="3"/>
<line x1="2001.00" y1="413.82" x2="2131.50" y2="413.82" stroke="#000" stroke-width="3"/>
<line x1="1994.50" y1="411.24" x2="2002.50" y2="411.24" stroke="#333333" stroke-width="3"/>
<text x="1986.70" y="421.32" font-size="28" text-anchor="end" fill="#4d4d4d">0.0</text>
<line x1="1994.50" y1="385.44" x2="2002.50" y2="385.44" stroke="#333333" stroke-width="3"/>
<text x="1986.70" y="395.52" font-size="28" text-anchor="end" fill="#4d4d4d">0.5</text>
<line x1="1994.50" y1="359.64" x2="2002.50" y2="359.64" stroke="#333333" stroke-width="3"/>
<text x="1986.70" y="369.72" font-size="28" text-anchor="end" fill="#4d4d4d">1.0</text>
<clipPath id="dcA24t"><rect x="1962.50" y="413.82" width="187.00" height="60"/></clipPath>
<g clip-path="url(#dcA24t)">
<line x1="2008.36" y1="413.82" x2="2008.36" y2="421.82" stroke="#333333" stroke-width="3"/>
<text x="2008.36" y="450.40" font-size="28" text-anchor="middle" fill="#4d4d4d">0.00</text>
<line x1="2067.00" y1="413.82" x2="2067.00" y2="421.82" stroke="#333333" stroke-width="3"/>
<text x="2067.00" y="450.40" font-size="28" text-anchor="middle" fill="#4d4d4d">0.25</text>
<line x1="2125.64" y1="413.82" x2="2125.64" y2="421.82" stroke="#333333" stroke-width="3"/>
<text x="2125.64" y="450.40" font-size="28" text-anchor="middle" fill="#4d4d4d">0.50</text>
</g>
<text x="993.50" y="546.01" font-size="17.5" text-anchor="start" fill="#000" font-weight="bold">2155</text>
<clipPath id="dcA30"><rect x="1128.50" y="486.73" width="129.00" height="59.76"/></clipPath>
<g clip-path="url(#dcA30)">
<path d="M1134.4,543.9l0,0 17.9-.2 1.4-.3 .8-.9 1-3.3 .8-5.6 2.9-35.4 .7-4.8 .5-.9 .5,1.2 .6,4.3 4.2,36.8 1.5,5.9 1.1,1.8 1,.8 2.5,.4 79.8,.2 0,0Z" fill="#7f8c8d" fill-opacity="0.45" stroke="#7e8584" stroke-width="2.5" stroke-linejoin="round"/>
<path d="M1134.4,543.9l0-.6 1.5-1.8 1.3-4 3.4-21.5 .6-2.9 .5-.8 .5,.3 .7,2 3.4,15.9 .8,1.4 .5-.1 .5-.8 2.4-9.2 4.7-25.5 1-3.1 .8-.8 .7,.6 .7,1.3 1.5,5.6 3.7,23.9 2.3,11.5 1.8,5.1 1,1.4 1.6,1.1 1.6,.7 2.2,.1 77.5,0 0,.2Z" fill="#7f30d4" fill-opacity="0.55" stroke="#6825b4" stroke-width="2.5" stroke-linejoin="round"/>
</g>
<line x1="1128.50" y1="489.73" x2="1128.50" y2="547.99" stroke="#000" stroke-width="3"/>
<line x1="1127.00" y1="546.49" x2="1257.50" y2="546.49" stroke="#000" stroke-width="3"/>
<line x1="1120.50" y1="543.91" x2="1128.50" y2="543.91" stroke="#333333" stroke-width="3"/>
<text x="1112.70" y="553.99" font-size="28" text-anchor="end" fill="#4d4d4d">0.0</text>
<line x1="1120.50" y1="518.11" x2="1128.50" y2="518.11" stroke="#333333" stroke-width="3"/>
<text x="1112.70" y="528.19" font-size="28" text-anchor="end" fill="#4d4d4d">0.5</text>
<line x1="1120.50" y1="492.31" x2="1128.50" y2="492.31" stroke="#333333" stroke-width="3"/>
<text x="1112.70" y="502.39" font-size="28" text-anchor="end" fill="#4d4d4d">1.0</text>
<clipPath id="dcA30t"><rect x="1088.50" y="546.49" width="187.00" height="60"/></clipPath>
<g clip-path="url(#dcA30t)">
<line x1="1134.36" y1="546.49" x2="1134.36" y2="554.49" stroke="#333333" stroke-width="3"/>
<text x="1134.36" y="583.07" font-size="28" text-anchor="middle" fill="#4d4d4d">0.2</text>
<line x1="1193.00" y1="546.49" x2="1193.00" y2="554.49" stroke="#333333" stroke-width="3"/>
<text x="1193.00" y="583.07" font-size="28" text-anchor="middle" fill="#4d4d4d">0.6</text>
<line x1="1251.64" y1="546.49" x2="1251.64" y2="554.49" stroke="#333333" stroke-width="3"/>
<text x="1251.64" y="583.07" font-size="28" text-anchor="middle" fill="#4d4d4d">1.0</text>
</g>
<clipPath id="dcA31"><rect x="1347.00" y="486.73" width="129.00" height="59.76"/></clipPath>
<g clip-path="url(#dcA31)">
<path d="M1352.9,543.9l0,0 17.6-.3 2.3-.9 2-2.2 1.6-3 1.3-4.9 6.4-34.6 1.1-3.6 1.1-1 .6,.5 .7,1.4 1.8,6.7 6.4,32.5 2.2,5.9 1.2,2 1,.9 2.5,.4 67.4,.2 0,0Z" fill="#7f8c8d" fill-opacity="0.45" stroke="#7e8584" stroke-width="2.5" stroke-linejoin="round"/>
<path d="M1352.9,543.9l0-.2 6.7-.2 6-.8 4.7-1.1 1.7-1.4 1.8-4.8 4-18.4 4.5-15.9 2.5-6.4 1.2-1.7 1.2-.6 1.2,.5 1.3,1.5 3.5,6.5 1.9,4.7 3.3,11.2 1.5,3.8 1.9,2.5 2.8,2.3 1.8,.9 1.9,.3 1.5-.3 4.5-1.7 1.7,.1 1.8,.6 6.1,4 5.8,6.4 2.2,1.9 4.9,2.7 4.6,1.8 3.4,.6 6.4,.5 18.7,.6 0,.1Z" fill="#7f30d4" fill-opacity="0.55" stroke="#6825b4" stroke-width="2.5" stroke-linejoin="round"/>
</g>
<line x1="1347.00" y1="489.73" x2="1347.00" y2="547.99" stroke="#000" stroke-width="3"/>
<line x1="1345.50" y1="546.49" x2="1476.00" y2="546.49" stroke="#000" stroke-width="3"/>
<line x1="1339.00" y1="543.91" x2="1347.00" y2="543.91" stroke="#333333" stroke-width="3"/>
<text x="1331.20" y="553.99" font-size="28" text-anchor="end" fill="#4d4d4d">0.0</text>
<line x1="1339.00" y1="518.11" x2="1347.00" y2="518.11" stroke="#333333" stroke-width="3"/>
<text x="1331.20" y="528.19" font-size="28" text-anchor="end" fill="#4d4d4d">0.5</text>
<line x1="1339.00" y1="492.31" x2="1347.00" y2="492.31" stroke="#333333" stroke-width="3"/>
<text x="1331.20" y="502.39" font-size="28" text-anchor="end" fill="#4d4d4d">1.0</text>
<clipPath id="dcA31t"><rect x="1307.00" y="546.49" width="187.00" height="60"/></clipPath>
<g clip-path="url(#dcA31t)">
<line x1="1352.86" y1="546.49" x2="1352.86" y2="554.49" stroke="#333333" stroke-width="3"/>
<text x="1352.86" y="583.07" font-size="28" text-anchor="middle" fill="#4d4d4d">0.0</text>
<line x1="1411.50" y1="546.49" x2="1411.50" y2="554.49" stroke="#333333" stroke-width="3"/>
<text x="1411.50" y="583.07" font-size="28" text-anchor="middle" fill="#4d4d4d">0.1</text>
<line x1="1470.14" y1="546.49" x2="1470.14" y2="554.49" stroke="#333333" stroke-width="3"/>
<text x="1470.14" y="583.07" font-size="28" text-anchor="middle" fill="#4d4d4d">0.2</text>
</g>
<clipPath id="dcA32"><rect x="1565.50" y="486.73" width="129.00" height="59.76"/></clipPath>
<g clip-path="url(#dcA32)">
<path d="M1571.4,543.9l0,0 71.5-.2 7.9-1.3 7.6-2.9 4.2-2.3 2.9-2.3 2.8-3.4 2.2-3.8 2-6.6 4.7-23.8 1.1-3.7 1-1.1 .5,.3 .7,1.3 1.3,5.5 4.1,31.3 1.1,5.8 1.2,3.1 0,4.1Z" fill="#7f8c8d" fill-opacity="0.45" stroke="#7e8584" stroke-width="2.5" stroke-linejoin="round"/>
<path d="M1571.4,543.9l0-.2 15.3-.2 15.1-.8 12.4-1.1 4.6-1.2 5.9-2.9 6.2-4.3 2.6-2.9 6.4-8.8 3.3-3.2 6.7-4.7 2.5-1.2 2.2-.4 1.5,.1 1.5,.8 3.2,3.3 4.8,7.3 5.2,11.6 1.4,1.7 1.3,.2 1.3-.9 1.5-2.2 1.7-3.6 1.2-3.7 1.5-7.5 3.2-21.4 1.1-4.8 .4-.4 .3,.1 .7,2.1 1.8,12.8 0,36.4Z" fill="#7f30d4" fill-opacity="0.55" stroke="#6825b4" stroke-width="2.5" stroke-linejoin="round"/>
</g>
<line x1="1565.50" y1="489.73" x2="1565.50" y2="547.99" stroke="#000" stroke-width="3"/>
<line x1="1564.00" y1="546.49" x2="1694.50" y2="546.49" stroke="#000" stroke-width="3"/>
<line x1="1557.50" y1="543.91" x2="1565.50" y2="543.91" stroke="#333333" stroke-width="3"/>
<text x="1549.70" y="553.99" font-size="28" text-anchor="end" fill="#4d4d4d">0.0</text>
<line x1="1557.50" y1="518.11" x2="1565.50" y2="518.11" stroke="#333333" stroke-width="3"/>
<text x="1549.70" y="528.19" font-size="28" text-anchor="end" fill="#4d4d4d">0.5</text>
<line x1="1557.50" y1="492.31" x2="1565.50" y2="492.31" stroke="#333333" stroke-width="3"/>
<text x="1549.70" y="502.39" font-size="28" text-anchor="end" fill="#4d4d4d">1.0</text>
<clipPath id="dcA32t"><rect x="1525.50" y="546.49" width="187.00" height="60"/></clipPath>
<g clip-path="url(#dcA32t)">
<line x1="1571.36" y1="546.49" x2="1571.36" y2="554.49" stroke="#333333" stroke-width="3"/>
<text x="1571.36" y="583.07" font-size="28" text-anchor="middle" fill="#4d4d4d">0.2</text>
<line x1="1630.00" y1="546.49" x2="1630.00" y2="554.49" stroke="#333333" stroke-width="3"/>
<text x="1630.00" y="583.07" font-size="28" text-anchor="middle" fill="#4d4d4d">0.6</text>
<line x1="1688.64" y1="546.49" x2="1688.64" y2="554.49" stroke="#333333" stroke-width="3"/>
<text x="1688.64" y="583.07" font-size="28" text-anchor="middle" fill="#4d4d4d">1.0</text>
</g>
<clipPath id="dcA33"><rect x="1784.00" y="486.73" width="129.00" height="59.76"/></clipPath>
<g clip-path="url(#dcA33)">
<path d="M1789.9,543.9l0,0 17.6-.1 1.7-.5 1.1-1.1 1.7-3.5 2-6.4 4.7-20.8 3.5-13 1.9-4.7 .8-1.1 1-.4 1.2,.6 1.2,1.4 2.3,4.9 5.6,21.8 4,12.8 2.8,5.2 2.1,2.5 1.6,1.5 1.5,.6 2.1,.2 56.8,.1 0,0Z" fill="#7f8c8d" fill-opacity="0.45" stroke="#7e8584" stroke-width="2.5" stroke-linejoin="round"/>
<path d="M1789.9,543.9l0-14.5 2-29.3 .8-5.9 .5-1.5 .5-.4 1,1.6 1.2,4.1 4.7,23.5 2.7,9.3 1.7,4.1 1.6,2.7 2.1,1.8 3,1.7 4.2,1.2 10.7,.5 80.5,1.1 0,0Z" fill="#7f30d4" fill-opacity="0.55" stroke="#6825b4" stroke-width="2.5" stroke-linejoin="round"/>
</g>
<line x1="1784.00" y1="489.73" x2="1784.00" y2="547.99" stroke="#000" stroke-width="3"/>
<line x1="1782.50" y1="546.49" x2="1913.00" y2="546.49" stroke="#000" stroke-width="3"/>
<line x1="1776.00" y1="543.91" x2="1784.00" y2="543.91" stroke="#333333" stroke-width="3"/>
<text x="1768.20" y="553.99" font-size="28" text-anchor="end" fill="#4d4d4d">0.0</text>
<line x1="1776.00" y1="518.11" x2="1784.00" y2="518.11" stroke="#333333" stroke-width="3"/>
<text x="1768.20" y="528.19" font-size="28" text-anchor="end" fill="#4d4d4d">0.5</text>
<line x1="1776.00" y1="492.31" x2="1784.00" y2="492.31" stroke="#333333" stroke-width="3"/>
<text x="1768.20" y="502.39" font-size="28" text-anchor="end" fill="#4d4d4d">1.0</text>
<clipPath id="dcA33t"><rect x="1744.00" y="546.49" width="187.00" height="60"/></clipPath>
<g clip-path="url(#dcA33t)">
<line x1="1789.86" y1="546.49" x2="1789.86" y2="554.49" stroke="#333333" stroke-width="3"/>
<text x="1789.86" y="583.07" font-size="28" text-anchor="middle" fill="#4d4d4d">0.0</text>
<line x1="1868.74" y1="546.49" x2="1868.74" y2="554.49" stroke="#333333" stroke-width="3"/>
<text x="1868.74" y="583.07" font-size="28" text-anchor="middle" fill="#4d4d4d">0.1</text>
</g>
<clipPath id="dcA34"><rect x="2002.50" y="486.73" width="129.00" height="59.76"/></clipPath>
<g clip-path="url(#dcA34)">
<path d="M2008.4,543.9l0-4.6 3.2-22.6 1-3.7 1-1.1 .8,.7 .8,1.4 4.7,10.9 2.2,3.1 2.5,2.7 3.2,1.9 6.7,1.6 2.6,1 9.7,7.2 2.3,1.2 3.2,.2 73.3,.1 0,0Z" fill="#7f8c8d" fill-opacity="0.45" stroke="#7e8584" stroke-width="2.5" stroke-linejoin="round"/>
<path d="M2008.4,543.9l0-12.1 2.1-33.1 .7-5.1 .7-1.3 1.2,3.7 4,23.2 1.8,8.8 2,5.3 1.4,1.9 1.5,1.1 1.5,.3 2-.4 3-1.4 2.4-1.5 13.1-14.6 3.8-3.4 3.2-1.2 6.9-.4 4.4,1.1 6.5,3 10.4,8 7.1,4.9 5.3,3.4 4.2,2.3 6.4,2.5 6.4,1.9 5,1.1 7.2,1 3,.8 0,.2Z" fill="#7f30d4" fill-opacity="0.55" stroke="#6825b4" stroke-width="2.5" stroke-linejoin="round"/>
</g>
<line x1="2002.50" y1="489.73" x2="2002.50" y2="547.99" stroke="#000" stroke-width="3"/>
<line x1="2001.00" y1="546.49" x2="2131.50" y2="546.49" stroke="#000" stroke-width="3"/>
<line x1="1994.50" y1="543.91" x2="2002.50" y2="543.91" stroke="#333333" stroke-width="3"/>
<text x="1986.70" y="553.99" font-size="28" text-anchor="end" fill="#4d4d4d">0.0</text>
<line x1="1994.50" y1="518.11" x2="2002.50" y2="518.11" stroke="#333333" stroke-width="3"/>
<text x="1986.70" y="528.19" font-size="28" text-anchor="end" fill="#4d4d4d">0.5</text>
<line x1="1994.50" y1="492.31" x2="2002.50" y2="492.31" stroke="#333333" stroke-width="3"/>
<text x="1986.70" y="502.39" font-size="28" text-anchor="end" fill="#4d4d4d">1.0</text>
<clipPath id="dcA34t"><rect x="1962.50" y="546.49" width="187.00" height="60"/></clipPath>
<g clip-path="url(#dcA34t)">
<line x1="2008.36" y1="546.49" x2="2008.36" y2="554.49" stroke="#333333" stroke-width="3"/>
<text x="2008.36" y="583.07" font-size="28" text-anchor="middle" fill="#4d4d4d">0.00</text>
<line x1="2067.00" y1="546.49" x2="2067.00" y2="554.49" stroke="#333333" stroke-width="3"/>
<text x="2067.00" y="583.07" font-size="28" text-anchor="middle" fill="#4d4d4d">0.25</text>
<line x1="2125.64" y1="546.49" x2="2125.64" y2="554.49" stroke="#333333" stroke-width="3"/>
<text x="2125.64" y="583.07" font-size="28" text-anchor="middle" fill="#4d4d4d">0.50</text>
</g>
<text x="993.50" y="678.68" font-size="17.5" text-anchor="start" fill="#000" font-weight="bold">2156</text>
<clipPath id="dcA40"><rect x="1128.50" y="619.40" width="129.00" height="59.76"/></clipPath>
<g clip-path="url(#dcA40)">
<path d="M1134.4,676.6l0,0 28.7-.1 1.6-.2 1-.7 1.2-2.8 1.2-5.8 4.2-36.4 .8-4.5 .7-1.1 1,2.1 1.2,6.6 4.2,34.5 1.3,5.2 .8,1.7 .9,.9 2.3,.5 66.1,.1 0,0Z" fill="#7f8c8d" fill-opacity="0.45" stroke="#7e8584" stroke-width="2.5" stroke-linejoin="round"/>
<path d="M1134.4,676.6l0-.1 2.5-.5 2.2-1.1 1.1-1.3 .9-2 1.5-7 4.2-26.8 .8-3.7 .9-1.5 .6,.8 .7,2.5 3.2,19.4 1.8,9 1.4,3.5 .5,.3 .6-.4 1.1-2.3 1.3-5 6.2-29.1 1.5-4.6 .7-1.1 .6-.4 .7,.5 .7,1.3 1.5,5.3 4.9,25.5 1.8,7.4 2.5,6.5 1.4,1.9 1.5,1.2 2.7,1.3 2.8,.4 62.4,0 0,.1Z" fill="#7f30d4" fill-opacity="0.55" stroke="#6825b4" stroke-width="2.5" stroke-linejoin="round"/>
</g>
<line x1="1128.50" y1="622.40" x2="1128.50" y2="680.66" stroke="#000" stroke-width="3"/>
<line x1="1127.00" y1="679.16" x2="1257.50" y2="679.16" stroke="#000" stroke-width="3"/>
<line x1="1120.50" y1="676.58" x2="1128.50" y2="676.58" stroke="#333333" stroke-width="3"/>
<text x="1112.70" y="686.66" font-size="28" text-anchor="end" fill="#4d4d4d">0.0</text>
<line x1="1120.50" y1="650.78" x2="1128.50" y2="650.78" stroke="#333333" stroke-width="3"/>
<text x="1112.70" y="660.86" font-size="28" text-anchor="end" fill="#4d4d4d">0.5</text>
<line x1="1120.50" y1="624.98" x2="1128.50" y2="624.98" stroke="#333333" stroke-width="3"/>
<text x="1112.70" y="635.06" font-size="28" text-anchor="end" fill="#4d4d4d">1.0</text>
<clipPath id="dcA40t"><rect x="1088.50" y="679.16" width="187.00" height="60"/></clipPath>
<g clip-path="url(#dcA40t)">
<line x1="1134.36" y1="679.16" x2="1134.36" y2="687.16" stroke="#333333" stroke-width="3"/>
<text x="1134.36" y="715.74" font-size="28" text-anchor="middle" fill="#4d4d4d">0.2</text>
<line x1="1193.00" y1="679.16" x2="1193.00" y2="687.16" stroke="#333333" stroke-width="3"/>
<text x="1193.00" y="715.74" font-size="28" text-anchor="middle" fill="#4d4d4d">0.6</text>
<line x1="1251.64" y1="679.16" x2="1251.64" y2="687.16" stroke="#333333" stroke-width="3"/>
<text x="1251.64" y="715.74" font-size="28" text-anchor="middle" fill="#4d4d4d">1.0</text>
</g>
<clipPath id="dcA41"><rect x="1347.00" y="619.40" width="129.00" height="59.76"/></clipPath>
<g clip-path="url(#dcA41)">
<path d="M1353.3,676.6l0-.1 1.8-.4 1.2-1.1 1.1-2.4 1.1-3.3 1.6-9 2.7-21.8 .7-3.4 .6-1 .7,1.5 .7,3.5 4.2,29.5 1.6,5.3 1,1.5 1.2,.8 2.5,.3 94.1,.1 0,0Z" fill="#7f8c8d" fill-opacity="0.45" stroke="#7e8584" stroke-width="2.5" stroke-linejoin="round"/>
<path d="M1352.9,676.6l0-.2 2.1-.4 1.5-.9 1.1-1.6 1-3.3 1.6-10.5 3-28.9 .9-4.5 .8-1.3 .7,1 .7,2.3 4,19.9 2.8,7.7 2.2,2.7 3.7,1.5 1.3,1 7.1,9.5 2,2.1 1.8,1.2 4.9,1.6 4.5,.6 69.3,.4 0,.1Z" fill="#7f30d4" fill-opacity="0.55" stroke="#6825b4" stroke-width="2.5" stroke-linejoin="round"/>
</g>
<line x1="1347.00" y1="622.40" x2="1347.00" y2="680.66" stroke="#000" stroke-width="3"/>
<line x1="1345.50" y1="679.16" x2="1476.00" y2="679.16" stroke="#000" stroke-width="3"/>
<line x1="1339.00" y1="676.58" x2="1347.00" y2="676.58" stroke="#333333" stroke-width="3"/>
<text x="1331.20" y="686.66" font-size="28" text-anchor="end" fill="#4d4d4d">0.0</text>
<line x1="1339.00" y1="650.78" x2="1347.00" y2="650.78" stroke="#333333" stroke-width="3"/>
<text x="1331.20" y="660.86" font-size="28" text-anchor="end" fill="#4d4d4d">0.5</text>
<line x1="1339.00" y1="624.98" x2="1347.00" y2="624.98" stroke="#333333" stroke-width="3"/>
<text x="1331.20" y="635.06" font-size="28" text-anchor="end" fill="#4d4d4d">1.0</text>
<clipPath id="dcA41t"><rect x="1307.00" y="679.16" width="187.00" height="60"/></clipPath>
<g clip-path="url(#dcA41t)">
<line x1="1352.86" y1="679.16" x2="1352.86" y2="687.16" stroke="#333333" stroke-width="3"/>
<text x="1352.86" y="715.74" font-size="28" text-anchor="middle" fill="#4d4d4d">0.0</text>
<line x1="1411.50" y1="679.16" x2="1411.50" y2="687.16" stroke="#333333" stroke-width="3"/>
<text x="1411.50" y="715.74" font-size="28" text-anchor="middle" fill="#4d4d4d">0.1</text>
<line x1="1470.14" y1="679.16" x2="1470.14" y2="687.16" stroke="#333333" stroke-width="3"/>
<text x="1470.14" y="715.74" font-size="28" text-anchor="middle" fill="#4d4d4d">0.2</text>
</g>
<clipPath id="dcA42"><rect x="1565.50" y="619.40" width="129.00" height="59.76"/></clipPath>
<g clip-path="url(#dcA42)">
<path d="M1571.4,676.6l0,0 64.2-.1 2.2-.1 1.3-.5 1.1-1 .8-1.6 1.5-5.2 5-35 1.4-6.2 .6-1.6 .5-.3 .6,.3 .6,1.6 1.2,4.9 1.5,9.8 3,25.1 1.2,5.4 1.5,3.3 1,.8 1.4,.3 26.6,.1 0,0Z" fill="#7f8c8d" fill-opacity="0.45" stroke="#7e8584" stroke-width="2.5" stroke-linejoin="round"/>
<path d="M1571.4,676.6l0-.4 2.8-2.3 3-4 15.7-33.4 5-7.8 1.5-1.6 1.5-.7 1.9,.1 2.3,1.3 3,2.7 3.5,3.9 3.1,4.8 7.8,15.2 5,7.2 4.2,5.1 2.5,2.4 2.7,1.9 4.8,2.6 3.9,1.4 5,.5 10.9-.7 2.5-1.1 2.6-2.9 3-5 2-4.8 1.6-5.8 4.3-20.9 2-6.2 1.5-2.4 .7-.1 .6,.6 1.6,3.6 4.3,19.8 0,27Z" fill="#7f30d4" fill-opacity="0.55" stroke="#6825b4" stroke-width="2.5" stroke-linejoin="round"/>
</g>
<line x1="1565.50" y1="622.40" x2="1565.50" y2="680.66" stroke="#000" stroke-width="3"/>
<line x1="1564.00" y1="679.16" x2="1694.50" y2="679.16" stroke="#000" stroke-width="3"/>
<line x1="1557.50" y1="676.58" x2="1565.50" y2="676.58" stroke="#333333" stroke-width="3"/>
<text x="1549.70" y="686.66" font-size="28" text-anchor="end" fill="#4d4d4d">0.0</text>
<line x1="1557.50" y1="650.78" x2="1565.50" y2="650.78" stroke="#333333" stroke-width="3"/>
<text x="1549.70" y="660.86" font-size="28" text-anchor="end" fill="#4d4d4d">0.5</text>
<line x1="1557.50" y1="624.98" x2="1565.50" y2="624.98" stroke="#333333" stroke-width="3"/>
<text x="1549.70" y="635.06" font-size="28" text-anchor="end" fill="#4d4d4d">1.0</text>
<clipPath id="dcA42t"><rect x="1525.50" y="679.16" width="187.00" height="60"/></clipPath>
<g clip-path="url(#dcA42t)">
<line x1="1571.36" y1="679.16" x2="1571.36" y2="687.16" stroke="#333333" stroke-width="3"/>
<text x="1571.36" y="715.74" font-size="28" text-anchor="middle" fill="#4d4d4d">0.2</text>
<line x1="1630.00" y1="679.16" x2="1630.00" y2="687.16" stroke="#333333" stroke-width="3"/>
<text x="1630.00" y="715.74" font-size="28" text-anchor="middle" fill="#4d4d4d">0.6</text>
<line x1="1688.64" y1="679.16" x2="1688.64" y2="687.16" stroke="#333333" stroke-width="3"/>
<text x="1688.64" y="715.74" font-size="28" text-anchor="middle" fill="#4d4d4d">1.0</text>
</g>
<clipPath id="dcA43"><rect x="1784.00" y="619.40" width="129.00" height="59.76"/></clipPath>
<g clip-path="url(#dcA43)">
<path d="M1789.9,676.6l0,0 38.6-.1 2-.2 1.1-.6 1.5-2.5 1.2-4.2 4-23.6 2.6-11.4 2.5-6.6 1.2-1.7 1.1-.7 .9,.4 1,1.4 2,5.7 1.8,8.3 4.7,26.2 1.7,5.6 2,3.2 1,.6 1.5,.1 44.8,.1 0,0Z" fill="#7f8c8d" fill-opacity="0.45" stroke="#7e8584" stroke-width="2.5" stroke-linejoin="round"/>
<path d="M1789.9,676.6l0-9.4 2.6-33.2 1.1-6.8 .5-1.7 .5-.5 .8,1.3 .8,3.3 3.9,24.7 2.3,10 1.4,3.7 1.3,2.4 2.2,2.3 2.5,1.7 2,.6 3.7,.5 13.1,.7 78.5,.4 0,0Z" fill="#7f30d4" fill-opacity="0.55" stroke="#6825b4" stroke-width="2.5" stroke-linejoin="round"/>
</g>
<line x1="1784.00" y1="622.40" x2="1784.00" y2="680.66" stroke="#000" stroke-width="3"/>
<line x1="1782.50" y1="679.16" x2="1913.00" y2="679.16" stroke="#000" stroke-width="3"/>
<line x1="1776.00" y1="676.58" x2="1784.00" y2="676.58" stroke="#333333" stroke-width="3"/>
<text x="1768.20" y="686.66" font-size="28" text-anchor="end" fill="#4d4d4d">0.0</text>
<line x1="1776.00" y1="650.78" x2="1784.00" y2="650.78" stroke="#333333" stroke-width="3"/>
<text x="1768.20" y="660.86" font-size="28" text-anchor="end" fill="#4d4d4d">0.5</text>
<line x1="1776.00" y1="624.98" x2="1784.00" y2="624.98" stroke="#333333" stroke-width="3"/>
<text x="1768.20" y="635.06" font-size="28" text-anchor="end" fill="#4d4d4d">1.0</text>
<clipPath id="dcA43t"><rect x="1744.00" y="679.16" width="187.00" height="60"/></clipPath>
<g clip-path="url(#dcA43t)">
<line x1="1789.86" y1="679.16" x2="1789.86" y2="687.16" stroke="#333333" stroke-width="3"/>
<text x="1789.86" y="715.74" font-size="28" text-anchor="middle" fill="#4d4d4d">0.00</text>
<line x1="1848.50" y1="679.16" x2="1848.50" y2="687.16" stroke="#333333" stroke-width="3"/>
<text x="1848.50" y="715.74" font-size="28" text-anchor="middle" fill="#4d4d4d">0.15</text>
<line x1="1907.14" y1="679.16" x2="1907.14" y2="687.16" stroke="#333333" stroke-width="3"/>
<text x="1907.14" y="715.74" font-size="28" text-anchor="middle" fill="#4d4d4d">0.30</text>
</g>
<clipPath id="dcA44"><rect x="2002.50" y="619.40" width="129.00" height="59.76"/></clipPath>
<g clip-path="url(#dcA44)">
<path d="M2008.4,676.6l0,0 28-.1 2.5-.5 2.2-1.3 2.8-3.2 2.7-4.9 4.2-9.9 5.5-15 4.7-10 1.7-2.7 1.9-2 2.1-1.6 1.7-.4 1.7,.5 1.7,1.3 5,6.4 2.9,5.4 11.5,25.3 2.6,3.9 3.3,3.6 4.4,3 5.5,1.6 4.9,.5 13.7,.1 0,0Z" fill="#7f8c8d" fill-opacity="0.45" stroke="#7e8584" stroke-width="2.5" stroke-linejoin="round"/>
<path d="M2008.4,676.6l0-10.9 2.5-32.5 1.2-6.3 .6-1.4 .9-.5 1,.8 1,1.9 8.5,20.6 5.6,9.9 2.5,3.4 2.5,2.5 4,3.1 3.9,2.1 4.5,1.6 6.9,1.6 15.9,2 18.2,1.1 37.5,1 0,0Z" fill="#7f30d4" fill-opacity="0.55" stroke="#6825b4" stroke-width="2.5" stroke-linejoin="round"/>
</g>
<line x1="2002.50" y1="622.40" x2="2002.50" y2="680.66" stroke="#000" stroke-width="3"/>
<line x1="2001.00" y1="679.16" x2="2131.50" y2="679.16" stroke="#000" stroke-width="3"/>
<line x1="1994.50" y1="676.58" x2="2002.50" y2="676.58" stroke="#333333" stroke-width="3"/>
<text x="1986.70" y="686.66" font-size="28" text-anchor="end" fill="#4d4d4d">0.0</text>
<line x1="1994.50" y1="650.78" x2="2002.50" y2="650.78" stroke="#333333" stroke-width="3"/>
<text x="1986.70" y="660.86" font-size="28" text-anchor="end" fill="#4d4d4d">0.5</text>
<line x1="1994.50" y1="624.98" x2="2002.50" y2="624.98" stroke="#333333" stroke-width="3"/>
<text x="1986.70" y="635.06" font-size="28" text-anchor="end" fill="#4d4d4d">1.0</text>
<clipPath id="dcA44t"><rect x="1962.50" y="679.16" width="187.00" height="60"/></clipPath>
<g clip-path="url(#dcA44t)">
<line x1="2008.36" y1="679.16" x2="2008.36" y2="687.16" stroke="#333333" stroke-width="3"/>
<text x="2008.36" y="715.74" font-size="28" text-anchor="middle" fill="#4d4d4d">0.0</text>
<line x1="2062.02" y1="679.16" x2="2062.02" y2="687.16" stroke="#333333" stroke-width="3"/>
<text x="2062.02" y="715.74" font-size="28" text-anchor="middle" fill="#4d4d4d">0.1</text>
<line x1="2115.67" y1="679.16" x2="2115.67" y2="687.16" stroke="#333333" stroke-width="3"/>
<text x="2115.67" y="715.74" font-size="28" text-anchor="middle" fill="#4d4d4d">0.2</text>
</g>
<text x="993.50" y="811.35" font-size="17.5" text-anchor="start" fill="#000" font-weight="bold">2160</text>
<clipPath id="dcA50"><rect x="1128.50" y="752.07" width="129.00" height="59.76"/></clipPath>
<g clip-path="url(#dcA50)">
<path d="M1134.4,809.2l0,0 46.3,0 1.8-.1 1-.5 1.5-2.6 1.5-5.9 4.6-34.5 1.1-5.7 .7-1.7 .5-.4 .7,.5 .7,1.5 1.3,5.7 3.5,25.9 1.5,8.4 1.7,5.9 1.7,2.6 1.3,.7 1.9,.2 43.9,0 0,0Z" fill="#7f8c8d" fill-opacity="0.45" stroke="#7e8584" stroke-width="2.5" stroke-linejoin="round"/>
<path d="M1134.4,809.2l0,0 5.3-.4 4.9-1.1 3.2-1.3 1.5-1.8 1.3-3.6 1.5-6.4 5.4-28.7 .9-3 .6-.9 .7,.6 .8,2.9 3.6,20.1 2.1,9.9 .9,2.3 .8,1.1 .8,.1 1.1-.7 2.6-4.2 3.4-7.6 4.9-17.5 1.6-4.8 2.6-4.9 1-1.1 1-.4 1,.3 1.1,1.3 2.6,5 1.8,5.9 3.9,16.6 2.1,7.1 3.4,8 1.3,2 1.9,1.8 3.5,2.2 3.2,.7 38.9,.5 0,0Z" fill="#7f30d4" fill-opacity="0.55" stroke="#6825b4" stroke-width="2.5" stroke-linejoin="round"/>
</g>
<line x1="1128.50" y1="755.07" x2="1128.50" y2="813.33" stroke="#000" stroke-width="3"/>
<line x1="1127.00" y1="811.83" x2="1257.50" y2="811.83" stroke="#000" stroke-width="3"/>
<line x1="1120.50" y1="809.25" x2="1128.50" y2="809.25" stroke="#333333" stroke-width="3"/>
<text x="1112.70" y="819.33" font-size="28" text-anchor="end" fill="#4d4d4d">0.0</text>
<line x1="1120.50" y1="783.45" x2="1128.50" y2="783.45" stroke="#333333" stroke-width="3"/>
<text x="1112.70" y="793.53" font-size="28" text-anchor="end" fill="#4d4d4d">0.5</text>
<line x1="1120.50" y1="757.65" x2="1128.50" y2="757.65" stroke="#333333" stroke-width="3"/>
<text x="1112.70" y="767.73" font-size="28" text-anchor="end" fill="#4d4d4d">1.0</text>
<clipPath id="dcA50t"><rect x="1088.50" y="811.83" width="187.00" height="60"/></clipPath>
<g clip-path="url(#dcA50t)">
<line x1="1134.36" y1="811.83" x2="1134.36" y2="819.83" stroke="#333333" stroke-width="3"/>
<text x="1134.36" y="848.41" font-size="28" text-anchor="middle" fill="#4d4d4d">0.2</text>
<line x1="1193.00" y1="811.83" x2="1193.00" y2="819.83" stroke="#333333" stroke-width="3"/>
<text x="1193.00" y="848.41" font-size="28" text-anchor="middle" fill="#4d4d4d">0.6</text>
<line x1="1251.64" y1="811.83" x2="1251.64" y2="819.83" stroke="#333333" stroke-width="3"/>
<text x="1251.64" y="848.41" font-size="28" text-anchor="middle" fill="#4d4d4d">1.0</text>
</g>
<clipPath id="dcA51"><rect x="1347.00" y="752.07" width="129.00" height="59.76"/></clipPath>
<g clip-path="url(#dcA51)">
<path d="M1352.9,809.2l0,0 5.7,0 1.8-.4 1.7-1.6 1.5-3.1 2-8.2 3.2-27.2 .8-4.5 .7-1 .7,1.3 .7,3.2 3.3,24.5 1.7,9.6 1.5,4.8 1,1.5 1.2,.8 2.7,.3 87,0 0,0Z" fill="#7f8c8d" fill-opacity="0.45" stroke="#7e8584" stroke-width="2.5" stroke-linejoin="round"/>
<path d="M1352.9,809.2l0,0 3.5-.4 3.3-1.3 1.7-1.2 1.2-2.1 2-9 5-32.6 1-3.8 .8-1 1.1,1 1.5,4.4 6.3,24.7 2.2,5.5 1.7,2.1 1,.2 1.2-.7 4.8-5.3 1-.4 1.2-.1 2.3,1.1 2.2,1.8 4.7,7.5 2.7,3.1 3.8,3.3 3,1.5 6.2,.6 17.3,.7 34.3,.4 0,0Z" fill="#7f30d4" fill-opacity="0.55" stroke="#6825b4" stroke-width="2.5" stroke-linejoin="round"/>
</g>
<line x1="1347.00" y1="755.07" x2="1347.00" y2="813.33" stroke="#000" stroke-width="3"/>
<line x1="1345.50" y1="811.83" x2="1476.00" y2="811.83" stroke="#000" stroke-width="3"/>
<line x1="1339.00" y1="809.25" x2="1347.00" y2="809.25" stroke="#333333" stroke-width="3"/>
<text x="1331.20" y="819.33" font-size="28" text-anchor="end" fill="#4d4d4d">0.0</text>
<line x1="1339.00" y1="783.45" x2="1347.00" y2="783.45" stroke="#333333" stroke-width="3"/>
<text x="1331.20" y="793.53" font-size="28" text-anchor="end" fill="#4d4d4d">0.5</text>
<line x1="1339.00" y1="757.65" x2="1347.00" y2="757.65" stroke="#333333" stroke-width="3"/>
<text x="1331.20" y="767.73" font-size="28" text-anchor="end" fill="#4d4d4d">1.0</text>
<clipPath id="dcA51t"><rect x="1307.00" y="811.83" width="187.00" height="60"/></clipPath>
<g clip-path="url(#dcA51t)">
<line x1="1352.86" y1="811.83" x2="1352.86" y2="819.83" stroke="#333333" stroke-width="3"/>
<text x="1352.86" y="848.41" font-size="28" text-anchor="middle" fill="#4d4d4d">0.0</text>
<line x1="1411.50" y1="811.83" x2="1411.50" y2="819.83" stroke="#333333" stroke-width="3"/>
<text x="1411.50" y="848.41" font-size="28" text-anchor="middle" fill="#4d4d4d">0.1</text>
<line x1="1470.14" y1="811.83" x2="1470.14" y2="819.83" stroke="#333333" stroke-width="3"/>
<text x="1470.14" y="848.41" font-size="28" text-anchor="middle" fill="#4d4d4d">0.2</text>
</g>
<clipPath id="dcA52"><rect x="1565.50" y="752.07" width="129.00" height="59.76"/></clipPath>
<g clip-path="url(#dcA52)">
<path d="M1571.4,809.2l0,0 72.4,0 3.2-.4 1-1.1 .9-1.7 1.8-6.8 1.4-8.6 3-25.7 1-5.2 1-1.9 1,1.6 1,4.4 4.2,33.5 1.3,6.9 1.4,3.6 1,1.1 1.3,.3 20.3,0 0,0Z" fill="#7f8c8d" fill-opacity="0.45" stroke="#7e8584" stroke-width="2.5" stroke-linejoin="round"/>
<path d="M1571.4,809.2l0,0 3.5-.4 4-1.3 3.3-1.6 2.2-1.9 3.2-4.6 16.7-29.1 3-3.8 2.7-1.7 1.6,0 1.9,.7 2,1.6 2.3,2.6 7.2,9.2 8.2,13.5 3.9,4.8 6.8,6.6 2.5,1.5 2.5,.8 8.4,.5 7.3,.1 2.2-.9 2.3-2.7 1.9-3.3 1.3-3.8 5.9-27.3 2.1-7.6 1.7-3.2 .7-.1 .6,.6 1.4,2.9 3.5,15.6 0,32.3Z" fill="#7f30d4" fill-opacity="0.55" stroke="#6825b4" stroke-width="2.5" stroke-linejoin="round"/>
</g>
<line x1="1565.50" y1="755.07" x2="1565.50" y2="813.33" stroke="#000" stroke-width="3"/>
<line x1="1564.00" y1="811.83" x2="1694.50" y2="811.83" stroke="#000" stroke-width="3"/>
<line x1="1557.50" y1="809.25" x2="1565.50" y2="809.25" stroke="#333333" stroke-width="3"/>
<text x="1549.70" y="819.33" font-size="28" text-anchor="end" fill="#4d4d4d">0.0</text>
<line x1="1557.50" y1="783.45" x2="1565.50" y2="783.45" stroke="#333333" stroke-width="3"/>
<text x="1549.70" y="793.53" font-size="28" text-anchor="end" fill="#4d4d4d">0.5</text>
<line x1="1557.50" y1="757.65" x2="1565.50" y2="757.65" stroke="#333333" stroke-width="3"/>
<text x="1549.70" y="767.73" font-size="28" text-anchor="end" fill="#4d4d4d">1.0</text>
<clipPath id="dcA52t"><rect x="1525.50" y="811.83" width="187.00" height="60"/></clipPath>
<g clip-path="url(#dcA52t)">
<line x1="1571.36" y1="811.83" x2="1571.36" y2="819.83" stroke="#333333" stroke-width="3"/>
<text x="1571.36" y="848.41" font-size="28" text-anchor="middle" fill="#4d4d4d">0.2</text>
<line x1="1630.00" y1="811.83" x2="1630.00" y2="819.83" stroke="#333333" stroke-width="3"/>
<text x="1630.00" y="848.41" font-size="28" text-anchor="middle" fill="#4d4d4d">0.6</text>
<line x1="1688.64" y1="811.83" x2="1688.64" y2="819.83" stroke="#333333" stroke-width="3"/>
<text x="1688.64" y="848.41" font-size="28" text-anchor="middle" fill="#4d4d4d">1.0</text>
</g>
<clipPath id="dcA53"><rect x="1784.00" y="752.07" width="129.00" height="59.76"/></clipPath>
<g clip-path="url(#dcA53)">
<path d="M1789.9,809.2l0,0 46.6,0 2.2-.1 1.3-.6 1.4-1.4 1.3-2.2 2.9-6.5 9.7-34.4 2.7-4.8 1.2-1.1 1.1-.4 1.2,.5 1.2,1.1 2.5,4.5 8.9,30.4 3,7.1 2.9,4.5 2.8,2 4.2,1.3 20.1,.1 0,0Z" fill="#7f8c8d" fill-opacity="0.45" stroke="#7e8584" stroke-width="2.5" stroke-linejoin="round"/>
<path d="M1789.9,809.2l0-3.8 3.7-23.9 2.5-11 1.6-4.9 2.1-4 2.1-3 1.9-.9 1.3,.5 1.5,1.2 4.1,5.4 11.4,24.3 3.5,6.2 3,3.8 3,3.1 2.6,2 3.3,1.9 4.2,1.6 4,.5 27.9,.8 33.5,.2 0,0Z" fill="#7f30d4" fill-opacity="0.55" stroke="#6825b4" stroke-width="2.5" stroke-linejoin="round"/>
</g>
<line x1="1784.00" y1="755.07" x2="1784.00" y2="813.33" stroke="#000" stroke-width="3"/>
<line x1="1782.50" y1="811.83" x2="1913.00" y2="811.83" stroke="#000" stroke-width="3"/>
<line x1="1776.00" y1="809.25" x2="1784.00" y2="809.25" stroke="#333333" stroke-width="3"/>
<text x="1768.20" y="819.33" font-size="28" text-anchor="end" fill="#4d4d4d">0.0</text>
<line x1="1776.00" y1="783.45" x2="1784.00" y2="783.45" stroke="#333333" stroke-width="3"/>
<text x="1768.20" y="793.53" font-size="28" text-anchor="end" fill="#4d4d4d">0.5</text>
<line x1="1776.00" y1="757.65" x2="1784.00" y2="757.65" stroke="#333333" stroke-width="3"/>
<text x="1768.20" y="767.73" font-size="28" text-anchor="end" fill="#4d4d4d">1.0</text>
<clipPath id="dcA53t"><rect x="1744.00" y="811.83" width="187.00" height="60"/></clipPath>
<g clip-path="url(#dcA53t)">
<line x1="1789.86" y1="811.83" x2="1789.86" y2="819.83" stroke="#333333" stroke-width="3"/>
<text x="1789.86" y="848.41" font-size="28" text-anchor="middle" fill="#4d4d4d">0.00</text>
<line x1="1848.50" y1="811.83" x2="1848.50" y2="819.83" stroke="#333333" stroke-width="3"/>
<text x="1848.50" y="848.41" font-size="28" text-anchor="middle" fill="#4d4d4d">0.15</text>
<line x1="1907.14" y1="811.83" x2="1907.14" y2="819.83" stroke="#333333" stroke-width="3"/>
<text x="1907.14" y="848.41" font-size="28" text-anchor="middle" fill="#4d4d4d">0.30</text>
</g>
<clipPath id="dcA54"><rect x="2002.50" y="752.07" width="129.00" height="59.76"/></clipPath>
<g clip-path="url(#dcA54)">
<path d="M2008.4,809.2l0,0 2.6-.1 1.6-.5 1.5-1.3 1.6-2.2 4.2-7.3 10.8-25.1 3.3-6.8 2.2-3 3-2.9 2.6-1.7 2.1-.6 1.7,.4 1.7,1.2 5.4,6.5 3.3,5.3 13.1,24.2 4.5,5.5 4.9,4.1 6.5,3 5.4,1.3 35.2,0 0,0Z" fill="#7f8c8d" fill-opacity="0.45" stroke="#7e8584" stroke-width="2.5" stroke-linejoin="round"/>
<path d="M2008.4,809.2l0-18.2 1.5-27.1 .5-4.7 .5-1.4 .8,2.6 3.7,22.3 2.5,9 1.9,4.3 1.8,3 2.4,2.1 3.3,1.9 3.5,1.3 5.7,1.1 13.6,1.6 16.8,.6 42.3,.5 12.9,.5 3.5,.5 0,.1Z" fill="#7f30d4" fill-opacity="0.55" stroke="#6825b4" stroke-width="2.5" stroke-linejoin="round"/>
</g>
<line x1="2002.50" y1="755.07" x2="2002.50" y2="813.33" stroke="#000" stroke-width="3"/>
<line x1="2001.00" y1="811.83" x2="2131.50" y2="811.83" stroke="#000" stroke-width="3"/>
<line x1="1994.50" y1="809.25" x2="2002.50" y2="809.25" stroke="#333333" stroke-width="3"/>
<text x="1986.70" y="819.33" font-size="28" text-anchor="end" fill="#4d4d4d">0.0</text>
<line x1="1994.50" y1="783.45" x2="2002.50" y2="783.45" stroke="#333333" stroke-width="3"/>
<text x="1986.70" y="793.53" font-size="28" text-anchor="end" fill="#4d4d4d">0.5</text>
<line x1="1994.50" y1="757.65" x2="2002.50" y2="757.65" stroke="#333333" stroke-width="3"/>
<text x="1986.70" y="767.73" font-size="28" text-anchor="end" fill="#4d4d4d">1.0</text>
<clipPath id="dcA54t"><rect x="1962.50" y="811.83" width="187.00" height="60"/></clipPath>
<g clip-path="url(#dcA54t)">
<line x1="2008.36" y1="811.83" x2="2008.36" y2="819.83" stroke="#333333" stroke-width="3"/>
<text x="2008.36" y="848.41" font-size="28" text-anchor="middle" fill="#4d4d4d">0.00</text>
<line x1="2067.00" y1="811.83" x2="2067.00" y2="819.83" stroke="#333333" stroke-width="3"/>
<text x="2067.00" y="848.41" font-size="28" text-anchor="middle" fill="#4d4d4d">0.05</text>
<line x1="2125.64" y1="811.83" x2="2125.64" y2="819.83" stroke="#333333" stroke-width="3"/>
<text x="2125.64" y="848.41" font-size="28" text-anchor="middle" fill="#4d4d4d">0.10</text>
</g>
<text x="993.50" y="944.02" font-size="17.5" text-anchor="start" fill="#000" font-weight="bold">2165</text>
<clipPath id="dcA60"><rect x="1128.50" y="884.74" width="129.00" height="59.76"/></clipPath>
<g clip-path="url(#dcA60)">
<path d="M1134.4,941.9l0,0 25.6-.1 1.5-.2 1-.8 1.1-2.5 1-5.1 3.7-34.6 1-6 1-2.1 .5,.4 .5,1.3 1,4.9 3,26 1.5,9.9 1.5,5.5 .9,1.6 1.1,1.1 2.9,.6 68.4,.1 0,0Z" fill="#7f8c8d" fill-opacity="0.45" stroke="#7e8584" stroke-width="2.5" stroke-linejoin="round"/>
<path d="M1134.4,941.9l0-.1 2.1-.5 1.6-1 1-1.5 .8-2.5 1.7-9.1 3.3-24.9 .7-3 .5-.9 .7,.8 .6,2.7 4.6,28.2 1.2,3.3 .5,.3 .5-.5 1.8-6.5 5.5-30.3 1.5-4.4 .9-1.2 .7-.3 .8,.5 1,1.7 1.8,5.8 4.2,24.3 2.4,9.8 2.2,5.3 1.1,1.5 1.6,1.1 2.3,1 2.7,.3 66.9,0 0,.1Z" fill="#7f30d4" fill-opacity="0.55" stroke="#6825b4" stroke-width="2.5" stroke-linejoin="round"/>
</g>
<line x1="1128.50" y1="887.74" x2="1128.50" y2="946.00" stroke="#000" stroke-width="3"/>
<line x1="1127.00" y1="944.50" x2="1257.50" y2="944.50" stroke="#000" stroke-width="3"/>
<line x1="1120.50" y1="941.92" x2="1128.50" y2="941.92" stroke="#333333" stroke-width="3"/>
<text x="1112.70" y="952.00" font-size="28" text-anchor="end" fill="#4d4d4d">0.0</text>
<line x1="1120.50" y1="916.12" x2="1128.50" y2="916.12" stroke="#333333" stroke-width="3"/>
<text x="1112.70" y="926.20" font-size="28" text-anchor="end" fill="#4d4d4d">0.5</text>
<line x1="1120.50" y1="890.32" x2="1128.50" y2="890.32" stroke="#333333" stroke-width="3"/>
<text x="1112.70" y="900.40" font-size="28" text-anchor="end" fill="#4d4d4d">1.0</text>
<clipPath id="dcA60t"><rect x="1088.50" y="944.50" width="187.00" height="60"/></clipPath>
<g clip-path="url(#dcA60t)">
<line x1="1134.36" y1="944.50" x2="1134.36" y2="952.50" stroke="#333333" stroke-width="3"/>
<text x="1134.36" y="981.08" font-size="28" text-anchor="middle" fill="#4d4d4d">0.2</text>
<line x1="1193.00" y1="944.50" x2="1193.00" y2="952.50" stroke="#333333" stroke-width="3"/>
<text x="1193.00" y="981.08" font-size="28" text-anchor="middle" fill="#4d4d4d">0.6</text>
<line x1="1251.64" y1="944.50" x2="1251.64" y2="952.50" stroke="#333333" stroke-width="3"/>
<text x="1251.64" y="981.08" font-size="28" text-anchor="middle" fill="#4d4d4d">1.0</text>
</g>
<clipPath id="dcA61"><rect x="1347.00" y="884.74" width="129.00" height="59.76"/></clipPath>
<g clip-path="url(#dcA61)">
<path d="M1352.9,941.9l0,0 3.3-.3 1.7-.7 1.5-1.9 1.5-3.2 3.2-10.4 4.9-25.1 1.5-4.5 .7-1.1 .6-.4 .7,.5 .7,1.2 1.6,5.6 4.1,22.5 2.1,9.3 2.1,5.3 1.1,1.7 1.4,1 2.8,.4 81.7,.1 0,0Z" fill="#7f8c8d" fill-opacity="0.45" stroke="#7e8584" stroke-width="2.5" stroke-linejoin="round"/>
<path d="M1352.9,941.9l0-.2 1.8-.6 1.8-1.5 1.4-1.8 1.2-2.5 3.8-13.9 5.2-23.9 2-5 1.2-1.5 1-.5 1.3,.9 1.7,2.9 5.5,15.7 3,5.3 4.1,4.4 7.7,6.1 9.3,10 2.7,1.9 3.5,1.5 3.5,1 11.4,1.2 10.9,.4 33,0 0,.1Z" fill="#7f30d4" fill-opacity="0.55" stroke="#6825b4" stroke-width="2.5" stroke-linejoin="round"/>
</g>
<line x1="1347.00" y1="887.74" x2="1347.00" y2="946.00" stroke="#000" stroke-width="3"/>
<line x1="1345.50" y1="944.50" x2="1476.00" y2="944.50" stroke="#000" stroke-width="3"/>
<line x1="1339.00" y1="941.92" x2="1347.00" y2="941.92" stroke="#333333" stroke-width="3"/>
<text x="1331.20" y="952.00" font-size="28" text-anchor="end" fill="#4d4d4d">0.0</text>
<line x1="1339.00" y1="916.12" x2="1347.00" y2="916.12" stroke="#333333" stroke-width="3"/>
<text x="1331.20" y="926.20" font-size="28" text-anchor="end" fill="#4d4d4d">0.5</text>
<line x1="1339.00" y1="890.32" x2="1347.00" y2="890.32" stroke="#333333" stroke-width="3"/>
<text x="1331.20" y="900.40" font-size="28" text-anchor="end" fill="#4d4d4d">1.0</text>
<clipPath id="dcA61t"><rect x="1307.00" y="944.50" width="187.00" height="60"/></clipPath>
<g clip-path="url(#dcA61t)">
<line x1="1352.86" y1="944.50" x2="1352.86" y2="952.50" stroke="#333333" stroke-width="3"/>
<text x="1352.86" y="981.08" font-size="28" text-anchor="middle" fill="#4d4d4d">0.0</text>
<line x1="1411.50" y1="944.50" x2="1411.50" y2="952.50" stroke="#333333" stroke-width="3"/>
<text x="1411.50" y="981.08" font-size="28" text-anchor="middle" fill="#4d4d4d">0.1</text>
<line x1="1470.14" y1="944.50" x2="1470.14" y2="952.50" stroke="#333333" stroke-width="3"/>
<text x="1470.14" y="981.08" font-size="28" text-anchor="middle" fill="#4d4d4d">0.2</text>
</g>
<clipPath id="dcA62"><rect x="1565.50" y="884.74" width="129.00" height="59.76"/></clipPath>
<g clip-path="url(#dcA62)">
<path d="M1571.4,941.9l0,0 84.5-.1 4-.5 1.4-1.1 1.2-1.9 2.3-6.4 1.5-6.9 4.6-26.1 1.5-6.1 .6-1.6 .7-.7 .7,.4 .6,1.6 1.4,5.9 3.7,29.6 1.8,9.6 1,2.7 1,1.1 1.2,.4 3.5,.1 0,0Z" fill="#7f8c8d" fill-opacity="0.45" stroke="#7e8584" stroke-width="2.5" stroke-linejoin="round"/>
<path d="M1571.4,941.9l0-.1 24.4-.7 8.7-.7 3.5-.8 5-2.5 7.8-5.4 9.1-8.7 2.8-2.3 5.9-3.5 3.8-1.1 4,.8 5.2,2.7 6,4.2 7.2,7.2 2.8,2.4 5.4,3.5 1.7,.6 1.3-.1 1.2-.8 1.1-2 2-6.9 1.2-8.1 2.2-20.6 1.3-7.2 .7-1.2 .7,.4 1.8,7.1 0,43.8Z" fill="#7f30d4" fill-opacity="0.55" stroke="#6825b4" stroke-width="2.5" stroke-linejoin="round"/>
</g>
<line x1="1565.50" y1="887.74" x2="1565.50" y2="946.00" stroke="#000" stroke-width="3"/>
<line x1="1564.00" y1="944.50" x2="1694.50" y2="944.50" stroke="#000" stroke-width="3"/>
<line x1="1557.50" y1="941.92" x2="1565.50" y2="941.92" stroke="#333333" stroke-width="3"/>
<text x="1549.70" y="952.00" font-size="28" text-anchor="end" fill="#4d4d4d">0.0</text>
<line x1="1557.50" y1="916.12" x2="1565.50" y2="916.12" stroke="#333333" stroke-width="3"/>
<text x="1549.70" y="926.20" font-size="28" text-anchor="end" fill="#4d4d4d">0.5</text>
<line x1="1557.50" y1="890.32" x2="1565.50" y2="890.32" stroke="#333333" stroke-width="3"/>
<text x="1549.70" y="900.40" font-size="28" text-anchor="end" fill="#4d4d4d">1.0</text>
<clipPath id="dcA62t"><rect x="1525.50" y="944.50" width="187.00" height="60"/></clipPath>
<g clip-path="url(#dcA62t)">
<line x1="1571.36" y1="944.50" x2="1571.36" y2="952.50" stroke="#333333" stroke-width="3"/>
<text x="1571.36" y="981.08" font-size="28" text-anchor="middle" fill="#4d4d4d">0.2</text>
<line x1="1630.00" y1="944.50" x2="1630.00" y2="952.50" stroke="#333333" stroke-width="3"/>
<text x="1630.00" y="981.08" font-size="28" text-anchor="middle" fill="#4d4d4d">0.6</text>
<line x1="1688.64" y1="944.50" x2="1688.64" y2="952.50" stroke="#333333" stroke-width="3"/>
<text x="1688.64" y="981.08" font-size="28" text-anchor="middle" fill="#4d4d4d">1.0</text>
</g>
<clipPath id="dcA63"><rect x="1784.00" y="884.74" width="129.00" height="59.76"/></clipPath>
<g clip-path="url(#dcA63)">
<path d="M1789.9,941.9l0,0 11.4-.1 1.6-.5 1.4-1.3 2-3.2 2-4.1 8.9-24 4.5-9.6 2.2-3.5 2-2.2 3.2-2.3 2.4-.7 1,.3 1,.9 2.3,4 14.3,32.4 4.4,6 4.2,4 5.5,2.4 5.9,1.2 8,.3 29,0 0,0Z" fill="#7f8c8d" fill-opacity="0.45" stroke="#7e8584" stroke-width="2.5" stroke-linejoin="round"/>
<path d="M1789.9,941.9l0-15.4 1.8-28.2 .8-6.3 .4-1.1 .5-.5 .7,1.2 .8,3.6 3.7,24.5 2.3,10.2 1.4,3.7 1.3,2.4 2,2 2.7,1.6 4.2,.9 23.7,.8 70.9,.6 0,0Z" fill="#7f30d4" fill-opacity="0.55" stroke="#6825b4" stroke-width="2.5" stroke-linejoin="round"/>
</g>
<line x1="1784.00" y1="887.74" x2="1784.00" y2="946.00" stroke="#000" stroke-width="3"/>
<line x1="1782.50" y1="944.50" x2="1913.00" y2="944.50" stroke="#000" stroke-width="3"/>
<line x1="1776.00" y1="941.92" x2="1784.00" y2="941.92" stroke="#333333" stroke-width="3"/>
<text x="1768.20" y="952.00" font-size="28" text-anchor="end" fill="#4d4d4d">0.0</text>
<line x1="1776.00" y1="916.12" x2="1784.00" y2="916.12" stroke="#333333" stroke-width="3"/>
<text x="1768.20" y="926.20" font-size="28" text-anchor="end" fill="#4d4d4d">0.5</text>
<line x1="1776.00" y1="890.32" x2="1784.00" y2="890.32" stroke="#333333" stroke-width="3"/>
<text x="1768.20" y="900.40" font-size="28" text-anchor="end" fill="#4d4d4d">1.0</text>
<clipPath id="dcA63t"><rect x="1744.00" y="944.50" width="187.00" height="60"/></clipPath>
<g clip-path="url(#dcA63t)">
<line x1="1789.86" y1="944.50" x2="1789.86" y2="952.50" stroke="#333333" stroke-width="3"/>
<text x="1789.86" y="981.08" font-size="28" text-anchor="middle" fill="#4d4d4d">0.0</text>
<line x1="1868.74" y1="944.50" x2="1868.74" y2="952.50" stroke="#333333" stroke-width="3"/>
<text x="1868.74" y="981.08" font-size="28" text-anchor="middle" fill="#4d4d4d">0.1</text>
</g>
<clipPath id="dcA64"><rect x="2002.50" y="884.74" width="129.00" height="59.76"/></clipPath>
<g clip-path="url(#dcA64)">
<path d="M2008.4,941.9l0-.8 2-2.9 3.5-7.1 10.2-24.7 2.4-4.9 3.3-5.4 2.6-3.4 2.1-1.8 2-.5 2.4,.4 3.2,1.4 2.5,1.4 2.4,1.8 6.7,6.8 9.2,11.3 7.7,8.3 7.6,6.7 6.7,4.7 8,3.5 9.6,2.6 10.6,1.8 12.5,.8 0,0Z" fill="#7f8c8d" fill-opacity="0.45" stroke="#7e8584" stroke-width="2.5" stroke-linejoin="round"/>
<path d="M2008.4,941.9l0-16.6 1.5-27 .5-5.4 .6-2.5 1.1,3.4 3.6,23.5 2.4,9 1.8,4.6 1.7,2.8 2,1.8 3.6,2 3.3,1.2 3.5,.7 18.8,1.5 34.4,.7 38.4,.3 0,0Z" fill="#7f30d4" fill-opacity="0.55" stroke="#6825b4" stroke-width="2.5" stroke-linejoin="round"/>
</g>
<line x1="2002.50" y1="887.74" x2="2002.50" y2="946.00" stroke="#000" stroke-width="3"/>
<line x1="2001.00" y1="944.50" x2="2131.50" y2="944.50" stroke="#000" stroke-width="3"/>
<line x1="1994.50" y1="941.92" x2="2002.50" y2="941.92" stroke="#333333" stroke-width="3"/>
<text x="1986.70" y="952.00" font-size="28" text-anchor="end" fill="#4d4d4d">0.0</text>
<line x1="1994.50" y1="916.12" x2="2002.50" y2="916.12" stroke="#333333" stroke-width="3"/>
<text x="1986.70" y="926.20" font-size="28" text-anchor="end" fill="#4d4d4d">0.5</text>
<line x1="1994.50" y1="890.32" x2="2002.50" y2="890.32" stroke="#333333" stroke-width="3"/>
<text x="1986.70" y="900.40" font-size="28" text-anchor="end" fill="#4d4d4d">1.0</text>
<clipPath id="dcA64t"><rect x="1962.50" y="944.50" width="187.00" height="60"/></clipPath>
<g clip-path="url(#dcA64t)">
<line x1="2008.36" y1="944.50" x2="2008.36" y2="952.50" stroke="#333333" stroke-width="3"/>
<text x="2008.36" y="981.08" font-size="28" text-anchor="middle" fill="#4d4d4d">0.0</text>
<line x1="2086.70" y1="944.50" x2="2086.70" y2="952.50" stroke="#333333" stroke-width="3"/>
<text x="2086.70" y="981.08" font-size="28" text-anchor="middle" fill="#4d4d4d">0.1</text>
</g>
<text x="993.50" y="1099.19" font-size="17.5" text-anchor="start" fill="#000" font-weight="bold">2166</text>
<clipPath id="dcA70"><rect x="1128.50" y="1017.41" width="129.00" height="59.76"/></clipPath>
<g clip-path="url(#dcA70)">
<path d="M1134.4,1074.6l0,0 26,0 1.5-.3 1-.8 1.3-3.2 1.5-7 5.2-34.8 1-4.1 .5-1 .6-.3 .6,.7 .7,1.8 1.3,6.2 3.4,25.2 1.7,9.8 1.5,5 1.7,2.1 1.3,.5 1.8,.2 64.6,0 0,0Z" fill="#7f8c8d" fill-opacity="0.45" stroke="#7e8584" stroke-width="2.5" stroke-linejoin="round"/>
<path d="M1134.4,1074.6l0,0 2.6-.4 2.1-.7 1-1.1 .8-2.3 1.3-7.6 3.2-26.4 1.4-6.2 .3-.3 .3,.2 .9,2.7 2.8,17.1 2.1,9.7 1.1,3.3 .5,.7 .7,.2 1.3-1.9 1.6-4.5 7.3-29.4 1.5-3.5 1.4-1.1 1,.5 1.2,1.7 2.3,6.1 5.4,25.2 2.5,9.7 2,4.1 3.2,3.1 1.7,.7 2.3,.2 61.4,.2 0,0Z" fill="#7f30d4" fill-opacity="0.55" stroke="#6825b4" stroke-width="2.5" stroke-linejoin="round"/>
</g>
<line x1="1128.50" y1="1020.41" x2="1128.50" y2="1078.67" stroke="#000" stroke-width="3"/>
<line x1="1127.00" y1="1077.17" x2="1257.50" y2="1077.17" stroke="#000" stroke-width="3"/>
<line x1="1120.50" y1="1074.59" x2="1128.50" y2="1074.59" stroke="#333333" stroke-width="3"/>
<text x="1112.70" y="1084.67" font-size="28" text-anchor="end" fill="#4d4d4d">0.0</text>
<line x1="1120.50" y1="1048.79" x2="1128.50" y2="1048.79" stroke="#333333" stroke-width="3"/>
<text x="1112.70" y="1058.87" font-size="28" text-anchor="end" fill="#4d4d4d">0.5</text>
<line x1="1120.50" y1="1022.99" x2="1128.50" y2="1022.99" stroke="#333333" stroke-width="3"/>
<text x="1112.70" y="1033.07" font-size="28" text-anchor="end" fill="#4d4d4d">1.0</text>
<clipPath id="dcA70t"><rect x="1088.50" y="1077.17" width="187.00" height="60"/></clipPath>
<g clip-path="url(#dcA70t)">
<line x1="1134.36" y1="1077.17" x2="1134.36" y2="1085.17" stroke="#333333" stroke-width="3"/>
<text x="1134.36" y="1113.75" font-size="28" text-anchor="middle" fill="#4d4d4d">0.2</text>
<line x1="1193.00" y1="1077.17" x2="1193.00" y2="1085.17" stroke="#333333" stroke-width="3"/>
<text x="1193.00" y="1113.75" font-size="28" text-anchor="middle" fill="#4d4d4d">0.6</text>
<line x1="1251.64" y1="1077.17" x2="1251.64" y2="1085.17" stroke="#333333" stroke-width="3"/>
<text x="1251.64" y="1113.75" font-size="28" text-anchor="middle" fill="#4d4d4d">1.0</text>
</g>
<clipPath id="dcA71"><rect x="1347.00" y="1017.41" width="129.00" height="59.76"/></clipPath>
<g clip-path="url(#dcA71)">
<path d="M1352.9,1074.6l0,0 4.8-.1 2-.7 1.9-1.9 2.2-3.9 1.5-3.7 1.3-4.6 5.4-25.3 1.7-5 1.1-1.2 1.2,1.6 1.2,4.2 6.2,31.8 2,6 .9,1.5 1,.9 2.5,.4 80.3,0 0,0Z" fill="#7f8c8d" fill-opacity="0.45" stroke="#7e8584" stroke-width="2.5" stroke-linejoin="round"/>
<path d="M1352.9,1074.6l0-.1 2-.4 1.8-1 1.2-1.3 1.2-2 2.8-8.4 7.9-27.7 3.5-8.2 1.3-1.8 1.2-.6 .8,.4 .9,1 2,4.5 4.3,16.9 2,6 2.6,5.3 2,2.2 1.8,.3 3.2-.8 2.7-1.2 4-2.7 2-.3 1.2,.5 1.5,1.3 11.4,12 3.6,2.2 5.4,2.1 3.9,.8 5.5,.3 33.3,.7 0,0Z" fill="#7f30d4" fill-opacity="0.55" stroke="#6825b4" stroke-width="2.5" stroke-linejoin="round"/>
</g>
<line x1="1347.00" y1="1020.41" x2="1347.00" y2="1078.67" stroke="#000" stroke-width="3"/>
<line x1="1345.50" y1="1077.17" x2="1476.00" y2="1077.17" stroke="#000" stroke-width="3"/>
<line x1="1339.00" y1="1074.59" x2="1347.00" y2="1074.59" stroke="#333333" stroke-width="3"/>
<text x="1331.20" y="1084.67" font-size="28" text-anchor="end" fill="#4d4d4d">0.0</text>
<line x1="1339.00" y1="1048.79" x2="1347.00" y2="1048.79" stroke="#333333" stroke-width="3"/>
<text x="1331.20" y="1058.87" font-size="28" text-anchor="end" fill="#4d4d4d">0.5</text>
<line x1="1339.00" y1="1022.99" x2="1347.00" y2="1022.99" stroke="#333333" stroke-width="3"/>
<text x="1331.20" y="1033.07" font-size="28" text-anchor="end" fill="#4d4d4d">1.0</text>
<clipPath id="dcA71t"><rect x="1307.00" y="1077.17" width="187.00" height="60"/></clipPath>
<g clip-path="url(#dcA71t)">
<line x1="1352.86" y1="1077.17" x2="1352.86" y2="1085.17" stroke="#333333" stroke-width="3"/>
<text x="1352.86" y="1113.75" font-size="28" text-anchor="middle" fill="#4d4d4d">0.0</text>
<line x1="1411.50" y1="1077.17" x2="1411.50" y2="1085.17" stroke="#333333" stroke-width="3"/>
<text x="1411.50" y="1113.75" font-size="28" text-anchor="middle" fill="#4d4d4d">0.1</text>
<line x1="1470.14" y1="1077.17" x2="1470.14" y2="1085.17" stroke="#333333" stroke-width="3"/>
<text x="1470.14" y="1113.75" font-size="28" text-anchor="middle" fill="#4d4d4d">0.2</text>
</g>
<clipPath id="dcA72"><rect x="1565.50" y="1017.41" width="129.00" height="59.76"/></clipPath>
<g clip-path="url(#dcA72)">
<path d="M1571.4,1074.6l0,0 86.5,0 3.4-.4 1.2-1 1-1.9 2.2-7.1 1.8-9 4.2-25.9 1.2-4.7 1-1.5 .5,.4 .6,1.6 1.2,5.4 3.7,30 1.9,9.7 1,2.7 1,1.2 1.3,.5 3.5,0 0,0Z" fill="#7f8c8d" fill-opacity="0.45" stroke="#7e8584" stroke-width="2.5" stroke-linejoin="round"/>
<path d="M1571.4,1074.6l0,0 25.9-.8 7.3-.5 3.4-.9 4.8-2.7 8.7-6.5 9.4-9.1 7.7-6.9 2.1-1.3 2-.5 2.4,.5 2.5,1.3 7,6 2.8,3.4 5.2,8.3 2.4,2.5 3.1,2 3.4,1.6 2.8,.8 1.7-.2 1.2-1 1.1-2.1 2.2-7.6 1.3-8.7 2.6-21.7 1.1-6.2 .7-1.2 .5,.4 1.5,5.6 0,45.5Z" fill="#7f30d4" fill-opacity="0.55" stroke="#6825b4" stroke-width="2.5" stroke-linejoin="round"/>
</g>
<line x1="1565.50" y1="1020.41" x2="1565.50" y2="1078.67" stroke="#000" stroke-width="3"/>
<line x1="1564.00" y1="1077.17" x2="1694.50" y2="1077.17" stroke="#000" stroke-width="3"/>
<line x1="1557.50" y1="1074.59" x2="1565.50" y2="1074.59" stroke="#333333" stroke-width="3"/>
<text x="1549.70" y="1084.67" font-size="28" text-anchor="end" fill="#4d4d4d">0.0</text>
<line x1="1557.50" y1="1048.79" x2="1565.50" y2="1048.79" stroke="#333333" stroke-width="3"/>
<text x="1549.70" y="1058.87" font-size="28" text-anchor="end" fill="#4d4d4d">0.5</text>
<line x1="1557.50" y1="1022.99" x2="1565.50" y2="1022.99" stroke="#333333" stroke-width="3"/>
<text x="1549.70" y="1033.07" font-size="28" text-anchor="end" fill="#4d4d4d">1.0</text>
<clipPath id="dcA72t"><rect x="1525.50" y="1077.17" width="187.00" height="60"/></clipPath>
<g clip-path="url(#dcA72t)">
<line x1="1571.36" y1="1077.17" x2="1571.36" y2="1085.17" stroke="#333333" stroke-width="3"/>
<text x="1571.36" y="1113.75" font-size="28" text-anchor="middle" fill="#4d4d4d">0.2</text>
<line x1="1630.00" y1="1077.17" x2="1630.00" y2="1085.17" stroke="#333333" stroke-width="3"/>
<text x="1630.00" y="1113.75" font-size="28" text-anchor="middle" fill="#4d4d4d">0.6</text>
<line x1="1688.64" y1="1077.17" x2="1688.64" y2="1085.17" stroke="#333333" stroke-width="3"/>
<text x="1688.64" y="1113.75" font-size="28" text-anchor="middle" fill="#4d4d4d">1.0</text>
</g>
<clipPath id="dcA73"><rect x="1784.00" y="1017.41" width="129.00" height="59.76"/></clipPath>
<g clip-path="url(#dcA73)">
<path d="M1789.9,1074.6l0,0 18.8-.2 3-1 3.2-2.3 4.3-4.5 3-4.6 16.7-33 1.8-2.1 3-2.3 2.5-1.2 2.2-.4 1.9,.4 1.8,1.1 2.5,2.4 2,2.6 13.5,27.9 4.7,7.1 4,4.7 3.7,2.2 6.7,1.9 6.2,.8 11.7,.5 0,0Z" fill="#7f8c8d" fill-opacity="0.45" stroke="#7e8584" stroke-width="2.5" stroke-linejoin="round"/>
<path d="M1789.9,1074.6l0-7.7 2.1-22.7 1.2-8.3 2.5-9.4 1.2-2.6 1-.9 1,.7 1.4,2.9 6.5,20.7 4.7,11 2,3.4 2.7,3.2 3.2,2.9 3,1.8 7.6,2.5 7.2,1 19.8,.7 50.1,.8 0,0Z" fill="#7f30d4" fill-opacity="0.55" stroke="#6825b4" stroke-width="2.5" stroke-linejoin="round"/>
</g>
<line x1="1784.00" y1="1020.41" x2="1784.00" y2="1078.67" stroke="#000" stroke-width="3"/>
<line x1="1782.50" y1="1077.17" x2="1913.00" y2="1077.17" stroke="#000" stroke-width="3"/>
<line x1="1776.00" y1="1074.59" x2="1784.00" y2="1074.59" stroke="#333333" stroke-width="3"/>
<text x="1768.20" y="1084.67" font-size="28" text-anchor="end" fill="#4d4d4d">0.0</text>
<line x1="1776.00" y1="1048.79" x2="1784.00" y2="1048.79" stroke="#333333" stroke-width="3"/>
<text x="1768.20" y="1058.87" font-size="28" text-anchor="end" fill="#4d4d4d">0.5</text>
<line x1="1776.00" y1="1022.99" x2="1784.00" y2="1022.99" stroke="#333333" stroke-width="3"/>
<text x="1768.20" y="1033.07" font-size="28" text-anchor="end" fill="#4d4d4d">1.0</text>
<clipPath id="dcA73t"><rect x="1744.00" y="1077.17" width="187.00" height="60"/></clipPath>
<g clip-path="url(#dcA73t)">
<line x1="1789.86" y1="1077.17" x2="1789.86" y2="1085.17" stroke="#333333" stroke-width="3"/>
<text x="1789.86" y="1113.75" font-size="28" text-anchor="middle" fill="#4d4d4d">0.0</text>
<line x1="1868.74" y1="1077.17" x2="1868.74" y2="1085.17" stroke="#333333" stroke-width="3"/>
<text x="1868.74" y="1113.75" font-size="28" text-anchor="middle" fill="#4d4d4d">0.1</text>
</g>
<clipPath id="dcA74"><rect x="2002.50" y="1017.41" width="129.00" height="59.76"/></clipPath>
<g clip-path="url(#dcA74)">
<path d="M2008.4,1074.6l0-2.9 5-26.4 2.2-8.8 2.2-6.2 2-4.4 1.6-2.3 1.7-.6 1.5,.5 1.7,1.3 2.5,2.7 1.9,2.6 8.5,17.9 4.4,8.4 2.8,4.6 5.8,6.3 2.8,2.4 2.5,1.5 6.7,2.2 6.7,.9 54.7,.3 0,0Z" fill="#7f8c8d" fill-opacity="0.45" stroke="#7e8584" stroke-width="2.5" stroke-linejoin="round"/>
<path d="M2008.4,1074.6l0-31.9 .8-16.1 .3-3 .4-.5 .6,4.9 2.1,25 1.6,9.7 1.4,3.2 1.8,2.4 2.9,1.7 4,1.5 5,.8 16.8,.7 57.9,.9 21.6,.7 0,0Z" fill="#7f30d4" fill-opacity="0.55" stroke="#6825b4" stroke-width="2.5" stroke-linejoin="round"/>
</g>
<line x1="2002.50" y1="1020.41" x2="2002.50" y2="1078.67" stroke="#000" stroke-width="3"/>
<line x1="2001.00" y1="1077.17" x2="2131.50" y2="1077.17" stroke="#000" stroke-width="3"/>
<line x1="1994.50" y1="1074.59" x2="2002.50" y2="1074.59" stroke="#333333" stroke-width="3"/>
<text x="1986.70" y="1084.67" font-size="28" text-anchor="end" fill="#4d4d4d">0.0</text>
<line x1="1994.50" y1="1048.79" x2="2002.50" y2="1048.79" stroke="#333333" stroke-width="3"/>
<text x="1986.70" y="1058.87" font-size="28" text-anchor="end" fill="#4d4d4d">0.5</text>
<line x1="1994.50" y1="1022.99" x2="2002.50" y2="1022.99" stroke="#333333" stroke-width="3"/>
<text x="1986.70" y="1033.07" font-size="28" text-anchor="end" fill="#4d4d4d">1.0</text>
<clipPath id="dcA74t"><rect x="1962.50" y="1077.17" width="187.00" height="60"/></clipPath>
<g clip-path="url(#dcA74t)">
<line x1="2008.36" y1="1077.17" x2="2008.36" y2="1085.17" stroke="#333333" stroke-width="3"/>
<text x="2008.36" y="1113.75" font-size="28" text-anchor="middle" fill="#4d4d4d">0.0</text>
<line x1="2086.70" y1="1077.17" x2="2086.70" y2="1085.17" stroke="#333333" stroke-width="3"/>
<text x="2086.70" y="1113.75" font-size="28" text-anchor="middle" fill="#4d4d4d">0.1</text>
</g>
<text x="1193.00" y="1148.00" font-size="38" text-anchor="middle" fill="#000" font-family="'Liberation Serif', 'Times New Roman', serif">ρ</text>
<text x="1411.50" y="1151.50" font-size="40" text-anchor="middle" fill="#000" font-family="'Liberation Serif', 'Times New Roman', serif" stroke="#000" stroke-width="0.6">σ</text>
<text x="1630.00" y="1148.00" font-size="36" text-anchor="middle" fill="#000"><tspan font-family="'Liberation Serif', 'Times New Roman', serif">ω</tspan><tspan font-size="24.5" dy="6.5">rational</tspan></text>
<text x="1848.50" y="1148.00" font-size="36" text-anchor="middle" fill="#000"><tspan font-family="'Liberation Serif', 'Times New Roman', serif">ω</tspan><tspan font-size="24.5" dy="6.5">lottery</tspan></text>
<text x="2067.00" y="1148.00" font-size="36" text-anchor="middle" fill="#000"><tspan font-family="'Liberation Serif', 'Times New Roman', serif">ω</tspan><tspan font-size="24.5" dy="6.5">surebet</tspan></text>
<text x="993.50" y="1369.70" font-size="17.5" text-anchor="start" fill="#000" font-weight="bold">2152</text>
<clipPath id="dcB00"><rect x="1128.50" y="1311.42" width="129.00" height="59.76"/></clipPath>
<g clip-path="url(#dcB00)">
<path d="M1134.4,1368.6l0,0 9-.1 4.6-.7 4.5-2.2 2.2-1.8 1.3-1.6 1.7-3.4 1.8-6.3 6.4-29 1.9-4.5 1-1.4 1-.5 .8,.4 1,1.2 2.5,5.5 6.4,20.7 4.5,11.8 3.1,4.9 4.5,3.9 2,1 2.5,.7 9.2,1.3 45.3,.1 0,0Z" fill="#7f8c8d" fill-opacity="0.45" stroke="#7e8584" stroke-width="2.5" stroke-linejoin="round"/>
<path d="M1134.4,1368.6l0-.1 3.5-.5 2.3-1.1 1.9-2.2 2-4 1.8-4.7 1.4-4.7 3.8-18.8 1.9-7.3 2.3-6.4 .9-1.2 .8-.5 .7,.4 .8,1.3 2,5.6 4.9,22.1 2.7,9 3,6.8 1.3,1.6 1.7,1.2 3,1.3 3.6,.9 11.5,1.2 59.4,.1 0,0Z" fill="#d65bd0" fill-opacity="0.5" stroke="#bb5cb6" stroke-width="2.5" stroke-linejoin="round"/>
</g>
<line x1="1128.50" y1="1314.42" x2="1128.50" y2="1372.68" stroke="#000" stroke-width="3"/>
<line x1="1127.00" y1="1371.18" x2="1257.50" y2="1371.18" stroke="#000" stroke-width="3"/>
<line x1="1120.50" y1="1368.60" x2="1128.50" y2="1368.60" stroke="#333333" stroke-width="3"/>
<text x="1112.70" y="1378.68" font-size="28" text-anchor="end" fill="#4d4d4d">0.0</text>
<line x1="1120.50" y1="1342.80" x2="1128.50" y2="1342.80" stroke="#333333" stroke-width="3"/>
<text x="1112.70" y="1352.88" font-size="28" text-anchor="end" fill="#4d4d4d">0.5</text>
<line x1="1120.50" y1="1317.00" x2="1128.50" y2="1317.00" stroke="#333333" stroke-width="3"/>
<text x="1112.70" y="1327.08" font-size="28" text-anchor="end" fill="#4d4d4d">1.0</text>
<clipPath id="dcB00t"><rect x="1088.50" y="1371.18" width="187.00" height="60"/></clipPath>
<g clip-path="url(#dcB00t)">
<line x1="1134.36" y1="1371.18" x2="1134.36" y2="1379.18" stroke="#333333" stroke-width="3"/>
<text x="1134.36" y="1407.76" font-size="28" text-anchor="middle" fill="#4d4d4d">0.5</text>
<line x1="1251.64" y1="1371.18" x2="1251.64" y2="1379.18" stroke="#333333" stroke-width="3"/>
<text x="1251.64" y="1407.76" font-size="28" text-anchor="middle" fill="#4d4d4d">1.0</text>
</g>
<clipPath id="dcB01"><rect x="1347.00" y="1311.42" width="129.00" height="59.76"/></clipPath>
<g clip-path="url(#dcB01)">
<path d="M1352.9,1368.6l0,0 8.4-.1 4.5-.8 4.3-2.1 1.9-1.6 1.2-1.5 1.1-2.7 1-3.9 6.6-33.6 1.2-3.9 1-1.3 .5,.3 .6,1.1 1.6,5.3 6.5,34.1 2.5,6.4 1.4,2 1.3,1.1 2.3,.8 3.2,.4 66.1,0 0,0Z" fill="#7f8c8d" fill-opacity="0.45" stroke="#7e8584" stroke-width="2.5" stroke-linejoin="round"/>
<path d="M1352.9,1368.6l0,0 23.1-.3 3.9-1.2 3.8-3 1.7-2.4 1.5-3.8 4.6-17.4 5.3-17.4 2.2-4.7 1-1 .8-.3 .9,.3 1,1 2.3,3.9 4.4,10 5,14.9 2.2,5.6 4.5,8.8 1.7,2.4 1.7,1.6 4,2 4.1,.9 37.5,.1 0,0Z" fill="#d65bd0" fill-opacity="0.5" stroke="#bb5cb6" stroke-width="2.5" stroke-linejoin="round"/>
</g>
<line x1="1347.00" y1="1314.42" x2="1347.00" y2="1372.68" stroke="#000" stroke-width="3"/>
<line x1="1345.50" y1="1371.18" x2="1476.00" y2="1371.18" stroke="#000" stroke-width="3"/>
<line x1="1339.00" y1="1368.60" x2="1347.00" y2="1368.60" stroke="#333333" stroke-width="3"/>
<text x="1331.20" y="1378.68" font-size="28" text-anchor="end" fill="#4d4d4d">0.0</text>
<line x1="1339.00" y1="1342.80" x2="1347.00" y2="1342.80" stroke="#333333" stroke-width="3"/>
<text x="1331.20" y="1352.88" font-size="28" text-anchor="end" fill="#4d4d4d">0.5</text>
<line x1="1339.00" y1="1317.00" x2="1347.00" y2="1317.00" stroke="#333333" stroke-width="3"/>
<text x="1331.20" y="1327.08" font-size="28" text-anchor="end" fill="#4d4d4d">1.0</text>
<clipPath id="dcB01t"><rect x="1307.00" y="1371.18" width="187.00" height="60"/></clipPath>
<g clip-path="url(#dcB01t)">
<line x1="1383.82" y1="1371.18" x2="1383.82" y2="1379.18" stroke="#333333" stroke-width="3"/>
<text x="1383.82" y="1407.76" font-size="28" text-anchor="middle" fill="#4d4d4d">0.05</text>
</g>
<clipPath id="dcB02"><rect x="1565.50" y="1311.42" width="129.00" height="59.76"/></clipPath>
<g clip-path="url(#dcB02)">
<path d="M1571.4,1368.6l0,0 49.1,0 2.7-.3 1.5-.7 2-2.8 2.2-5.6 1.5-6.4 3.2-17.7 1.7-7.2 2.7-8.4 1-1.8 1-.6 .7,.4 .8,1.3 1.7,4.7 8.2,32.5 2.7,7 2.2,3.6 2,1.3 3.3,.6 27,.1 0,0Z" fill="#7f8c8d" fill-opacity="0.45" stroke="#7e8584" stroke-width="2.5" stroke-linejoin="round"/>
<path d="M1571.4,1368.6l0,0 19.1,0 4.2-.4 3.3-.7 3.4-1.2 3.4-1.8 2.5-1.7 1.6-2 1.6-2.8 6.2-16.4 8-17.8 3.2-5 1.3-1.2 1.4-.5 1.3,.5 1.5,1.5 3.6,6.4 1.8,4.9 4.4,16.2 3,8.8 3,6.7 3.2,3.9 2.7,1.9 2.5,.6 31,.1 0,0Z" fill="#d65bd0" fill-opacity="0.5" stroke="#bb5cb6" stroke-width="2.5" stroke-linejoin="round"/>
</g>
<line x1="1565.50" y1="1314.42" x2="1565.50" y2="1372.68" stroke="#000" stroke-width="3"/>
<line x1="1564.00" y1="1371.18" x2="1694.50" y2="1371.18" stroke="#000" stroke-width="3"/>
<line x1="1557.50" y1="1368.60" x2="1565.50" y2="1368.60" stroke="#333333" stroke-width="3"/>
<text x="1549.70" y="1378.68" font-size="28" text-anchor="end" fill="#4d4d4d">0.0</text>
<line x1="1557.50" y1="1342.80" x2="1565.50" y2="1342.80" stroke="#333333" stroke-width="3"/>
<text x="1549.70" y="1352.88" font-size="28" text-anchor="end" fill="#4d4d4d">0.5</text>
<line x1="1557.50" y1="1317.00" x2="1565.50" y2="1317.00" stroke="#333333" stroke-width="3"/>
<text x="1549.70" y="1327.08" font-size="28" text-anchor="end" fill="#4d4d4d">1.0</text>
<clipPath id="dcB02t"><rect x="1525.50" y="1371.18" width="187.00" height="60"/></clipPath>
<g clip-path="url(#dcB02t)">
<line x1="1571.36" y1="1371.18" x2="1571.36" y2="1379.18" stroke="#333333" stroke-width="3"/>
<text x="1571.36" y="1407.76" font-size="28" text-anchor="middle" fill="#4d4d4d">0.6</text>
<line x1="1688.64" y1="1371.18" x2="1688.64" y2="1379.18" stroke="#333333" stroke-width="3"/>
<text x="1688.64" y="1407.76" font-size="28" text-anchor="middle" fill="#4d4d4d">1.0</text>
</g>
<clipPath id="dcB03"><rect x="1784.00" y="1311.42" width="129.00" height="59.76"/></clipPath>
<g clip-path="url(#dcB03)">
<path d="M1789.9,1368.6l0,0 4.3-.6 4.6-1.5 2.1-1.3 2-2.4 2.7-4.6 2.7-5.7 7.1-19.3 3.3-8.2 3.4-5.9 1.2-1.3 1.1-.5 1.2,.5 1.3,1.4 2.7,4.9 3.2,8.9 4.9,15.8 3.7,9.1 2.7,4.3 3.8,3.1 4.9,2.1 8,1.1 46.3,.1 0,0Z" fill="#7f8c8d" fill-opacity="0.45" stroke="#7e8584" stroke-width="2.5" stroke-linejoin="round"/>
<path d="M1789.9,1368.6l0-.4 4-.4 4.2-1.1 2.2-1.1 1.6-1.8 2.2-4 3.9-8.8 10.4-27.7 1.5-2.5 1.8-1.9 2.1-1.5 1.8-.4 1.5,.3 1.4,.9 2,2.9 8.4,23.5 5.3,12.1 3.4,4.7 4.8,4.2 1.9,1 2.2,.6 9.7,1.2 40.9,.2 0,0Z" fill="#d65bd0" fill-opacity="0.5" stroke="#bb5cb6" stroke-width="2.5" stroke-linejoin="round"/>
</g>
<line x1="1784.00" y1="1314.42" x2="1784.00" y2="1372.68" stroke="#000" stroke-width="3"/>
<line x1="1782.50" y1="1371.18" x2="1913.00" y2="1371.18" stroke="#000" stroke-width="3"/>
<line x1="1776.00" y1="1368.60" x2="1784.00" y2="1368.60" stroke="#333333" stroke-width="3"/>
<text x="1768.20" y="1378.68" font-size="28" text-anchor="end" fill="#4d4d4d">0.0</text>
<line x1="1776.00" y1="1342.80" x2="1784.00" y2="1342.80" stroke="#333333" stroke-width="3"/>
<text x="1768.20" y="1352.88" font-size="28" text-anchor="end" fill="#4d4d4d">0.5</text>
<line x1="1776.00" y1="1317.00" x2="1784.00" y2="1317.00" stroke="#333333" stroke-width="3"/>
<text x="1768.20" y="1327.08" font-size="28" text-anchor="end" fill="#4d4d4d">1.0</text>
<clipPath id="dcB03t"><rect x="1744.00" y="1371.18" width="187.00" height="60"/></clipPath>
<g clip-path="url(#dcB03t)">
<line x1="1810.22" y1="1371.18" x2="1810.22" y2="1379.18" stroke="#333333" stroke-width="3"/>
<text x="1810.22" y="1407.76" font-size="28" text-anchor="middle" fill="#4d4d4d">0.1</text>
<line x1="1888.84" y1="1371.18" x2="1888.84" y2="1379.18" stroke="#333333" stroke-width="3"/>
<text x="1888.84" y="1407.76" font-size="28" text-anchor="middle" fill="#4d4d4d">0.3</text>
</g>
<clipPath id="dcB04"><rect x="2002.50" y="1311.42" width="129.00" height="59.76"/></clipPath>
<g clip-path="url(#dcB04)">
<path d="M2008.4,1368.6l0-.1 1.5-.4 1.1-.8 1.7-3.3 1.5-6.3 6.1-31.9 2-6.2 1-1.9 1-.7 .8,.4 .9,1.4 1.8,5.8 4.7,25 2.5,10.3 2.2,5.5 1.2,1.6 1.3,1.1 3.2,.5 82.7,0 0,0Z" fill="#7f8c8d" fill-opacity="0.45" stroke="#7e8584" stroke-width="2.5" stroke-linejoin="round"/>
<path d="M2008.4,1368.6l0,0 4.7-.5 4.5-1.1 2.2-1.4 2.3-2.7 3.7-5.8 2.7-5.1 11.2-27.3 3.9-5.9 1.5-1.4 1.2-.4 1,.3 1,1 2.8,4.6 11.1,22 4.5,8.1 5.9,7.3 4.9,4.3 2.2,1.1 3.3,1 9.6,1.6 33,.3 0,0Z" fill="#d65bd0" fill-opacity="0.5" stroke="#bb5cb6" stroke-width="2.5" stroke-linejoin="round"/>
</g>
<line x1="2002.50" y1="1314.42" x2="2002.50" y2="1372.68" stroke="#000" stroke-width="3"/>
<line x1="2001.00" y1="1371.18" x2="2131.50" y2="1371.18" stroke="#000" stroke-width="3"/>
<line x1="1994.50" y1="1368.60" x2="2002.50" y2="1368.60" stroke="#333333" stroke-width="3"/>
<text x="1986.70" y="1378.68" font-size="28" text-anchor="end" fill="#4d4d4d">0.0</text>
<line x1="1994.50" y1="1342.80" x2="2002.50" y2="1342.80" stroke="#333333" stroke-width="3"/>
<text x="1986.70" y="1352.88" font-size="28" text-anchor="end" fill="#4d4d4d">0.5</text>
<line x1="1994.50" y1="1317.00" x2="2002.50" y2="1317.00" stroke="#333333" stroke-width="3"/>
<text x="1986.70" y="1327.08" font-size="28" text-anchor="end" fill="#4d4d4d">1.0</text>
<clipPath id="dcB04t"><rect x="1962.50" y="1371.18" width="187.00" height="60"/></clipPath>
<g clip-path="url(#dcB04t)">
<line x1="2008.65" y1="1371.18" x2="2008.65" y2="1379.18" stroke="#333333" stroke-width="3"/>
<text x="2008.65" y="1407.76" font-size="28" text-anchor="middle" fill="#4d4d4d">0.0</text>
<line x1="2086.82" y1="1371.18" x2="2086.82" y2="1379.18" stroke="#333333" stroke-width="3"/>
<text x="2086.82" y="1407.76" font-size="28" text-anchor="middle" fill="#4d4d4d">0.1</text>
</g>
<text x="993.50" y="1502.20" font-size="17.5" text-anchor="start" fill="#000" font-weight="bold">2153</text>
<clipPath id="dcB10"><rect x="1128.50" y="1443.92" width="129.00" height="59.76"/></clipPath>
<g clip-path="url(#dcB10)">
<path d="M1134.4,1501.1l0,0 14.7-.3 10.3-.7 4.5-1.6 4.4-3.2 2.1-3.2 2-5.5 8.1-30.8 2.3-4.4 1.2-1.1 1-.3 1.2,.5 1.2,1.3 3.2,6.2 1.8,5.5 3.7,13.9 2.5,6.6 3.7,6.8 3.4,3.7 3,1.9 3.3,1.5 7.8,1.6 8.7,.8 23.1,.8 0,0Z" fill="#7f8c8d" fill-opacity="0.45" stroke="#7e8584" stroke-width="2.5" stroke-linejoin="round"/>
<path d="M1134.4,1501.1l0-.7 5.8-.4 5.9-1.2 3.2-1.1 2-1.9 2.5-4.8 3.7-9.6 5-18.1 1.9-5.4 3.2-6.1 1.2-1.3 1.1-.5 1.4,.6 1.3,1.5 3.4,6.5 1.6,5 4.4,16.1 3.9,9.7 2.7,4.4 3.6,3 2.7,1.4 2.5,.9 8.1,1 21,.7 25.1,.3 0,0Z" fill="#d65bd0" fill-opacity="0.5" stroke="#bb5cb6" stroke-width="2.5" stroke-linejoin="round"/>
</g>
<line x1="1128.50" y1="1446.92" x2="1128.50" y2="1505.18" stroke="#000" stroke-width="3"/>
<line x1="1127.00" y1="1503.68" x2="1257.50" y2="1503.68" stroke="#000" stroke-width="3"/>
<line x1="1120.50" y1="1501.10" x2="1128.50" y2="1501.10" stroke="#333333" stroke-width="3"/>
<text x="1112.70" y="1511.18" font-size="28" text-anchor="end" fill="#4d4d4d">0.0</text>
<line x1="1120.50" y1="1475.30" x2="1128.50" y2="1475.30" stroke="#333333" stroke-width="3"/>
<text x="1112.70" y="1485.38" font-size="28" text-anchor="end" fill="#4d4d4d">0.5</text>
<line x1="1120.50" y1="1449.50" x2="1128.50" y2="1449.50" stroke="#333333" stroke-width="3"/>
<text x="1112.70" y="1459.58" font-size="28" text-anchor="end" fill="#4d4d4d">1.0</text>
<clipPath id="dcB10t"><rect x="1088.50" y="1503.68" width="187.00" height="60"/></clipPath>
<g clip-path="url(#dcB10t)">
<line x1="1134.36" y1="1503.68" x2="1134.36" y2="1511.68" stroke="#333333" stroke-width="3"/>
<text x="1134.36" y="1540.26" font-size="28" text-anchor="middle" fill="#4d4d4d">0.5</text>
<line x1="1251.64" y1="1503.68" x2="1251.64" y2="1511.68" stroke="#333333" stroke-width="3"/>
<text x="1251.64" y="1540.26" font-size="28" text-anchor="middle" fill="#4d4d4d">1.0</text>
</g>
<clipPath id="dcB11"><rect x="1347.00" y="1443.92" width="129.00" height="59.76"/></clipPath>
<g clip-path="url(#dcB11)">
<path d="M1352.9,1501.1l0-.1 8-1 3.7-.9 4-1.9 2-2.2 1.2-2.6 1.4-4.8 7.3-32.7 1.4-3.8 1.2-1.1 1,.8 1,2 2.5,8.2 1.7,7.5 3,17.1 1.3,5.4 2.4,5.5 1.2,1.7 1.3,1.1 2.3,.8 2.9,.3 66.4,.7 0,0Z" fill="#7f8c8d" fill-opacity="0.45" stroke="#7e8584" stroke-width="2.5" stroke-linejoin="round"/>
<path d="M1352.9,1501.1l0,0 12.2-.4 8.9-.7 4.5-1.7 4.4-3.4 2-3 1.9-4.6 10-33.3 1.5-3.1 1.5-.9 1.4,.5 1.5,1.5 4,6.3 2,4.7 4.4,13.4 2.5,6.4 5,10.2 1.9,2.7 1.7,1.6 4.7,1.9 5.5,1.1 35.7,.8 0,0Z" fill="#d65bd0" fill-opacity="0.5" stroke="#bb5cb6" stroke-width="2.5" stroke-linejoin="round"/>
</g>
<line x1="1347.00" y1="1446.92" x2="1347.00" y2="1505.18" stroke="#000" stroke-width="3"/>
<line x1="1345.50" y1="1503.68" x2="1476.00" y2="1503.68" stroke="#000" stroke-width="3"/>
<line x1="1339.00" y1="1501.10" x2="1347.00" y2="1501.10" stroke="#333333" stroke-width="3"/>
<text x="1331.20" y="1511.18" font-size="28" text-anchor="end" fill="#4d4d4d">0.0</text>
<line x1="1339.00" y1="1475.30" x2="1347.00" y2="1475.30" stroke="#333333" stroke-width="3"/>
<text x="1331.20" y="1485.38" font-size="28" text-anchor="end" fill="#4d4d4d">0.5</text>
<line x1="1339.00" y1="1449.50" x2="1347.00" y2="1449.50" stroke="#333333" stroke-width="3"/>
<text x="1331.20" y="1459.58" font-size="28" text-anchor="end" fill="#4d4d4d">1.0</text>
<clipPath id="dcB11t"><rect x="1307.00" y="1503.68" width="187.00" height="60"/></clipPath>
<g clip-path="url(#dcB11t)">
<line x1="1383.82" y1="1503.68" x2="1383.82" y2="1511.68" stroke="#333333" stroke-width="3"/>
<text x="1383.82" y="1540.26" font-size="28" text-anchor="middle" fill="#4d4d4d">0.05</text>
</g>
<clipPath id="dcB12"><rect x="1565.50" y="1443.92" width="129.00" height="59.76"/></clipPath>
<g clip-path="url(#dcB12)">
<path d="M1571.4,1501.1l0,0 39.2-.7 3.4-.3 2-1.1 1.7-1.8 1.6-2.6 4.1-8.4 2.2-6.7 3.5-15.5 1.7-5.8 2.8-6.3 1.2-1.5 1-.4 1,.4 1,1.1 2.7,5.3 2.8,7.7 5.6,19.6 3.7,7.9 3.2,4.5 3.5,2.2 5.5,1.5 23.8,.9 0,0Z" fill="#7f8c8d" fill-opacity="0.45" stroke="#7e8584" stroke-width="2.5" stroke-linejoin="round"/>
<path d="M1571.4,1501.1l0,0 12.7-.6 6.6-.8 6.8-2 2.9-1.3 1.7-1.2 2.5-3.3 2.8-5.5 5.9-13.5 6.4-16.1 1.5-2.4 2.2-2.6 1.7-1.3 1.5-.5 1,.3 1.1,1.1 2.7,4.6 2.7,6.2 4.7,14.1 2.4,5.8 5,9.8 1.8,2.7 1.9,1.9 4.7,2.6 4.5,1.2 29.5,.8 0,0Z" fill="#d65bd0" fill-opacity="0.5" stroke="#bb5cb6" stroke-width="2.5" stroke-linejoin="round"/>
</g>
<line x1="1565.50" y1="1446.92" x2="1565.50" y2="1505.18" stroke="#000" stroke-width="3"/>
<line x1="1564.00" y1="1503.68" x2="1694.50" y2="1503.68" stroke="#000" stroke-width="3"/>
<line x1="1557.50" y1="1501.10" x2="1565.50" y2="1501.10" stroke="#333333" stroke-width="3"/>
<text x="1549.70" y="1511.18" font-size="28" text-anchor="end" fill="#4d4d4d">0.0</text>
<line x1="1557.50" y1="1475.30" x2="1565.50" y2="1475.30" stroke="#333333" stroke-width="3"/>
<text x="1549.70" y="1485.38" font-size="28" text-anchor="end" fill="#4d4d4d">0.5</text>
<line x1="1557.50" y1="1449.50" x2="1565.50" y2="1449.50" stroke="#333333" stroke-width="3"/>
<text x="1549.70" y="1459.58" font-size="28" text-anchor="end" fill="#4d4d4d">1.0</text>
<clipPath id="dcB12t"><rect x="1525.50" y="1503.68" width="187.00" height="60"/></clipPath>
<g clip-path="url(#dcB12t)">
<line x1="1571.36" y1="1503.68" x2="1571.36" y2="1511.68" stroke="#333333" stroke-width="3"/>
<text x="1571.36" y="1540.26" font-size="28" text-anchor="middle" fill="#4d4d4d">0.6</text>
<line x1="1688.64" y1="1503.68" x2="1688.64" y2="1511.68" stroke="#333333" stroke-width="3"/>
<text x="1688.64" y="1540.26" font-size="28" text-anchor="middle" fill="#4d4d4d">1.0</text>
</g>
<clipPath id="dcB13"><rect x="1784.00" y="1443.92" width="129.00" height="59.76"/></clipPath>
<g clip-path="url(#dcB13)">
<path d="M1789.9,1501.1l0-1.1 3.7-.9 4.7-2.5 3.6-2.6 3.4-3.5 3.4-4.5 2.3-3.8 11.6-23.9 5.2-6.6 1.8-1.4 1.7-.4 1.5,.4 1.7,1.4 2.2,2.6 1.6,2.6 3.1,7 8.9,24 3.8,6.9 1.7,2.3 1.5,1.3 4.7,1.7 6,.9 39.1,.1 0,0Z" fill="#7f8c8d" fill-opacity="0.45" stroke="#7e8584" stroke-width="2.5" stroke-linejoin="round"/>
<path d="M1789.9,1501.1l0-2.2 3.8-.6 4.4-1.8 3.3-2 2.9-2.7 3.7-4.8 2.8-4.5 9.6-20.3 2.3-4.1 3.1-3.6 3.2-3 2.5-1.6 2.2-.4 2,.4 2,1.2 1.7,1.6 1.3,2.1 1.7,4.1 9.7,28 4,7.5 1.7,2.4 1.5,1.4 1.5,.8 2.7,.7 7.9,1 35.7,.4 0,0Z" fill="#d65bd0" fill-opacity="0.5" stroke="#bb5cb6" stroke-width="2.5" stroke-linejoin="round"/>
</g>
<line x1="1784.00" y1="1446.92" x2="1784.00" y2="1505.18" stroke="#000" stroke-width="3"/>
<line x1="1782.50" y1="1503.68" x2="1913.00" y2="1503.68" stroke="#000" stroke-width="3"/>
<line x1="1776.00" y1="1501.10" x2="1784.00" y2="1501.10" stroke="#333333" stroke-width="3"/>
<text x="1768.20" y="1511.18" font-size="28" text-anchor="end" fill="#4d4d4d">0.0</text>
<line x1="1776.00" y1="1475.30" x2="1784.00" y2="1475.30" stroke="#333333" stroke-width="3"/>
<text x="1768.20" y="1485.38" font-size="28" text-anchor="end" fill="#4d4d4d">0.5</text>
<line x1="1776.00" y1="1449.50" x2="1784.00" y2="1449.50" stroke="#333333" stroke-width="3"/>
<text x="1768.20" y="1459.58" font-size="28" text-anchor="end" fill="#4d4d4d">1.0</text>
<clipPath id="dcB13t"><rect x="1744.00" y="1503.68" width="187.00" height="60"/></clipPath>
<g clip-path="url(#dcB13t)">
<line x1="1810.22" y1="1503.68" x2="1810.22" y2="1511.68" stroke="#333333" stroke-width="3"/>
<text x="1810.22" y="1540.26" font-size="28" text-anchor="middle" fill="#4d4d4d">0.1</text>
<line x1="1888.84" y1="1503.68" x2="1888.84" y2="1511.68" stroke="#333333" stroke-width="3"/>
<text x="1888.84" y="1540.26" font-size="28" text-anchor="middle" fill="#4d4d4d">0.3</text>
</g>
<clipPath id="dcB14"><rect x="2002.50" y="1443.92" width="129.00" height="59.76"/></clipPath>
<g clip-path="url(#dcB14)">
<path d="M2008.4,1501.1l0-.2 1.3-.5 1.2-1 1.5-3.5 1.3-6.4 5.1-30.6 1.8-7.2 .8-1.8 .7-.4 1,1.2 1.2,3.9 5.4,26.8 2.5,9.5 2.7,6.4 1.5,1.8 1.8,1.4 3.2,.5 84.2,.1 0,0Z" fill="#7f8c8d" fill-opacity="0.45" stroke="#7e8584" stroke-width="2.5" stroke-linejoin="round"/>
<path d="M2008.4,1501.1l0-.1 3.5-.7 3.7-1.7 2.2-2 2.5-3.6 3.2-6.6 5-15.8 5.7-15 2.5-4.6 1.2-1.2 1.2-.3 1.1,.4 1.2,.9 2.9,3.5 13.7,28.6 6.2,9.6 2,2.3 2.1,1.6 6.5,2.6 6.4,1.2 44.4,.9 0,0Z" fill="#d65bd0" fill-opacity="0.5" stroke="#bb5cb6" stroke-width="2.5" stroke-linejoin="round"/>
</g>
<line x1="2002.50" y1="1446.92" x2="2002.50" y2="1505.18" stroke="#000" stroke-width="3"/>
<line x1="2001.00" y1="1503.68" x2="2131.50" y2="1503.68" stroke="#000" stroke-width="3"/>
<line x1="1994.50" y1="1501.10" x2="2002.50" y2="1501.10" stroke="#333333" stroke-width="3"/>
<text x="1986.70" y="1511.18" font-size="28" text-anchor="end" fill="#4d4d4d">0.0</text>
<line x1="1994.50" y1="1475.30" x2="2002.50" y2="1475.30" stroke="#333333" stroke-width="3"/>
<text x="1986.70" y="1485.38" font-size="28" text-anchor="end" fill="#4d4d4d">0.5</text>
<line x1="1994.50" y1="1449.50" x2="2002.50" y2="1449.50" stroke="#333333" stroke-width="3"/>
<text x="1986.70" y="1459.58" font-size="28" text-anchor="end" fill="#4d4d4d">1.0</text>
<clipPath id="dcB14t"><rect x="1962.50" y="1503.68" width="187.00" height="60"/></clipPath>
<g clip-path="url(#dcB14t)">
<line x1="2008.65" y1="1503.68" x2="2008.65" y2="1511.68" stroke="#333333" stroke-width="3"/>
<text x="2008.65" y="1540.26" font-size="28" text-anchor="middle" fill="#4d4d4d">0.0</text>
<line x1="2086.82" y1="1503.68" x2="2086.82" y2="1511.68" stroke="#333333" stroke-width="3"/>
<text x="2086.82" y="1540.26" font-size="28" text-anchor="middle" fill="#4d4d4d">0.1</text>
</g>
<text x="993.50" y="1634.70" font-size="17.5" text-anchor="start" fill="#000" font-weight="bold">2154</text>
<clipPath id="dcB20"><rect x="1128.50" y="1576.42" width="129.00" height="59.76"/></clipPath>
<g clip-path="url(#dcB20)">
<path d="M1134.4,1633.6l0,0 54.7-.1 4.5-.6 3.7-1.6 4.7-3.6 2.8-4.2 4.2-10.1 4.6-16.6 1.8-5.4 4-7 1.7-1.7 1.5-.6 2.2,1 2.5,2.9 4.9,10.6 3.3,6.1 11.9,19.4 2.9,4.4 1.3,1.4 0,5.7Z" fill="#7f8c8d" fill-opacity="0.45" stroke="#7e8584" stroke-width="2.5" stroke-linejoin="round"/>
<path d="M1134.4,1633.6l0,0 31-.6 6.4-.4 2.2-.9 2.6-3.2 3.1-5.6 6-18.3 5.4-12.1 2.3-3.8 3.2-4.1 2-1.8 1.9-.7 1.1,.3 1.4,1 3.2,4 12.9,28.7 3.5,5.7 5,6.1 3.7,2.7 6.2,2 5.7,.9 8.4,.1 0,0Z" fill="#d65bd0" fill-opacity="0.5" stroke="#bb5cb6" stroke-width="2.5" stroke-linejoin="round"/>
</g>
<line x1="1128.50" y1="1579.42" x2="1128.50" y2="1637.68" stroke="#000" stroke-width="3"/>
<line x1="1127.00" y1="1636.18" x2="1257.50" y2="1636.18" stroke="#000" stroke-width="3"/>
<line x1="1120.50" y1="1633.60" x2="1128.50" y2="1633.60" stroke="#333333" stroke-width="3"/>
<text x="1112.70" y="1643.68" font-size="28" text-anchor="end" fill="#4d4d4d">0.0</text>
<line x1="1120.50" y1="1607.80" x2="1128.50" y2="1607.80" stroke="#333333" stroke-width="3"/>
<text x="1112.70" y="1617.88" font-size="28" text-anchor="end" fill="#4d4d4d">0.5</text>
<line x1="1120.50" y1="1582.00" x2="1128.50" y2="1582.00" stroke="#333333" stroke-width="3"/>
<text x="1112.70" y="1592.08" font-size="28" text-anchor="end" fill="#4d4d4d">1.0</text>
<clipPath id="dcB20t"><rect x="1088.50" y="1636.18" width="187.00" height="60"/></clipPath>
<g clip-path="url(#dcB20t)">
<line x1="1134.36" y1="1636.18" x2="1134.36" y2="1644.18" stroke="#333333" stroke-width="3"/>
<text x="1134.36" y="1672.76" font-size="28" text-anchor="middle" fill="#4d4d4d">0.3</text>
<line x1="1251.64" y1="1636.18" x2="1251.64" y2="1644.18" stroke="#333333" stroke-width="3"/>
<text x="1251.64" y="1672.76" font-size="28" text-anchor="middle" fill="#4d4d4d">0.5</text>
</g>
<clipPath id="dcB21"><rect x="1347.00" y="1576.42" width="129.00" height="59.76"/></clipPath>
<g clip-path="url(#dcB21)">
<path d="M1352.9,1633.6l0,0 16.9,0 3.9-.4 5.7-1.7 2.8-1.5 1.9-1.4 2.8-4.3 3.7-8.1 9.7-29.1 2.1-3.5 1.1-1.1 1-.4 1,.5 .9,1.1 2.2,5.2 6.2,24.7 2.7,8.7 2.8,5.6 3.2,3.8 2.5,1.2 3.7,.6 40.4,.1 0,0Z" fill="#7f8c8d" fill-opacity="0.45" stroke="#7e8584" stroke-width="2.5" stroke-linejoin="round"/>
<path d="M1352.9,1633.6l0,0 34.9-.1 8.2-1.3 3-.9 2-1.1 3.5-3.8 4.9-8 2.5-5.1 5.1-12.8 5.8-13.4 2.4-3.8 1-.9 1-.3 1.3,.5 1.5,1.3 3.9,5.7 11.2,29.4 2.2,4.4 2.5,3.4 3.4,3.4 3.2,1.8 6.5,1.4 7.2,.2 0,0Z" fill="#d65bd0" fill-opacity="0.5" stroke="#bb5cb6" stroke-width="2.5" stroke-linejoin="round"/>
</g>
<line x1="1347.00" y1="1579.42" x2="1347.00" y2="1637.68" stroke="#000" stroke-width="3"/>
<line x1="1345.50" y1="1636.18" x2="1476.00" y2="1636.18" stroke="#000" stroke-width="3"/>
<line x1="1339.00" y1="1633.60" x2="1347.00" y2="1633.60" stroke="#333333" stroke-width="3"/>
<text x="1331.20" y="1643.68" font-size="28" text-anchor="end" fill="#4d4d4d">0.0</text>
<line x1="1339.00" y1="1607.80" x2="1347.00" y2="1607.80" stroke="#333333" stroke-width="3"/>
<text x="1331.20" y="1617.88" font-size="28" text-anchor="end" fill="#4d4d4d">0.5</text>
<line x1="1339.00" y1="1582.00" x2="1347.00" y2="1582.00" stroke="#333333" stroke-width="3"/>
<text x="1331.20" y="1592.08" font-size="28" text-anchor="end" fill="#4d4d4d">1.0</text>
<clipPath id="dcB21t"><rect x="1307.00" y="1636.18" width="187.00" height="60"/></clipPath>
<g clip-path="url(#dcB21t)">
<line x1="1383.82" y1="1636.18" x2="1383.82" y2="1644.18" stroke="#333333" stroke-width="3"/>
<text x="1383.82" y="1672.76" font-size="28" text-anchor="middle" fill="#4d4d4d">0.05</text>
</g>
<clipPath id="dcB22"><rect x="1565.50" y="1576.42" width="129.00" height="59.76"/></clipPath>
<g clip-path="url(#dcB22)">
<path d="M1571.4,1633.6l0,0 53.1-.1 5.4-.8 5.6-2.2 5.7-3.3 3.6-3 4.4-4.6 8.6-10.1 3.3-4.6 2.5-4.1 6.7-14.9 2.1-2.8 1.5-1 .8,.5 .9,1.4 1.6,6.1 4.4,30.2 1.7,8.5 .8,2.2 1.2,1.6 1.3,.8 2,.2 0,0Z" fill="#7f8c8d" fill-opacity="0.45" stroke="#7e8584" stroke-width="2.5" stroke-linejoin="round"/>
<path d="M1571.4,1633.6l0,0 40.7-.1 8.1-1.6 8-3.1 3.2-2.1 3.5-3.2 6.1-6.3 3.8-4.7 5.4-7.9 5.2-10.8 2-3.1 1.9-1.7 4.2-3.1 3.3-3.2 1.2-.6 .7,.3 .6,.8 1.4,3.9 6.4,30.9 2.3,8 1.9,3.8 1.8,2.2 2.2,1.1 3.3,.5 0,0Z" fill="#d65bd0" fill-opacity="0.5" stroke="#bb5cb6" stroke-width="2.5" stroke-linejoin="round"/>
</g>
<line x1="1565.50" y1="1579.42" x2="1565.50" y2="1637.68" stroke="#000" stroke-width="3"/>
<line x1="1564.00" y1="1636.18" x2="1694.50" y2="1636.18" stroke="#000" stroke-width="3"/>
<line x1="1557.50" y1="1633.60" x2="1565.50" y2="1633.60" stroke="#333333" stroke-width="3"/>
<text x="1549.70" y="1643.68" font-size="28" text-anchor="end" fill="#4d4d4d">0.0</text>
<line x1="1557.50" y1="1607.80" x2="1565.50" y2="1607.80" stroke="#333333" stroke-width="3"/>
<text x="1549.70" y="1617.88" font-size="28" text-anchor="end" fill="#4d4d4d">0.5</text>
<line x1="1557.50" y1="1582.00" x2="1565.50" y2="1582.00" stroke="#333333" stroke-width="3"/>
<text x="1549.70" y="1592.08" font-size="28" text-anchor="end" fill="#4d4d4d">1.0</text>
<clipPath id="dcB22t"><rect x="1525.50" y="1636.18" width="187.00" height="60"/></clipPath>
<g clip-path="url(#dcB22t)">
<line x1="1571.36" y1="1636.18" x2="1571.36" y2="1644.18" stroke="#333333" stroke-width="3"/>
<text x="1571.36" y="1672.76" font-size="28" text-anchor="middle" fill="#4d4d4d">0.6</text>
<line x1="1688.64" y1="1636.18" x2="1688.64" y2="1644.18" stroke="#333333" stroke-width="3"/>
<text x="1688.64" y="1672.76" font-size="28" text-anchor="middle" fill="#4d4d4d">1.0</text>
</g>
<clipPath id="dcB23"><rect x="1784.00" y="1576.42" width="129.00" height="59.76"/></clipPath>
<g clip-path="url(#dcB23)">
<path d="M1789.9,1633.6l0,0 3.2-.2 2.1-.7 2-1.5 1.6-2.2 3.1-9.2 5.2-20.4 2.9-9.5 2.7-5.8 1.3-1.6 1.4-.5 1.1,.4 1.5,1.4 2.6,4.3 10.7,29 2.5,6 3.5,5.3 3.6,3.2 4.3,1.3 5.4,.7 56.5,0 0,0Z" fill="#7f8c8d" fill-opacity="0.45" stroke="#7e8584" stroke-width="2.5" stroke-linejoin="round"/>
<path d="M1789.9,1633.6l0-.1 1.5-.4 1.1-.8 1.7-2.9 10.4-40 2.4-5.4 1.3-1.5 1.2-.5 1.2,.3 1.3,1.2 2.5,4 8.8,23.5 5,11.1 1.7,2.5 2.1,2.5 2.7,2.4 2.4,1.6 4.8,1.5 7.8,1 57.3,0 0,0Z" fill="#d65bd0" fill-opacity="0.5" stroke="#bb5cb6" stroke-width="2.5" stroke-linejoin="round"/>
</g>
<line x1="1784.00" y1="1579.42" x2="1784.00" y2="1637.68" stroke="#000" stroke-width="3"/>
<line x1="1782.50" y1="1636.18" x2="1913.00" y2="1636.18" stroke="#000" stroke-width="3"/>
<line x1="1776.00" y1="1633.60" x2="1784.00" y2="1633.60" stroke="#333333" stroke-width="3"/>
<text x="1768.20" y="1643.68" font-size="28" text-anchor="end" fill="#4d4d4d">0.0</text>
<line x1="1776.00" y1="1607.80" x2="1784.00" y2="1607.80" stroke="#333333" stroke-width="3"/>
<text x="1768.20" y="1617.88" font-size="28" text-anchor="end" fill="#4d4d4d">0.5</text>
<line x1="1776.00" y1="1582.00" x2="1784.00" y2="1582.00" stroke="#333333" stroke-width="3"/>
<text x="1768.20" y="1592.08" font-size="28" text-anchor="end" fill="#4d4d4d">1.0</text>
<clipPath id="dcB23t"><rect x="1744.00" y="1636.18" width="187.00" height="60"/></clipPath>
<g clip-path="url(#dcB23t)">
<line x1="1789.86" y1="1636.18" x2="1789.86" y2="1644.18" stroke="#333333" stroke-width="3"/>
<text x="1789.86" y="1672.76" font-size="28" text-anchor="middle" fill="#4d4d4d">0.0</text>
<line x1="1868.74" y1="1636.18" x2="1868.74" y2="1644.18" stroke="#333333" stroke-width="3"/>
<text x="1868.74" y="1672.76" font-size="28" text-anchor="middle" fill="#4d4d4d">0.1</text>
</g>
<clipPath id="dcB24"><rect x="2002.50" y="1576.42" width="129.00" height="59.76"/></clipPath>
<g clip-path="url(#dcB24)">
<path d="M2008.4,1633.6l0-20.3 3-24.9 1.3-4.7 .9-1.3 .8-.4 .7,.5 .6,1.2 4.2,12.6 2.7,5.4 1.7,2 2.4,1.9 8.5,5.3 3.9,1.2 10.4,1.5 7.3,2.3 6.3,2.6 16.9,9 9.9,3.3 6.2,1.2 9.9,1.3 19.6,.3 0,0Z" fill="#7f8c8d" fill-opacity="0.45" stroke="#7e8584" stroke-width="2.5" stroke-linejoin="round"/>
<path d="M2008.4,1633.6l0-7.6 4.2-25.8 2.6-10.6 1.6-3.4 1.6-2.1 2.7-1.7 2.7-.4 3.2,1 12.2,7.7 5.7,2.7 8.8,3.2 19.1,5.8 6.7,2.7 35.4,21.2 7.7,3.3 3,3 0,1Z" fill="#d65bd0" fill-opacity="0.5" stroke="#bb5cb6" stroke-width="2.5" stroke-linejoin="round"/>
</g>
<line x1="2002.50" y1="1579.42" x2="2002.50" y2="1637.68" stroke="#000" stroke-width="3"/>
<line x1="2001.00" y1="1636.18" x2="2131.50" y2="1636.18" stroke="#000" stroke-width="3"/>
<line x1="1994.50" y1="1633.60" x2="2002.50" y2="1633.60" stroke="#333333" stroke-width="3"/>
<text x="1986.70" y="1643.68" font-size="28" text-anchor="end" fill="#4d4d4d">0.0</text>
<line x1="1994.50" y1="1607.80" x2="2002.50" y2="1607.80" stroke="#333333" stroke-width="3"/>
<text x="1986.70" y="1617.88" font-size="28" text-anchor="end" fill="#4d4d4d">0.5</text>
<line x1="1994.50" y1="1582.00" x2="2002.50" y2="1582.00" stroke="#333333" stroke-width="3"/>
<text x="1986.70" y="1592.08" font-size="28" text-anchor="end" fill="#4d4d4d">1.0</text>
<clipPath id="dcB24t"><rect x="1962.50" y="1636.18" width="187.00" height="60"/></clipPath>
<g clip-path="url(#dcB24t)">
<line x1="2008.65" y1="1636.18" x2="2008.65" y2="1644.18" stroke="#333333" stroke-width="3"/>
<text x="2008.65" y="1672.76" font-size="28" text-anchor="middle" fill="#4d4d4d">0.0</text>
<line x1="2086.82" y1="1636.18" x2="2086.82" y2="1644.18" stroke="#333333" stroke-width="3"/>
<text x="2086.82" y="1672.76" font-size="28" text-anchor="middle" fill="#4d4d4d">0.1</text>
</g>
<text x="993.50" y="1767.20" font-size="17.5" text-anchor="start" fill="#000" font-weight="bold">2155</text>
<clipPath id="dcB30"><rect x="1128.50" y="1708.92" width="129.00" height="59.76"/></clipPath>
<g clip-path="url(#dcB30)">
<path d="M1134.4,1766.1l0,0 23.3-.8 2.3-.6 2-1.8 2.7-4.5 1.7-4.8 4-21.6 2.7-10.6 1.9-4.8 .8-1.2 .8-.4 .9,.4 1,1.2 2.2,4.5 5.2,18.4 3.8,9.9 4.9,8.6 2,2.7 1.9,1.7 4.7,2 4.6,1 43.8,.7 0,0Z" fill="#7f8c8d" fill-opacity="0.45" stroke="#7e8584" stroke-width="2.5" stroke-linejoin="round"/>
<path d="M1134.4,1766.1l0-.7 3.3-.5 2.4-1 1.6-1.8 1.9-3.3 2-4.9 1.3-4.4 4.1-19.6 1.7-6.3 3-6.4 1.3-1.7 1.2-.5 1,.4 1,1.1 2.3,4.8 5.4,18.9 4.2,10.5 2,3.6 2.7,3.6 2.5,2.7 2.2,1.7 6.4,2.1 6.9,1 56.8,.7 0,0Z" fill="#d65bd0" fill-opacity="0.5" stroke="#bb5cb6" stroke-width="2.5" stroke-linejoin="round"/>
</g>
<line x1="1128.50" y1="1711.92" x2="1128.50" y2="1770.18" stroke="#000" stroke-width="3"/>
<line x1="1127.00" y1="1768.68" x2="1257.50" y2="1768.68" stroke="#000" stroke-width="3"/>
<line x1="1120.50" y1="1766.10" x2="1128.50" y2="1766.10" stroke="#333333" stroke-width="3"/>
<text x="1112.70" y="1776.18" font-size="28" text-anchor="end" fill="#4d4d4d">0.0</text>
<line x1="1120.50" y1="1740.30" x2="1128.50" y2="1740.30" stroke="#333333" stroke-width="3"/>
<text x="1112.70" y="1750.38" font-size="28" text-anchor="end" fill="#4d4d4d">0.5</text>
<line x1="1120.50" y1="1714.50" x2="1128.50" y2="1714.50" stroke="#333333" stroke-width="3"/>
<text x="1112.70" y="1724.58" font-size="28" text-anchor="end" fill="#4d4d4d">1.0</text>
<clipPath id="dcB30t"><rect x="1088.50" y="1768.68" width="187.00" height="60"/></clipPath>
<g clip-path="url(#dcB30t)">
<line x1="1134.36" y1="1768.68" x2="1134.36" y2="1776.68" stroke="#333333" stroke-width="3"/>
<text x="1134.36" y="1805.26" font-size="28" text-anchor="middle" fill="#4d4d4d">0.3</text>
<line x1="1251.64" y1="1768.68" x2="1251.64" y2="1776.68" stroke="#333333" stroke-width="3"/>
<text x="1251.64" y="1805.26" font-size="28" text-anchor="middle" fill="#4d4d4d">0.5</text>
</g>
<clipPath id="dcB31"><rect x="1347.00" y="1708.92" width="129.00" height="59.76"/></clipPath>
<g clip-path="url(#dcB31)">
<path d="M1352.9,1766.1l0,0 9.9-.9 4-.8 4.7-2 2.7-2.3 2.2-4.5 2.6-8.7 5.9-26.1 1.9-4.1 1-1.2 1-.5 .8,.4 .8,1.3 1.9,5.4 2,8 3.7,17.5 2.5,8.9 2,4.8 2.4,2.4 2.7,1.3 2.6,.4 59.9,.7 0,0Z" fill="#7f8c8d" fill-opacity="0.45" stroke="#7e8584" stroke-width="2.5" stroke-linejoin="round"/>
<path d="M1352.9,1766.1l0,0 15.6-.3 11.4-.7 4.7-1.5 4.5-3.3 2.7-3.8 2.7-6.8 2.3-7.6 3.7-15.1 2-6.4 2-4.4 .9-.9 .8-.3 1,.5 1.2,1.3 2.8,5.5 1.9,5.3 3.9,14.5 2.1,6.6 3.9,9.3 1.5,2.6 1.5,1.7 4,2 4.9,1 35.2,.8 0,0Z" fill="#d65bd0" fill-opacity="0.5" stroke="#bb5cb6" stroke-width="2.5" stroke-linejoin="round"/>
</g>
<line x1="1347.00" y1="1711.92" x2="1347.00" y2="1770.18" stroke="#000" stroke-width="3"/>
<line x1="1345.50" y1="1768.68" x2="1476.00" y2="1768.68" stroke="#000" stroke-width="3"/>
<line x1="1339.00" y1="1766.10" x2="1347.00" y2="1766.10" stroke="#333333" stroke-width="3"/>
<text x="1331.20" y="1776.18" font-size="28" text-anchor="end" fill="#4d4d4d">0.0</text>
<line x1="1339.00" y1="1740.30" x2="1347.00" y2="1740.30" stroke="#333333" stroke-width="3"/>
<text x="1331.20" y="1750.38" font-size="28" text-anchor="end" fill="#4d4d4d">0.5</text>
<line x1="1339.00" y1="1714.50" x2="1347.00" y2="1714.50" stroke="#333333" stroke-width="3"/>
<text x="1331.20" y="1724.58" font-size="28" text-anchor="end" fill="#4d4d4d">1.0</text>
<clipPath id="dcB31t"><rect x="1307.00" y="1768.68" width="187.00" height="60"/></clipPath>
<g clip-path="url(#dcB31t)">
<line x1="1383.82" y1="1768.68" x2="1383.82" y2="1776.68" stroke="#333333" stroke-width="3"/>
<text x="1383.82" y="1805.26" font-size="28" text-anchor="middle" fill="#4d4d4d">0.05</text>
</g>
<clipPath id="dcB32"><rect x="1565.50" y="1708.92" width="129.00" height="59.76"/></clipPath>
<g clip-path="url(#dcB32)">
<path d="M1571.4,1766.1l0,0 26-2.1 8.9-1 5.7-1.4 6-2.8 9.1-5.7 4.7-3.8 21.9-22.9 7.3-9.5 1.6-1.4 1.5-.5 1.4,.5 1.5,1.6 2.5,5.3 7.2,30.7 2.4,7 1.8,3.1 1.7,1.6 1.3,.5 4.7,.6 0,.2Z" fill="#7f8c8d" fill-opacity="0.45" stroke="#7e8584" stroke-width="2.5" stroke-linejoin="round"/>
<path d="M1571.4,1766.1l0-.7 11.6-.5 9.1-1.2 10-3.3 8.7-4.1 7.7-5 6.1-4.9 9.5-10.1 7.6-9.2 3.7-3.5 8.5-6.5 3.2-1.5 2.9-.6 1.8,.4 1.9,1.2 1.5,1.7 1.1,2.5 1.7,5.7 6,25.4 1.7,5.1 2,4.3 1.4,2 1.5,1.1 8,1.4 0,.3Z" fill="#d65bd0" fill-opacity="0.5" stroke="#bb5cb6" stroke-width="2.5" stroke-linejoin="round"/>
</g>
<line x1="1565.50" y1="1711.92" x2="1565.50" y2="1770.18" stroke="#000" stroke-width="3"/>
<line x1="1564.00" y1="1768.68" x2="1694.50" y2="1768.68" stroke="#000" stroke-width="3"/>
<line x1="1557.50" y1="1766.10" x2="1565.50" y2="1766.10" stroke="#333333" stroke-width="3"/>
<text x="1549.70" y="1776.18" font-size="28" text-anchor="end" fill="#4d4d4d">0.0</text>
<line x1="1557.50" y1="1740.30" x2="1565.50" y2="1740.30" stroke="#333333" stroke-width="3"/>
<text x="1549.70" y="1750.38" font-size="28" text-anchor="end" fill="#4d4d4d">0.5</text>
<line x1="1557.50" y1="1714.50" x2="1565.50" y2="1714.50" stroke="#333333" stroke-width="3"/>
<text x="1549.70" y="1724.58" font-size="28" text-anchor="end" fill="#4d4d4d">1.0</text>
<clipPath id="dcB32t"><rect x="1525.50" y="1768.68" width="187.00" height="60"/></clipPath>
<g clip-path="url(#dcB32t)">
<line x1="1571.36" y1="1768.68" x2="1571.36" y2="1776.68" stroke="#333333" stroke-width="3"/>
<text x="1571.36" y="1805.26" font-size="28" text-anchor="middle" fill="#4d4d4d">0.6</text>
<line x1="1688.64" y1="1768.68" x2="1688.64" y2="1776.68" stroke="#333333" stroke-width="3"/>
<text x="1688.64" y="1805.26" font-size="28" text-anchor="middle" fill="#4d4d4d">1.0</text>
</g>
<clipPath id="dcB33"><rect x="1784.00" y="1708.92" width="129.00" height="59.76"/></clipPath>
<g clip-path="url(#dcB33)">
<path d="M1789.9,1766.1l0,0 15.7-.2 1.9-.6 1.7-1.6 2-3.6 1.8-4.9 6.7-25.6 2-6.5 2.9-6.3 1.2-1.4 1-.5 1,.3 1,1.1 2,3.9 1.7,5.7 6.9,28 2.8,7.1 1.4,2.1 1.3,1.1 3.2,1.3 3.2,.5 55.8,.1 0,0Z" fill="#7f8c8d" fill-opacity="0.45" stroke="#7e8584" stroke-width="2.5" stroke-linejoin="round"/>
<path d="M1789.9,1766.1l0-.1 9-.8 1.5-.8 1.2-1.6 1.7-4 2-6.3 7.7-30.1 2.5-5.8 1-1.3 1-.4 .9,.4 1,1.2 2.2,4.8 6.9,24.5 2.6,8 3.6,7.1 1.3,1.8 1.5,1.2 4.2,1.5 4.5,.6 60.9,.1 0,0Z" fill="#d65bd0" fill-opacity="0.5" stroke="#bb5cb6" stroke-width="2.5" stroke-linejoin="round"/>
</g>
<line x1="1784.00" y1="1711.92" x2="1784.00" y2="1770.18" stroke="#000" stroke-width="3"/>
<line x1="1782.50" y1="1768.68" x2="1913.00" y2="1768.68" stroke="#000" stroke-width="3"/>
<line x1="1776.00" y1="1766.10" x2="1784.00" y2="1766.10" stroke="#333333" stroke-width="3"/>
<text x="1768.20" y="1776.18" font-size="28" text-anchor="end" fill="#4d4d4d">0.0</text>
<line x1="1776.00" y1="1740.30" x2="1784.00" y2="1740.30" stroke="#333333" stroke-width="3"/>
<text x="1768.20" y="1750.38" font-size="28" text-anchor="end" fill="#4d4d4d">0.5</text>
<line x1="1776.00" y1="1714.50" x2="1784.00" y2="1714.50" stroke="#333333" stroke-width="3"/>
<text x="1768.20" y="1724.58" font-size="28" text-anchor="end" fill="#4d4d4d">1.0</text>
<clipPath id="dcB33t"><rect x="1744.00" y="1768.68" width="187.00" height="60"/></clipPath>
<g clip-path="url(#dcB33t)">
<line x1="1789.86" y1="1768.68" x2="1789.86" y2="1776.68" stroke="#333333" stroke-width="3"/>
<text x="1789.86" y="1805.26" font-size="28" text-anchor="middle" fill="#4d4d4d">0.0</text>
<line x1="1868.74" y1="1768.68" x2="1868.74" y2="1776.68" stroke="#333333" stroke-width="3"/>
<text x="1868.74" y="1805.26" font-size="28" text-anchor="middle" fill="#4d4d4d">0.1</text>
</g>
<clipPath id="dcB34"><rect x="2002.50" y="1708.92" width="129.00" height="59.76"/></clipPath>
<g clip-path="url(#dcB34)">
<path d="M2008.4,1766.1l0-7.3 5-24.8 2.7-8.8 2.2-4.2 2.3-3 3.5-2.4 2.9-.7 2.3,.7 13.6,7.7 45.7,22.8 12.9,4.9 9.7,2.8 7.6,1.4 2.8,1 1.4,.9 .8,1.1 1.8,4.9 0,3Z" fill="#7f8c8d" fill-opacity="0.45" stroke="#7e8584" stroke-width="2.5" stroke-linejoin="round"/>
<path d="M2008.4,1766.1l0-.6 2.1-2.3 2.6-4.3 9.2-23.6 2.8-5.8 2.6-3.4 4-3.7 4-2.3 9.9-2.6 6.2-2.2 2.5-.4 5.7,.7 23.9,5.9 17.6,3.8 7.5,2.3 6.4,3 2.2,1.6 1.8,1.9 1.4,2.1 1.1,2.7 1.7,6.8 2,14.1 0,6.3Z" fill="#d65bd0" fill-opacity="0.5" stroke="#bb5cb6" stroke-width="2.5" stroke-linejoin="round"/>
</g>
<line x1="2002.50" y1="1711.92" x2="2002.50" y2="1770.18" stroke="#000" stroke-width="3"/>
<line x1="2001.00" y1="1768.68" x2="2131.50" y2="1768.68" stroke="#000" stroke-width="3"/>
<line x1="1994.50" y1="1766.10" x2="2002.50" y2="1766.10" stroke="#333333" stroke-width="3"/>
<text x="1986.70" y="1776.18" font-size="28" text-anchor="end" fill="#4d4d4d">0.0</text>
<line x1="1994.50" y1="1740.30" x2="2002.50" y2="1740.30" stroke="#333333" stroke-width="3"/>
<text x="1986.70" y="1750.38" font-size="28" text-anchor="end" fill="#4d4d4d">0.5</text>
<line x1="1994.50" y1="1714.50" x2="2002.50" y2="1714.50" stroke="#333333" stroke-width="3"/>
<text x="1986.70" y="1724.58" font-size="28" text-anchor="end" fill="#4d4d4d">1.0</text>
<clipPath id="dcB34t"><rect x="1962.50" y="1768.68" width="187.00" height="60"/></clipPath>
<g clip-path="url(#dcB34t)">
<line x1="2008.65" y1="1768.68" x2="2008.65" y2="1776.68" stroke="#333333" stroke-width="3"/>
<text x="2008.65" y="1805.26" font-size="28" text-anchor="middle" fill="#4d4d4d">0.0</text>
<line x1="2086.82" y1="1768.68" x2="2086.82" y2="1776.68" stroke="#333333" stroke-width="3"/>
<text x="2086.82" y="1805.26" font-size="28" text-anchor="middle" fill="#4d4d4d">0.1</text>
</g>
<text x="993.50" y="1899.70" font-size="17.5" text-anchor="start" fill="#000" font-weight="bold">2156</text>
<clipPath id="dcB40"><rect x="1128.50" y="1841.42" width="129.00" height="59.76"/></clipPath>
<g clip-path="url(#dcB40)">
<path d="M1134.4,1898.6l0,0 77,0 3.2-.3 2.1-.7 2.1-1.5 2-2.4 1.8-2.9 1.4-3 1.6-6.2 3.4-16.9 1.8-7.5 2.5-7.7 1.1-1.7 1-.7 1,.5 1.1,1.5 2.9,6.1 7.7,27.9 2,6.2 1.5,3.1 0,6.2Z" fill="#7f8c8d" fill-opacity="0.45" stroke="#7e8584" stroke-width="2.5" stroke-linejoin="round"/>
<path d="M1134.4,1898.6l0,0 40.9-.4 15.1-.6 2.2-.5 1.8-2.4 2.4-5.9 3.2-9.9 4.3-16 2.5-7.2 2.9-6.5 1.2-1.6 1-.5 .8,.4 .9,1.2 1.8,4.9 2.2,8.6 4.2,22.2 2.2,6.3 2.6,5 2.2,1.8 4,.9 18.8,.2 0,0Z" fill="#d65bd0" fill-opacity="0.5" stroke="#bb5cb6" stroke-width="2.5" stroke-linejoin="round"/>
</g>
<line x1="1128.50" y1="1844.42" x2="1128.50" y2="1902.68" stroke="#000" stroke-width="3"/>
<line x1="1127.00" y1="1901.18" x2="1257.50" y2="1901.18" stroke="#000" stroke-width="3"/>
<line x1="1120.50" y1="1898.60" x2="1128.50" y2="1898.60" stroke="#333333" stroke-width="3"/>
<text x="1112.70" y="1908.68" font-size="28" text-anchor="end" fill="#4d4d4d">0.0</text>
<line x1="1120.50" y1="1872.80" x2="1128.50" y2="1872.80" stroke="#333333" stroke-width="3"/>
<text x="1112.70" y="1882.88" font-size="28" text-anchor="end" fill="#4d4d4d">0.5</text>
<line x1="1120.50" y1="1847.00" x2="1128.50" y2="1847.00" stroke="#333333" stroke-width="3"/>
<text x="1112.70" y="1857.08" font-size="28" text-anchor="end" fill="#4d4d4d">1.0</text>
<clipPath id="dcB40t"><rect x="1088.50" y="1901.18" width="187.00" height="60"/></clipPath>
<g clip-path="url(#dcB40t)">
<line x1="1134.36" y1="1901.18" x2="1134.36" y2="1909.18" stroke="#333333" stroke-width="3"/>
<text x="1134.36" y="1937.76" font-size="28" text-anchor="middle" fill="#4d4d4d">0.3</text>
<line x1="1251.64" y1="1901.18" x2="1251.64" y2="1909.18" stroke="#333333" stroke-width="3"/>
<text x="1251.64" y="1937.76" font-size="28" text-anchor="middle" fill="#4d4d4d">0.5</text>
</g>
<clipPath id="dcB41"><rect x="1347.00" y="1841.42" width="129.00" height="59.76"/></clipPath>
<g clip-path="url(#dcB41)">
<path d="M1353.2,1898.6l0-40.5 1.2-9.5 .5-1.5 .3,.5 .8,5.5 2.2,25.6 1.3,10.8 .9,3.7 1,2.6 1,1.4 1.5,.8 4.5,.6 101.7,0 0,0Z" fill="#7f8c8d" fill-opacity="0.45" stroke="#7e8584" stroke-width="2.5" stroke-linejoin="round"/>
<path d="M1353.2,1898.6l0-2.2 1.5-7.6 3.5-33.6 1.3-5.9 .9-1.7 .7-.5 .6,.5 .9,1.6 1.6,6.1 4,24.1 2.2,9.9 2,6 1,1.6 1,.7 2.7,.7 3.7,.3 89.3,0 0,0Z" fill="#d65bd0" fill-opacity="0.5" stroke="#bb5cb6" stroke-width="2.5" stroke-linejoin="round"/>
</g>
<line x1="1347.00" y1="1844.42" x2="1347.00" y2="1902.68" stroke="#000" stroke-width="3"/>
<line x1="1345.50" y1="1901.18" x2="1476.00" y2="1901.18" stroke="#000" stroke-width="3"/>
<line x1="1339.00" y1="1898.60" x2="1347.00" y2="1898.60" stroke="#333333" stroke-width="3"/>
<text x="1331.20" y="1908.68" font-size="28" text-anchor="end" fill="#4d4d4d">0.0</text>
<line x1="1339.00" y1="1872.80" x2="1347.00" y2="1872.80" stroke="#333333" stroke-width="3"/>
<text x="1331.20" y="1882.88" font-size="28" text-anchor="end" fill="#4d4d4d">0.5</text>
<line x1="1339.00" y1="1847.00" x2="1347.00" y2="1847.00" stroke="#333333" stroke-width="3"/>
<text x="1331.20" y="1857.08" font-size="28" text-anchor="end" fill="#4d4d4d">1.0</text>
<clipPath id="dcB41t"><rect x="1307.00" y="1901.18" width="187.00" height="60"/></clipPath>
<g clip-path="url(#dcB41t)">
<line x1="1383.82" y1="1901.18" x2="1383.82" y2="1909.18" stroke="#333333" stroke-width="3"/>
<text x="1383.82" y="1937.76" font-size="28" text-anchor="middle" fill="#4d4d4d">0.05</text>
</g>
<clipPath id="dcB42"><rect x="1565.50" y="1841.42" width="129.00" height="59.76"/></clipPath>
<g clip-path="url(#dcB42)">
<path d="M1571.4,1898.6l0,0 21.9-.2 3.2-1.1 2.9-2.6 1.5-2.4 1.3-4.1 4.1-19.7 3.7-14.9 1.8-5 .8-1.2 .7-.3 .8,.5 1.1,1.6 2.5,7.2 5.2,24 2.8,11 1.7,3.9 2,2.1 2,.9 2.2,.3 55,0 0,0Z" fill="#7f8c8d" fill-opacity="0.45" stroke="#7e8584" stroke-width="2.5" stroke-linejoin="round"/>
<path d="M1571.4,1898.6l0-.1 2.7-.5 2.9-1.5 1.8-1.6 1.5-2.3 4.5-10.7 5.6-16.9 4.5-11.6 2.5-4.8 1.2-1.2 1-.3 1.3,.6 1.6,1.8 3.8,7.3 6.5,19.6 5.4,13.7 2.4,3.6 3.7,2.8 3.5,1.5 3.3,.6 57.5,0 0,0Z" fill="#d65bd0" fill-opacity="0.5" stroke="#bb5cb6" stroke-width="2.5" stroke-linejoin="round"/>
</g>
<line x1="1565.50" y1="1844.42" x2="1565.50" y2="1902.68" stroke="#000" stroke-width="3"/>
<line x1="1564.00" y1="1901.18" x2="1694.50" y2="1901.18" stroke="#000" stroke-width="3"/>
<line x1="1557.50" y1="1898.60" x2="1565.50" y2="1898.60" stroke="#333333" stroke-width="3"/>
<text x="1549.70" y="1908.68" font-size="28" text-anchor="end" fill="#4d4d4d">0.0</text>
<line x1="1557.50" y1="1872.80" x2="1565.50" y2="1872.80" stroke="#333333" stroke-width="3"/>
<text x="1549.70" y="1882.88" font-size="28" text-anchor="end" fill="#4d4d4d">0.5</text>
<line x1="1557.50" y1="1847.00" x2="1565.50" y2="1847.00" stroke="#333333" stroke-width="3"/>
<text x="1549.70" y="1857.08" font-size="28" text-anchor="end" fill="#4d4d4d">1.0</text>
<clipPath id="dcB42t"><rect x="1525.50" y="1901.18" width="187.00" height="60"/></clipPath>
<g clip-path="url(#dcB42t)">
<line x1="1571.36" y1="1901.18" x2="1571.36" y2="1909.18" stroke="#333333" stroke-width="3"/>
<text x="1571.36" y="1937.76" font-size="28" text-anchor="middle" fill="#4d4d4d">0.6</text>
<line x1="1688.64" y1="1901.18" x2="1688.64" y2="1909.18" stroke="#333333" stroke-width="3"/>
<text x="1688.64" y="1937.76" font-size="28" text-anchor="middle" fill="#4d4d4d">1.0</text>
</g>
<clipPath id="dcB43"><rect x="1784.00" y="1841.42" width="129.00" height="59.76"/></clipPath>
<g clip-path="url(#dcB43)">
<path d="M1789.9,1898.6l0,0 24.3,0 1.5-.3 1.2-.9 1.5-3.2 1.3-5 5.6-35.2 1.1-5 .7-1.4 .5-.3 1.2,1.9 1.5,5.8 4.2,24.7 1.8,9 2,6.1 1.1,1.8 1.1,1.2 1.5,.6 2.7,.2 62.4,0 0,0Z" fill="#7f8c8d" fill-opacity="0.45" stroke="#7e8584" stroke-width="2.5" stroke-linejoin="round"/>
<path d="M1789.9,1898.6l0,0 5.3-.3 4.2-.7 1.5-1 1.5-2.3 2.2-5.4 1.9-6.1 7-30.8 1.4-3.6 1.1-1.1 .9,.6 .8,1.4 2.2,6 5.4,23.9 2.6,10 2.6,5.2 1.6,2.1 1.6,1.2 1.8,.5 4,.1 67.6,.3 0,0Z" fill="#d65bd0" fill-opacity="0.5" stroke="#bb5cb6" stroke-width="2.5" stroke-linejoin="round"/>
</g>
<line x1="1784.00" y1="1844.42" x2="1784.00" y2="1902.68" stroke="#000" stroke-width="3"/>
<line x1="1782.50" y1="1901.18" x2="1913.00" y2="1901.18" stroke="#000" stroke-width="3"/>
<line x1="1776.00" y1="1898.60" x2="1784.00" y2="1898.60" stroke="#333333" stroke-width="3"/>
<text x="1768.20" y="1908.68" font-size="28" text-anchor="end" fill="#4d4d4d">0.0</text>
<line x1="1776.00" y1="1872.80" x2="1784.00" y2="1872.80" stroke="#333333" stroke-width="3"/>
<text x="1768.20" y="1882.88" font-size="28" text-anchor="end" fill="#4d4d4d">0.5</text>
<line x1="1776.00" y1="1847.00" x2="1784.00" y2="1847.00" stroke="#333333" stroke-width="3"/>
<text x="1768.20" y="1857.08" font-size="28" text-anchor="end" fill="#4d4d4d">1.0</text>
<clipPath id="dcB43t"><rect x="1744.00" y="1901.18" width="187.00" height="60"/></clipPath>
<g clip-path="url(#dcB43t)">
<line x1="1810.22" y1="1901.18" x2="1810.22" y2="1909.18" stroke="#333333" stroke-width="3"/>
<text x="1810.22" y="1937.76" font-size="28" text-anchor="middle" fill="#4d4d4d">0.1</text>
<line x1="1888.84" y1="1901.18" x2="1888.84" y2="1909.18" stroke="#333333" stroke-width="3"/>
<text x="1888.84" y="1937.76" font-size="28" text-anchor="middle" fill="#4d4d4d">0.3</text>
</g>
<clipPath id="dcB44"><rect x="2002.50" y="1841.42" width="129.00" height="59.76"/></clipPath>
<g clip-path="url(#dcB44)">
<path d="M2008.4,1898.6l0,0 20.3-.2 17.6-.8 3.2-.5 3.2-1.5 4.7-3.7 3.1-4 8.1-13.5 12.4-22 1.7-1.8 2.5-1.8 2.2-1.1 2-.4 2.5,.4 3,1.2 2,1.4 1.7,1.9 4.9,8.5 6,14.2 4.4,8.2 3.5,5 5.6,4.5 2.6,4.5 0,1.5Z" fill="#7f8c8d" fill-opacity="0.45" stroke="#7e8584" stroke-width="2.5" stroke-linejoin="round"/>
<path d="M2008.4,1898.6l0,0 67.9-.4 9.1-.9 4.7-1.3 4.8-2.9 4.2-3.3 4.2-4.5 3.9-5.2 3.2-5.5 3-6.2 3.7-9.3 3.3-9.9 1.2-1.8 .5,.3 .5,1.3 .9,5.3 2.1,30.9 0,13.4Z" fill="#d65bd0" fill-opacity="0.5" stroke="#bb5cb6" stroke-width="2.5" stroke-linejoin="round"/>
</g>
<line x1="2002.50" y1="1844.42" x2="2002.50" y2="1902.68" stroke="#000" stroke-width="3"/>
<line x1="2001.00" y1="1901.18" x2="2131.50" y2="1901.18" stroke="#000" stroke-width="3"/>
<line x1="1994.50" y1="1898.60" x2="2002.50" y2="1898.60" stroke="#333333" stroke-width="3"/>
<text x="1986.70" y="1908.68" font-size="28" text-anchor="end" fill="#4d4d4d">0.0</text>
<line x1="1994.50" y1="1872.80" x2="2002.50" y2="1872.80" stroke="#333333" stroke-width="3"/>
<text x="1986.70" y="1882.88" font-size="28" text-anchor="end" fill="#4d4d4d">0.5</text>
<line x1="1994.50" y1="1847.00" x2="2002.50" y2="1847.00" stroke="#333333" stroke-width="3"/>
<text x="1986.70" y="1857.08" font-size="28" text-anchor="end" fill="#4d4d4d">1.0</text>
<clipPath id="dcB44t"><rect x="1962.50" y="1901.18" width="187.00" height="60"/></clipPath>
<g clip-path="url(#dcB44t)">
<line x1="2008.65" y1="1901.18" x2="2008.65" y2="1909.18" stroke="#333333" stroke-width="3"/>
<text x="2008.65" y="1937.76" font-size="28" text-anchor="middle" fill="#4d4d4d">0.0</text>
<line x1="2086.82" y1="1901.18" x2="2086.82" y2="1909.18" stroke="#333333" stroke-width="3"/>
<text x="2086.82" y="1937.76" font-size="28" text-anchor="middle" fill="#4d4d4d">0.1</text>
</g>
<text x="993.50" y="2032.20" font-size="17.5" text-anchor="start" fill="#000" font-weight="bold">2160</text>
<clipPath id="dcB50"><rect x="1128.50" y="1973.92" width="129.00" height="59.76"/></clipPath>
<g clip-path="url(#dcB50)">
<path d="M1134.4,2031.1l0,0 61.2-.7 5.5-.8 4.9-1.8 2.4-1.5 1.6-1.5 3.6-5.9 4.1-9.6 5.2-15.7 2.4-5.3 4.5-6.2 1.9-1.5 1.6-.6 2.4,.3 2.5,1.2 1.5,1.6 1.5,2.5 4.7,11.7 5.7,18.8 0,15Z" fill="#7f8c8d" fill-opacity="0.45" stroke="#7e8584" stroke-width="2.5" stroke-linejoin="round"/>
<path d="M1134.4,2031.1l0-.7 34.9-.6 6.2-.4 2.3-.9 3.4-3.6 5-8 2.2-4.8 5-13 3-5.6 4.6-6.4 3.3-3.9 3-2.4 2.7-.8 1.5,.5 1.4,1.1 4,6.3 2.4,4.9 6.3,15.8 4.7,9.2 3.2,4.9 3.2,2.9 4.9,2.7 4.8,1.4 5.2,.7 0,.7Z" fill="#d65bd0" fill-opacity="0.5" stroke="#bb5cb6" stroke-width="2.5" stroke-linejoin="round"/>
</g>
<line x1="1128.50" y1="1976.92" x2="1128.50" y2="2035.18" stroke="#000" stroke-width="3"/>
<line x1="1127.00" y1="2033.68" x2="1257.50" y2="2033.68" stroke="#000" stroke-width="3"/>
<line x1="1120.50" y1="2031.10" x2="1128.50" y2="2031.10" stroke="#333333" stroke-width="3"/>
<text x="1112.70" y="2041.18" font-size="28" text-anchor="end" fill="#4d4d4d">0.0</text>
<line x1="1120.50" y1="2005.30" x2="1128.50" y2="2005.30" stroke="#333333" stroke-width="3"/>
<text x="1112.70" y="2015.38" font-size="28" text-anchor="end" fill="#4d4d4d">0.5</text>
<line x1="1120.50" y1="1979.50" x2="1128.50" y2="1979.50" stroke="#333333" stroke-width="3"/>
<text x="1112.70" y="1989.58" font-size="28" text-anchor="end" fill="#4d4d4d">1.0</text>
<clipPath id="dcB50t"><rect x="1088.50" y="2033.68" width="187.00" height="60"/></clipPath>
<g clip-path="url(#dcB50t)">
<line x1="1134.36" y1="2033.68" x2="1134.36" y2="2041.68" stroke="#333333" stroke-width="3"/>
<text x="1134.36" y="2070.26" font-size="28" text-anchor="middle" fill="#4d4d4d">0.4</text>
<line x1="1227.95" y1="2033.68" x2="1227.95" y2="2041.68" stroke="#333333" stroke-width="3"/>
<text x="1227.95" y="2070.26" font-size="28" text-anchor="middle" fill="#4d4d4d">0.6</text>
</g>
<clipPath id="dcB51"><rect x="1347.00" y="1973.92" width="129.00" height="59.76"/></clipPath>
<g clip-path="url(#dcB51)">
<path d="M1353.2,2031.1l0-23.1 2.8-21.9 1.2-4.4 .7-1.3 .6-.4 1,1.5 1.2,4.7 4,26.5 1.5,7.4 2.5,6.9 1.2,1.7 1.4,.9 2.1,.6 2.7,.2 94,.7 0,0Z" fill="#7f8c8d" fill-opacity="0.45" stroke="#7e8584" stroke-width="2.5" stroke-linejoin="round"/>
<path d="M1353.2,2031.1l0-5.1 1.5-4.4 10-36.5 1.5-3.7 .9-1.1 .6-.3 .7,.3 .9,1.2 1.6,4.1 3.5,11.5 4.1,15 2,6 3.8,7.8 1.5,1.9 1.7,1.2 3.2,1.1 3.1,.3 76.3,.7 0,0Z" fill="#d65bd0" fill-opacity="0.5" stroke="#bb5cb6" stroke-width="2.5" stroke-linejoin="round"/>
</g>
<line x1="1347.00" y1="1976.92" x2="1347.00" y2="2035.18" stroke="#000" stroke-width="3"/>
<line x1="1345.50" y1="2033.68" x2="1476.00" y2="2033.68" stroke="#000" stroke-width="3"/>
<line x1="1339.00" y1="2031.10" x2="1347.00" y2="2031.10" stroke="#333333" stroke-width="3"/>
<text x="1331.20" y="2041.18" font-size="28" text-anchor="end" fill="#4d4d4d">0.0</text>
<line x1="1339.00" y1="2005.30" x2="1347.00" y2="2005.30" stroke="#333333" stroke-width="3"/>
<text x="1331.20" y="2015.38" font-size="28" text-anchor="end" fill="#4d4d4d">0.5</text>
<line x1="1339.00" y1="1979.50" x2="1347.00" y2="1979.50" stroke="#333333" stroke-width="3"/>
<text x="1331.20" y="1989.58" font-size="28" text-anchor="end" fill="#4d4d4d">1.0</text>
<clipPath id="dcB51t"><rect x="1307.00" y="2033.68" width="187.00" height="60"/></clipPath>
<g clip-path="url(#dcB51t)">
<line x1="1383.82" y1="2033.68" x2="1383.82" y2="2041.68" stroke="#333333" stroke-width="3"/>
<text x="1383.82" y="2070.26" font-size="28" text-anchor="middle" fill="#4d4d4d">0.05</text>
</g>
<clipPath id="dcB52"><rect x="1565.50" y="1973.92" width="129.00" height="59.76"/></clipPath>
<g clip-path="url(#dcB52)">
<path d="M1571.4,2031.1l0,0 28.3-.8 3.4-.9 3.2-2.4 3.1-3.7 2.1-3.8 1.6-5.6 3.7-16.4 2-6.9 3.1-8.1 1.1-1.8 1.2-.7 1,.4 1,1.2 2.5,5.6 1.6,5.3 3.1,15.5 2.4,9.1 2.7,7.9 1.1,2.3 1.2,1.3 2.5,1.2 3.6,.6 41.7,.7 0,0Z" fill="#7f8c8d" fill-opacity="0.45" stroke="#7e8584" stroke-width="2.5" stroke-linejoin="round"/>
<path d="M1571.4,2031.1l0-1 4.5-1.1 10.9-1 2-.9 1.7-1.6 3-5 4.2-9.3 5.7-17.3 3.4-8.3 2.3-4.3 1-1 .9-.3 1,.5 1.1,1.4 2.9,6.3 5.9,20.6 4,10.9 2.7,5.4 2.3,2.6 4.4,1.8 4.5,.9 48.8,.7 0,0Z" fill="#d65bd0" fill-opacity="0.5" stroke="#bb5cb6" stroke-width="2.5" stroke-linejoin="round"/>
</g>
<line x1="1565.50" y1="1976.92" x2="1565.50" y2="2035.18" stroke="#000" stroke-width="3"/>
<line x1="1564.00" y1="2033.68" x2="1694.50" y2="2033.68" stroke="#000" stroke-width="3"/>
<line x1="1557.50" y1="2031.10" x2="1565.50" y2="2031.10" stroke="#333333" stroke-width="3"/>
<text x="1549.70" y="2041.18" font-size="28" text-anchor="end" fill="#4d4d4d">0.0</text>
<line x1="1557.50" y1="2005.30" x2="1565.50" y2="2005.30" stroke="#333333" stroke-width="3"/>
<text x="1549.70" y="2015.38" font-size="28" text-anchor="end" fill="#4d4d4d">0.5</text>
<line x1="1557.50" y1="1979.50" x2="1565.50" y2="1979.50" stroke="#333333" stroke-width="3"/>
<text x="1549.70" y="1989.58" font-size="28" text-anchor="end" fill="#4d4d4d">1.0</text>
<clipPath id="dcB52t"><rect x="1525.50" y="2033.68" width="187.00" height="60"/></clipPath>
<g clip-path="url(#dcB52t)">
<line x1="1571.36" y1="2033.68" x2="1571.36" y2="2041.68" stroke="#333333" stroke-width="3"/>
<text x="1571.36" y="2070.26" font-size="28" text-anchor="middle" fill="#4d4d4d">0.6</text>
<line x1="1688.64" y1="2033.68" x2="1688.64" y2="2041.68" stroke="#333333" stroke-width="3"/>
<text x="1688.64" y="2070.26" font-size="28" text-anchor="middle" fill="#4d4d4d">1.0</text>
</g>
<clipPath id="dcB53"><rect x="1784.00" y="1973.92" width="129.00" height="59.76"/></clipPath>
<g clip-path="url(#dcB53)">
<path d="M1789.9,2031.1l0,0 27.3-.2 3.2-.8 2.9-2.2 2.1-2.6 1.5-3 9.8-31.8 3.2-7.7 1-1.4 1-.6 1,.4 1,1.2 2.2,4.5 6.5,23.6 2.7,8 3.4,6.5 3,3.6 3.3,1.6 4.2,.8 37.9,.1 0,0Z" fill="#7f8c8d" fill-opacity="0.45" stroke="#7e8584" stroke-width="2.5" stroke-linejoin="round"/>
<path d="M1789.9,2031.1l0-.1 25-.6 2.1-.5 1.7-1.1 3-4.2 2.4-5.1 5.9-21.4 3.7-10.8 1.5-2.7 2.1-2.5 2.2-1.6 2-.6 1.4,.3 1.5,1.2 1.5,1.8 1.3,2.3 2.1,5.6 7.8,26.3 3.6,7.2 1.6,2.4 1.6,1.6 3.3,1.4 5.7,1 34.2,.1 0,0Z" fill="#d65bd0" fill-opacity="0.5" stroke="#bb5cb6" stroke-width="2.5" stroke-linejoin="round"/>
</g>
<line x1="1784.00" y1="1976.92" x2="1784.00" y2="2035.18" stroke="#000" stroke-width="3"/>
<line x1="1782.50" y1="2033.68" x2="1913.00" y2="2033.68" stroke="#000" stroke-width="3"/>
<line x1="1776.00" y1="2031.10" x2="1784.00" y2="2031.10" stroke="#333333" stroke-width="3"/>
<text x="1768.20" y="2041.18" font-size="28" text-anchor="end" fill="#4d4d4d">0.0</text>
<line x1="1776.00" y1="2005.30" x2="1784.00" y2="2005.30" stroke="#333333" stroke-width="3"/>
<text x="1768.20" y="2015.38" font-size="28" text-anchor="end" fill="#4d4d4d">0.5</text>
<line x1="1776.00" y1="1979.50" x2="1784.00" y2="1979.50" stroke="#333333" stroke-width="3"/>
<text x="1768.20" y="1989.58" font-size="28" text-anchor="end" fill="#4d4d4d">1.0</text>
<clipPath id="dcB53t"><rect x="1744.00" y="2033.68" width="187.00" height="60"/></clipPath>
<g clip-path="url(#dcB53t)">
<line x1="1810.22" y1="2033.68" x2="1810.22" y2="2041.68" stroke="#333333" stroke-width="3"/>
<text x="1810.22" y="2070.26" font-size="28" text-anchor="middle" fill="#4d4d4d">0.1</text>
<line x1="1888.84" y1="2033.68" x2="1888.84" y2="2041.68" stroke="#333333" stroke-width="3"/>
<text x="1888.84" y="2070.26" font-size="28" text-anchor="middle" fill="#4d4d4d">0.3</text>
</g>
<clipPath id="dcB54"><rect x="2002.50" y="1973.92" width="129.00" height="59.76"/></clipPath>
<g clip-path="url(#dcB54)">
<path d="M2008.4,2031.1l0-.1 2.8-.4 2.9-1.1 1.5-1.3 1.2-2 3.1-9.3 4.7-18.7 2.9-9.5 2.8-6.2 1.6-2 1.1-.6 .9,.3 1,1.2 2.2,5.2 5.3,20.6 3.9,11.6 1.5,3.1 2,3.1 2,2.4 2,1.5 4.4,1.4 5.2,.7 62.2,.1 0,0Z" fill="#7f8c8d" fill-opacity="0.45" stroke="#7e8584" stroke-width="2.5" stroke-linejoin="round"/>
<path d="M2008.4,2031.1l0-.1 6.3-.5 7.1-1.5 3-1.3 3.4-2.5 3.3-3.4 2.5-3.5 12.3-23 4-6.1 4-4.4 3.2-2.5 4-1.7 3.9-.7 2.2,.6 2.3,2.4 6.4,8.8 13.4,20.9 4.4,5.2 4.7,4.6 4.5,3.1 7.4,3 6.5,1.6 8.4,1 0,0Z" fill="#d65bd0" fill-opacity="0.5" stroke="#bb5cb6" stroke-width="2.5" stroke-linejoin="round"/>
</g>
<line x1="2002.50" y1="1976.92" x2="2002.50" y2="2035.18" stroke="#000" stroke-width="3"/>
<line x1="2001.00" y1="2033.68" x2="2131.50" y2="2033.68" stroke="#000" stroke-width="3"/>
<line x1="1994.50" y1="2031.10" x2="2002.50" y2="2031.10" stroke="#333333" stroke-width="3"/>
<text x="1986.70" y="2041.18" font-size="28" text-anchor="end" fill="#4d4d4d">0.0</text>
<line x1="1994.50" y1="2005.30" x2="2002.50" y2="2005.30" stroke="#333333" stroke-width="3"/>
<text x="1986.70" y="2015.38" font-size="28" text-anchor="end" fill="#4d4d4d">0.5</text>
<line x1="1994.50" y1="1979.50" x2="2002.50" y2="1979.50" stroke="#333333" stroke-width="3"/>
<text x="1986.70" y="1989.58" font-size="28" text-anchor="end" fill="#4d4d4d">1.0</text>
<clipPath id="dcB54t"><rect x="1962.50" y="2033.68" width="187.00" height="60"/></clipPath>
<g clip-path="url(#dcB54t)">
<line x1="2008.65" y1="2033.68" x2="2008.65" y2="2041.68" stroke="#333333" stroke-width="3"/>
<text x="2008.65" y="2070.26" font-size="28" text-anchor="middle" fill="#4d4d4d">0.0</text>
<line x1="2086.82" y1="2033.68" x2="2086.82" y2="2041.68" stroke="#333333" stroke-width="3"/>
<text x="2086.82" y="2070.26" font-size="28" text-anchor="middle" fill="#4d4d4d">0.1</text>
</g>
<text x="993.50" y="2164.70" font-size="17.5" text-anchor="start" fill="#000" font-weight="bold">2165</text>
<clipPath id="dcB60"><rect x="1128.50" y="2106.42" width="129.00" height="59.76"/></clipPath>
<g clip-path="url(#dcB60)">
<path d="M1134.4,2163.6l0,0 61.2-.1 4.5-.6 3.7-1.5 4.2-3.2 2.4-3.8 3.5-11.3 6-23.9 2.5-5.3 1.2-1.4 1-.4 1,.4 1.2,1.2 3,5.4 8.8,24.3 4.3,9.7 2.4,4 2,2.7 2.2,1.8 2.1,.8 0,1.2Z" fill="#7f8c8d" fill-opacity="0.45" stroke="#7e8584" stroke-width="2.5" stroke-linejoin="round"/>
<path d="M1134.4,2163.6l0,0 34-.6 6.7-.4 2.2-.9 2.9-3.6 3.2-6.2 8-24.4 3.7-9.5 1.3-2.3 1.5-1.7 2.1-1.4 1.6-.5 1,.4 .9,.8 2,3.8 2.7,7.4 4,14.8 1.9,5.6 3.8,8.7 3.2,4.7 4.4,3 4.8,1.7 21.3,.6 0,0Z" fill="#d65bd0" fill-opacity="0.5" stroke="#bb5cb6" stroke-width="2.5" stroke-linejoin="round"/>
</g>
<line x1="1128.50" y1="2109.42" x2="1128.50" y2="2167.68" stroke="#000" stroke-width="3"/>
<line x1="1127.00" y1="2166.18" x2="1257.50" y2="2166.18" stroke="#000" stroke-width="3"/>
<line x1="1120.50" y1="2163.60" x2="1128.50" y2="2163.60" stroke="#333333" stroke-width="3"/>
<text x="1112.70" y="2173.68" font-size="28" text-anchor="end" fill="#4d4d4d">0.0</text>
<line x1="1120.50" y1="2137.80" x2="1128.50" y2="2137.80" stroke="#333333" stroke-width="3"/>
<text x="1112.70" y="2147.88" font-size="28" text-anchor="end" fill="#4d4d4d">0.5</text>
<line x1="1120.50" y1="2112.00" x2="1128.50" y2="2112.00" stroke="#333333" stroke-width="3"/>
<text x="1112.70" y="2122.08" font-size="28" text-anchor="end" fill="#4d4d4d">1.0</text>
<clipPath id="dcB60t"><rect x="1088.50" y="2166.18" width="187.00" height="60"/></clipPath>
<g clip-path="url(#dcB60t)">
<line x1="1134.36" y1="2166.18" x2="1134.36" y2="2174.18" stroke="#333333" stroke-width="3"/>
<text x="1134.36" y="2202.76" font-size="28" text-anchor="middle" fill="#4d4d4d">0.3</text>
<line x1="1251.64" y1="2166.18" x2="1251.64" y2="2174.18" stroke="#333333" stroke-width="3"/>
<text x="1251.64" y="2202.76" font-size="28" text-anchor="middle" fill="#4d4d4d">0.5</text>
</g>
<clipPath id="dcB61"><rect x="1347.00" y="2106.42" width="129.00" height="59.76"/></clipPath>
<g clip-path="url(#dcB61)">
<path d="M1353.2,2163.6l0-1.1 1.5-3 1.7-5.7 7.7-35.5 1.8-4.3 1.2-1.3 1.1-.6 1.1,.5 1,1.3 2,5.2 5.1,23.8 3.2,11.4 2.5,4.9 1.7,1.9 1.7,1.2 2.8,.9 3.2,.4 77.6,0 0,0Z" fill="#7f8c8d" fill-opacity="0.45" stroke="#7e8584" stroke-width="2.5" stroke-linejoin="round"/>
<path d="M1352.9,2163.6l0,0 3.7-.3 2.3-.9 2.7-2.2 2.2-3.1 1.8-4.7 4.7-17.8 4.4-13.5 1.7-3.8 1.6-2.8 1.7-1.9 1.3-.5 1.2,.5 1.4,1.3 2.5,4.4 8,25.7 2.9,7.4 3.8,6.9 1.6,1.7 1.6,1.2 4.1,1.8 3.7,.6 58.3,0 0,0Z" fill="#d65bd0" fill-opacity="0.5" stroke="#bb5cb6" stroke-width="2.5" stroke-linejoin="round"/>
</g>
<line x1="1347.00" y1="2109.42" x2="1347.00" y2="2167.68" stroke="#000" stroke-width="3"/>
<line x1="1345.50" y1="2166.18" x2="1476.00" y2="2166.18" stroke="#000" stroke-width="3"/>
<line x1="1339.00" y1="2163.60" x2="1347.00" y2="2163.60" stroke="#333333" stroke-width="3"/>
<text x="1331.20" y="2173.68" font-size="28" text-anchor="end" fill="#4d4d4d">0.0</text>
<line x1="1339.00" y1="2137.80" x2="1347.00" y2="2137.80" stroke="#333333" stroke-width="3"/>
<text x="1331.20" y="2147.88" font-size="28" text-anchor="end" fill="#4d4d4d">0.5</text>
<line x1="1339.00" y1="2112.00" x2="1347.00" y2="2112.00" stroke="#333333" stroke-width="3"/>
<text x="1331.20" y="2122.08" font-size="28" text-anchor="end" fill="#4d4d4d">1.0</text>
<clipPath id="dcB61t"><rect x="1307.00" y="2166.18" width="187.00" height="60"/></clipPath>
<g clip-path="url(#dcB61t)">
<line x1="1383.82" y1="2166.18" x2="1383.82" y2="2174.18" stroke="#333333" stroke-width="3"/>
<text x="1383.82" y="2202.76" font-size="28" text-anchor="middle" fill="#4d4d4d">0.05</text>
</g>
<clipPath id="dcB62"><rect x="1565.50" y="2106.42" width="129.00" height="59.76"/></clipPath>
<g clip-path="url(#dcB62)">
<path d="M1571.4,2163.6l0,0 53-.1 4.3-.6 3.7-1.6 5.7-4.5 2.4-2.5 1.5-2.3 2.3-5.3 10.1-26.7 3.2-6.3 1-1.2 1-.4 1.2,.7 1.2,1.5 2.5,5.8 7.4,31.5 1.3,4.4 1.3,2.9 2.1,2.8 2,1.4 3.2,.4 6.8,.1 0,0Z" fill="#7f8c8d" fill-opacity="0.45" stroke="#7e8584" stroke-width="2.5" stroke-linejoin="round"/>
<path d="M1571.4,2163.6l0,0 23.8-.2 19.8-.6 6.1-.3 2.6-1.1 2.2-1.7 2.9-3.1 2.5-3.1 1.8-3 5.6-12.1 5.7-14.7 2.3-4.9 3.9-4.9 1.7-1.4 1.3-.4 1.3,.5 1.5,1.5 1.6,2.4 1.3,3.1 1.8,6.5 6.1,26.5 1.5,4.5 1.7,3.1 1.8,2.1 2,.9 14.4,.4 0,0Z" fill="#d65bd0" fill-opacity="0.5" stroke="#bb5cb6" stroke-width="2.5" stroke-linejoin="round"/>
</g>
<line x1="1565.50" y1="2109.42" x2="1565.50" y2="2167.68" stroke="#000" stroke-width="3"/>
<line x1="1564.00" y1="2166.18" x2="1694.50" y2="2166.18" stroke="#000" stroke-width="3"/>
<line x1="1557.50" y1="2163.60" x2="1565.50" y2="2163.60" stroke="#333333" stroke-width="3"/>
<text x="1549.70" y="2173.68" font-size="28" text-anchor="end" fill="#4d4d4d">0.0</text>
<line x1="1557.50" y1="2137.80" x2="1565.50" y2="2137.80" stroke="#333333" stroke-width="3"/>
<text x="1549.70" y="2147.88" font-size="28" text-anchor="end" fill="#4d4d4d">0.5</text>
<line x1="1557.50" y1="2112.00" x2="1565.50" y2="2112.00" stroke="#333333" stroke-width="3"/>
<text x="1549.70" y="2122.08" font-size="28" text-anchor="end" fill="#4d4d4d">1.0</text>
<clipPath id="dcB62t"><rect x="1525.50" y="2166.18" width="187.00" height="60"/></clipPath>
<g clip-path="url(#dcB62t)">
<line x1="1571.36" y1="2166.18" x2="1571.36" y2="2174.18" stroke="#333333" stroke-width="3"/>
<text x="1571.36" y="2202.76" font-size="28" text-anchor="middle" fill="#4d4d4d">0.6</text>
<line x1="1688.64" y1="2166.18" x2="1688.64" y2="2174.18" stroke="#333333" stroke-width="3"/>
<text x="1688.64" y="2202.76" font-size="28" text-anchor="middle" fill="#4d4d4d">1.0</text>
</g>
<clipPath id="dcB63"><rect x="1784.00" y="2106.42" width="129.00" height="59.76"/></clipPath>
<g clip-path="url(#dcB63)">
<path d="M1789.9,2163.6l0,0 8.2,0 3-.4 3.4-1.5 2.6-2.3 2.6-5 8-23.8 3.2-7.8 2.5-4.3 2.4-3.1 2.8-2.4 2-.7 1.4,.5 1.3,1.1 2.7,4.1 8.6,23.6 4.5,10.2 3.8,5.8 3.7,3.7 3.7,1.4 5.9,.9 40.9,0 0,0Z" fill="#7f8c8d" fill-opacity="0.45" stroke="#7e8584" stroke-width="2.5" stroke-linejoin="round"/>
<path d="M1789.9,2163.6l0,0 9.4-.8 1.5-.7 1.3-1.5 2-3.8 2.4-5.6 5.7-18.3 4.5-12.5 1.7-3.1 2-2.5 2-1.8 1.9-.7 1.3,.4 1.5,1.1 2.5,3.9 9.1,24.3 4.2,9.7 3.5,5.2 3.9,3.5 5,2.2 4.5,.8 47.3,.2 0,0Z" fill="#d65bd0" fill-opacity="0.5" stroke="#bb5cb6" stroke-width="2.5" stroke-linejoin="round"/>
</g>
<line x1="1784.00" y1="2109.42" x2="1784.00" y2="2167.68" stroke="#000" stroke-width="3"/>
<line x1="1782.50" y1="2166.18" x2="1913.00" y2="2166.18" stroke="#000" stroke-width="3"/>
<line x1="1776.00" y1="2163.60" x2="1784.00" y2="2163.60" stroke="#333333" stroke-width="3"/>
<text x="1768.20" y="2173.68" font-size="28" text-anchor="end" fill="#4d4d4d">0.0</text>
<line x1="1776.00" y1="2137.80" x2="1784.00" y2="2137.80" stroke="#333333" stroke-width="3"/>
<text x="1768.20" y="2147.88" font-size="28" text-anchor="end" fill="#4d4d4d">0.5</text>
<line x1="1776.00" y1="2112.00" x2="1784.00" y2="2112.00" stroke="#333333" stroke-width="3"/>
<text x="1768.20" y="2122.08" font-size="28" text-anchor="end" fill="#4d4d4d">1.0</text>
<clipPath id="dcB63t"><rect x="1744.00" y="2166.18" width="187.00" height="60"/></clipPath>
<g clip-path="url(#dcB63t)">
<line x1="1789.86" y1="2166.18" x2="1789.86" y2="2174.18" stroke="#333333" stroke-width="3"/>
<text x="1789.86" y="2202.76" font-size="28" text-anchor="middle" fill="#4d4d4d">0.0</text>
<line x1="1868.74" y1="2166.18" x2="1868.74" y2="2174.18" stroke="#333333" stroke-width="3"/>
<text x="1868.74" y="2202.76" font-size="28" text-anchor="middle" fill="#4d4d4d">0.1</text>
</g>
<clipPath id="dcB64"><rect x="2002.50" y="2106.42" width="129.00" height="59.76"/></clipPath>
<g clip-path="url(#dcB64)">
<path d="M2008.4,2163.6l0-.6 1.5-2 1.5-3.6 7.4-25.8 3.8-10.2 2-3.9 1.9-2.5 2.7-1.9 2.5-.8 1.3,.4 1.5,1 3.4,4.3 9.4,20.6 2.5,4.6 3,4.5 5.6,6.6 3.7,3 3.3,2.2 2.7,1.3 4.2,1.2 8.5,1.4 44.8,.2 0,0Z" fill="#7f8c8d" fill-opacity="0.45" stroke="#7e8584" stroke-width="2.5" stroke-linejoin="round"/>
<path d="M2008.4,2163.6l0-.1 2.5-.5 3-1.4 2.3-1.4 2.2-2 8.1-10.4 13.2-20.6 3.7-5 3.6-3.9 3-2.6 3.8-2.6 2.5-.8 1.9,.4 2,1.2 7.1,5.6 4.5,4.1 4.2,4.7 14.9,19 3.4,3.5 4.8,3.9 5.6,3.5 7.3,3 5.4,1.4 8.2,.9 0,.1Z" fill="#d65bd0" fill-opacity="0.5" stroke="#bb5cb6" stroke-width="2.5" stroke-linejoin="round"/>
</g>
<line x1="2002.50" y1="2109.42" x2="2002.50" y2="2167.68" stroke="#000" stroke-width="3"/>
<line x1="2001.00" y1="2166.18" x2="2131.50" y2="2166.18" stroke="#000" stroke-width="3"/>
<line x1="1994.50" y1="2163.60" x2="2002.50" y2="2163.60" stroke="#333333" stroke-width="3"/>
<text x="1986.70" y="2173.68" font-size="28" text-anchor="end" fill="#4d4d4d">0.0</text>
<line x1="1994.50" y1="2137.80" x2="2002.50" y2="2137.80" stroke="#333333" stroke-width="3"/>
<text x="1986.70" y="2147.88" font-size="28" text-anchor="end" fill="#4d4d4d">0.5</text>
<line x1="1994.50" y1="2112.00" x2="2002.50" y2="2112.00" stroke="#333333" stroke-width="3"/>
<text x="1986.70" y="2122.08" font-size="28" text-anchor="end" fill="#4d4d4d">1.0</text>
<clipPath id="dcB64t"><rect x="1962.50" y="2166.18" width="187.00" height="60"/></clipPath>
<g clip-path="url(#dcB64t)">
<line x1="2008.65" y1="2166.18" x2="2008.65" y2="2174.18" stroke="#333333" stroke-width="3"/>
<text x="2008.65" y="2202.76" font-size="28" text-anchor="middle" fill="#4d4d4d">0.0</text>
<line x1="2086.82" y1="2166.18" x2="2086.82" y2="2174.18" stroke="#333333" stroke-width="3"/>
<text x="2086.82" y="2202.76" font-size="28" text-anchor="middle" fill="#4d4d4d">0.1</text>
</g>
<text x="993.50" y="2319.70" font-size="17.5" text-anchor="start" fill="#000" font-weight="bold">2166</text>
<clipPath id="dcB70"><rect x="1128.50" y="2238.92" width="129.00" height="59.76"/></clipPath>
<g clip-path="url(#dcB70)">
<path d="M1134.4,2296.1l0,0 55,0 5.7-1 5.4-2.2 5-3.6 3-4.3 5.4-12.7 6.7-19.8 2.9-5.6 1-1.1 1.1-.5 1.4,.3 1.7,1.1 2.6,3.2 6.1,14.2 5.5,11.4 5.2,8.9 2.2,3.2 1.3,1.3 0,7.2Z" fill="#7f8c8d" fill-opacity="0.45" stroke="#7e8584" stroke-width="2.5" stroke-linejoin="round"/>
<path d="M1134.4,2296.1l0,0 19.4-.2 16.6-.7 3.1-.4 2.3-1.2 3.9-3.9 3.8-5.5 2.7-6.1 9.7-25.7 3.4-5.5 1.3-1.2 1.2-.4 1.2,.4 1.5,1.1 3.3,4.1 2.1,4.3 4.7,12.4 2.6,5.6 5.1,8.9 4.2,5.3 5.3,4.6 4.9,2.3 6.4,1.6 8.5,.2 0,0Z" fill="#d65bd0" fill-opacity="0.5" stroke="#bb5cb6" stroke-width="2.5" stroke-linejoin="round"/>
</g>
<line x1="1128.50" y1="2241.92" x2="1128.50" y2="2300.18" stroke="#000" stroke-width="3"/>
<line x1="1127.00" y1="2298.68" x2="1257.50" y2="2298.68" stroke="#000" stroke-width="3"/>
<line x1="1120.50" y1="2296.10" x2="1128.50" y2="2296.10" stroke="#333333" stroke-width="3"/>
<text x="1112.70" y="2306.18" font-size="28" text-anchor="end" fill="#4d4d4d">0.0</text>
<line x1="1120.50" y1="2270.30" x2="1128.50" y2="2270.30" stroke="#333333" stroke-width="3"/>
<text x="1112.70" y="2280.38" font-size="28" text-anchor="end" fill="#4d4d4d">0.5</text>
<line x1="1120.50" y1="2244.50" x2="1128.50" y2="2244.50" stroke="#333333" stroke-width="3"/>
<text x="1112.70" y="2254.58" font-size="28" text-anchor="end" fill="#4d4d4d">1.0</text>
<clipPath id="dcB70t"><rect x="1088.50" y="2298.68" width="187.00" height="60"/></clipPath>
<g clip-path="url(#dcB70t)">
<line x1="1134.36" y1="2298.68" x2="1134.36" y2="2306.68" stroke="#333333" stroke-width="3"/>
<text x="1134.36" y="2335.26" font-size="28" text-anchor="middle" fill="#4d4d4d">0.3</text>
<line x1="1251.64" y1="2298.68" x2="1251.64" y2="2306.68" stroke="#333333" stroke-width="3"/>
<text x="1251.64" y="2335.26" font-size="28" text-anchor="middle" fill="#4d4d4d">0.5</text>
</g>
<clipPath id="dcB71"><rect x="1347.00" y="2238.92" width="129.00" height="59.76"/></clipPath>
<g clip-path="url(#dcB71)">
<path d="M1353.2,2296.1l0-3.8 1.2-1.1 1.1-1.9 2.4-5.8 8-32.5 2-4.4 .8-.9 .9-.4 .8,.5 1,1.4 2.4,6.1 6.3,25.3 2.5,8.4 2.7,5.3 1.5,1.8 1.4,1 2.3,.7 3.5,.3 76.1,0 0,0Z" fill="#7f8c8d" fill-opacity="0.45" stroke="#7e8584" stroke-width="2.5" stroke-linejoin="round"/>
<path d="M1353.2,2296.1l0-1.7 2.2-.7 2.3-1.6 2.5-2.5 1.9-2.8 4.5-11.3 7.7-23.5 2.8-5 1.4-1.3 1.1-.4 1.2,.4 1.3,1.2 2.9,4.5 2.2,5.6 8.7,27 3.6,6.7 1.9,2.2 1.6,1.3 4.1,1.3 4.3,.6 58.7,0 0,0Z" fill="#d65bd0" fill-opacity="0.5" stroke="#bb5cb6" stroke-width="2.5" stroke-linejoin="round"/>
</g>
<line x1="1347.00" y1="2241.92" x2="1347.00" y2="2300.18" stroke="#000" stroke-width="3"/>
<line x1="1345.50" y1="2298.68" x2="1476.00" y2="2298.68" stroke="#000" stroke-width="3"/>
<line x1="1339.00" y1="2296.10" x2="1347.00" y2="2296.10" stroke="#333333" stroke-width="3"/>
<text x="1331.20" y="2306.18" font-size="28" text-anchor="end" fill="#4d4d4d">0.0</text>
<line x1="1339.00" y1="2270.30" x2="1347.00" y2="2270.30" stroke="#333333" stroke-width="3"/>
<text x="1331.20" y="2280.38" font-size="28" text-anchor="end" fill="#4d4d4d">0.5</text>
<line x1="1339.00" y1="2244.50" x2="1347.00" y2="2244.50" stroke="#333333" stroke-width="3"/>
<text x="1331.20" y="2254.58" font-size="28" text-anchor="end" fill="#4d4d4d">1.0</text>
<clipPath id="dcB71t"><rect x="1307.00" y="2298.68" width="187.00" height="60"/></clipPath>
<g clip-path="url(#dcB71t)">
<line x1="1383.82" y1="2298.68" x2="1383.82" y2="2306.68" stroke="#333333" stroke-width="3"/>
<text x="1383.82" y="2335.26" font-size="28" text-anchor="middle" fill="#4d4d4d">0.05</text>
</g>
<clipPath id="dcB72"><rect x="1565.50" y="2238.92" width="129.00" height="59.76"/></clipPath>
<g clip-path="url(#dcB72)">
<path d="M1571.4,2296.1l0,0 56.2,0 4.2-.6 3.5-1.5 3.2-2.2 3.2-3.1 2.3-2.8 1.7-3 4.3-12 5.2-20.2 2.1-4.1 1-1 .8-.3 1.2,.6 1.2,1.2 2.1,4.5 7.4,31.5 1.9,5.8 2,4.1 1.5,2.1 1.7,.9 10.5,.1 0,0Z" fill="#7f8c8d" fill-opacity="0.45" stroke="#7e8584" stroke-width="2.5" stroke-linejoin="round"/>
<path d="M1571.4,2296.1l0,0 45-.7 7.5-.3 2.9-1 2-1.6 2.2-2.4 4.3-6.2 2.5-5.7 9.9-26 2.9-5.3 1-1.1 1.2-.5 1.8,.6 2.2,1.6 1.8,2.4 1.5,2.8 1.5,4.4 3.6,14.6 2.8,9.6 2.5,6.8 2.5,4.5 2.1,2.3 1.8,1 11.7,.2 0,0Z" fill="#d65bd0" fill-opacity="0.5" stroke="#bb5cb6" stroke-width="2.5" stroke-linejoin="round"/>
</g>
<line x1="1565.50" y1="2241.92" x2="1565.50" y2="2300.18" stroke="#000" stroke-width="3"/>
<line x1="1564.00" y1="2298.68" x2="1694.50" y2="2298.68" stroke="#000" stroke-width="3"/>
<line x1="1557.50" y1="2296.10" x2="1565.50" y2="2296.10" stroke="#333333" stroke-width="3"/>
<text x="1549.70" y="2306.18" font-size="28" text-anchor="end" fill="#4d4d4d">0.0</text>
<line x1="1557.50" y1="2270.30" x2="1565.50" y2="2270.30" stroke="#333333" stroke-width="3"/>
<text x="1549.70" y="2280.38" font-size="28" text-anchor="end" fill="#4d4d4d">0.5</text>
<line x1="1557.50" y1="2244.50" x2="1565.50" y2="2244.50" stroke="#333333" stroke-width="3"/>
<text x="1549.70" y="2254.58" font-size="28" text-anchor="end" fill="#4d4d4d">1.0</text>
<clipPath id="dcB72t"><rect x="1525.50" y="2298.68" width="187.00" height="60"/></clipPath>
<g clip-path="url(#dcB72t)">
<line x1="1571.36" y1="2298.68" x2="1571.36" y2="2306.68" stroke="#333333" stroke-width="3"/>
<text x="1571.36" y="2335.26" font-size="28" text-anchor="middle" fill="#4d4d4d">0.6</text>
<line x1="1688.64" y1="2298.68" x2="1688.64" y2="2306.68" stroke="#333333" stroke-width="3"/>
<text x="1688.64" y="2335.26" font-size="28" text-anchor="middle" fill="#4d4d4d">1.0</text>
</g>
<clipPath id="dcB73"><rect x="1784.00" y="2238.92" width="129.00" height="59.76"/></clipPath>
<g clip-path="url(#dcB73)">
<path d="M1789.9,2296.1l0,0 14.1-.1 3.5-.3 4.7-1.6 4.2-2.7 1.5-2 1.7-3.1 10-23.6 4.7-10.1 1.9-3 2.3-2.8 1.7-1.4 1.5-.5 1.3,.4 1.4,1 3.3,4.5 13,29.9 4.2,7.9 3.1,3.6 4.2,2.6 3.7,1.1 31.2,.2 0,0Z" fill="#7f8c8d" fill-opacity="0.45" stroke="#7e8584" stroke-width="2.5" stroke-linejoin="round"/>
<path d="M1789.9,2296.1l0-.1 14.7-.7 2.4-1.1 2.7-2.5 2.1-2.8 1.9-3.4 8.9-22.2 3.5-7.5 5-8.6 1.9-1.8 1.7-.5 1.5,.4 1.8,1.1 1.7,1.5 1.3,1.8 2.6,5.1 8.7,20.5 3.8,7.7 3.6,5.5 4.7,4.1 4.3,2.2 6.7,1.1 31.7,.2 0,0Z" fill="#d65bd0" fill-opacity="0.5" stroke="#bb5cb6" stroke-width="2.5" stroke-linejoin="round"/>
</g>
<line x1="1784.00" y1="2241.92" x2="1784.00" y2="2300.18" stroke="#000" stroke-width="3"/>
<line x1="1782.50" y1="2298.68" x2="1913.00" y2="2298.68" stroke="#000" stroke-width="3"/>
<line x1="1776.00" y1="2296.10" x2="1784.00" y2="2296.10" stroke="#333333" stroke-width="3"/>
<text x="1768.20" y="2306.18" font-size="28" text-anchor="end" fill="#4d4d4d">0.0</text>
<line x1="1776.00" y1="2270.30" x2="1784.00" y2="2270.30" stroke="#333333" stroke-width="3"/>
<text x="1768.20" y="2280.38" font-size="28" text-anchor="end" fill="#4d4d4d">0.5</text>
<line x1="1776.00" y1="2244.50" x2="1784.00" y2="2244.50" stroke="#333333" stroke-width="3"/>
<text x="1768.20" y="2254.58" font-size="28" text-anchor="end" fill="#4d4d4d">1.0</text>
<clipPath id="dcB73t"><rect x="1744.00" y="2298.68" width="187.00" height="60"/></clipPath>
<g clip-path="url(#dcB73t)">
<line x1="1789.86" y1="2298.68" x2="1789.86" y2="2306.68" stroke="#333333" stroke-width="3"/>
<text x="1789.86" y="2335.26" font-size="28" text-anchor="middle" fill="#4d4d4d">0.0</text>
<line x1="1868.74" y1="2298.68" x2="1868.74" y2="2306.68" stroke="#333333" stroke-width="3"/>
<text x="1868.74" y="2335.26" font-size="28" text-anchor="middle" fill="#4d4d4d">0.1</text>
</g>
<clipPath id="dcB74"><rect x="2002.50" y="2238.92" width="129.00" height="59.76"/></clipPath>
<g clip-path="url(#dcB74)">
<path d="M2008.4,2296.1l0-.4 1.1-.8 1-1.3 1.9-4.1 6-24.2 2.9-8.9 2.3-5.1 2.2-3.7 1.9-2.1 1.6-.6 1.5,.4 1.9,1.2 1.8,1.8 1.5,2.2 10.3,24.3 5.3,9.4 4.4,5.4 6.1,4.3 4,1.4 8.5,.7 51,.1 0,0Z" fill="#7f8c8d" fill-opacity="0.45" stroke="#7e8584" stroke-width="2.5" stroke-linejoin="round"/>
<path d="M2008.4,2296.1l0-.2 2.3-.5 2.7-1.4 2.5-1.8 2-2.2 8.2-12.6 13.5-23.6 6.2-6.9 2.2-1.5 2.1-.5 1.9,.3 2.2,.8 2.6,1.6 1.9,1.5 12.2,16.1 10.4,12.7 4.4,4.5 5,3.8 7.8,4.4 9.2,3.3 6.7,1.4 11.2,.8 0,0Z" fill="#d65bd0" fill-opacity="0.5" stroke="#bb5cb6" stroke-width="2.5" stroke-linejoin="round"/>
</g>
<line x1="2002.50" y1="2241.92" x2="2002.50" y2="2300.18" stroke="#000" stroke-width="3"/>
<line x1="2001.00" y1="2298.68" x2="2131.50" y2="2298.68" stroke="#000" stroke-width="3"/>
<line x1="1994.50" y1="2296.10" x2="2002.50" y2="2296.10" stroke="#333333" stroke-width="3"/>
<text x="1986.70" y="2306.18" font-size="28" text-anchor="end" fill="#4d4d4d">0.0</text>
<line x1="1994.50" y1="2270.30" x2="2002.50" y2="2270.30" stroke="#333333" stroke-width="3"/>
<text x="1986.70" y="2280.38" font-size="28" text-anchor="end" fill="#4d4d4d">0.5</text>
<line x1="1994.50" y1="2244.50" x2="2002.50" y2="2244.50" stroke="#333333" stroke-width="3"/>
<text x="1986.70" y="2254.58" font-size="28" text-anchor="end" fill="#4d4d4d">1.0</text>
<clipPath id="dcB74t"><rect x="1962.50" y="2298.68" width="187.00" height="60"/></clipPath>
<g clip-path="url(#dcB74t)">
<line x1="2008.65" y1="2298.68" x2="2008.65" y2="2306.68" stroke="#333333" stroke-width="3"/>
<text x="2008.65" y="2335.26" font-size="28" text-anchor="middle" fill="#4d4d4d">0.0</text>
<line x1="2086.82" y1="2298.68" x2="2086.82" y2="2306.68" stroke="#333333" stroke-width="3"/>
<text x="2086.82" y="2335.26" font-size="28" text-anchor="middle" fill="#4d4d4d">0.1</text>
</g>
<text x="1193.00" y="2369.50" font-size="38" text-anchor="middle" fill="#000" font-family="'Liberation Serif', 'Times New Roman', serif">ρ</text>
<text x="1411.50" y="2373.00" font-size="40" text-anchor="middle" fill="#000" font-family="'Liberation Serif', 'Times New Roman', serif" stroke="#000" stroke-width="0.6">σ</text>
<text x="1630.00" y="2369.50" font-size="36" text-anchor="middle" fill="#000"><tspan font-family="'Liberation Serif', 'Times New Roman', serif">ω</tspan><tspan font-size="24.5" dy="6.5">rational</tspan></text>
<text x="1848.50" y="2369.50" font-size="36" text-anchor="middle" fill="#000"><tspan font-family="'Liberation Serif', 'Times New Roman', serif">ω</tspan><tspan font-size="24.5" dy="6.5">lottery</tspan></text>
<text x="2067.00" y="2369.50" font-size="36" text-anchor="middle" fill="#000"><tspan font-family="'Liberation Serif', 'Times New Roman', serif">ω</tspan><tspan font-size="24.5" dy="6.5">surebet</tspan></text></svg></body></html>
